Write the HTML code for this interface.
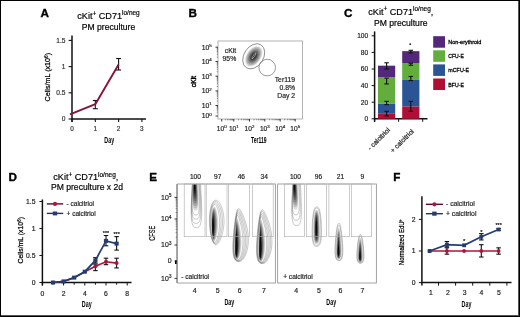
<!DOCTYPE html>
<html><head><meta charset="utf-8"><style>
html,body{margin:0;padding:0;background:#fff;overflow:hidden;}
svg{display:block;will-change:transform;}
text{font-family:"Liberation Sans", sans-serif;}
</style></head><body>
<svg width="520" height="317" viewBox="0 0 520 317" font-family='"Liberation Sans", sans-serif'>
<rect x="0" y="0" width="520" height="317" fill="#fff"/>
<text x="40.5" y="16.7" font-size="11.7" text-anchor="start" font-weight="bold" fill="#000" stroke="#000" stroke-width="0.35">A</text>
<text x="108.5" y="19.2" font-size="9.1" text-anchor="middle" font-weight="normal" fill="#000"  stroke="#000" stroke-width="0.18">cKit<tspan font-size="6.5" dy="-3.4">+</tspan><tspan dy="3.4"> CD71</tspan><tspan font-size="6.5" dy="-3.8">lo/neg</tspan></text>
<text x="108.5" y="29.8" font-size="8.6" text-anchor="middle" font-weight="normal" fill="#000"  stroke="#000" stroke-width="0.18">PM preculture</text>
<line x1="72" y1="35.5" x2="72" y2="122" stroke="#111" stroke-width="1.5" />
<line x1="71.4" y1="119" x2="146" y2="119" stroke="#111" stroke-width="1.5" />
<line x1="68.6" y1="119.0" x2="72" y2="119.0" stroke="#111" stroke-width="1.1" />
<text x="65.4" y="121.4" font-size="6.6" text-anchor="end" font-weight="normal" fill="#333"  stroke="#333" stroke-width="0.18">0</text>
<line x1="68.6" y1="92.8" x2="72" y2="92.8" stroke="#111" stroke-width="1.1" />
<text x="65.4" y="95.2" font-size="6.6" text-anchor="end" font-weight="normal" fill="#333"  stroke="#333" stroke-width="0.18">0.5</text>
<line x1="68.6" y1="66.6" x2="72" y2="66.6" stroke="#111" stroke-width="1.1" />
<text x="65.4" y="69.0" font-size="6.6" text-anchor="end" font-weight="normal" fill="#333"  stroke="#333" stroke-width="0.18">1</text>
<line x1="68.6" y1="40.400000000000006" x2="72" y2="40.400000000000006" stroke="#111" stroke-width="1.1" />
<text x="65.4" y="42.800000000000004" font-size="6.6" text-anchor="end" font-weight="normal" fill="#333"  stroke="#333" stroke-width="0.18">1.5</text>
<line x1="72" y1="119" x2="72" y2="122" stroke="#111" stroke-width="1.1" />
<text x="72" y="130.9" font-size="6.4" text-anchor="middle" font-weight="normal" fill="#333"  stroke="#333" stroke-width="0.18">0</text>
<line x1="95.3" y1="119" x2="95.3" y2="122" stroke="#111" stroke-width="1.1" />
<text x="95.3" y="130.9" font-size="6.4" text-anchor="middle" font-weight="normal" fill="#333"  stroke="#333" stroke-width="0.18">1</text>
<line x1="118.6" y1="119" x2="118.6" y2="122" stroke="#111" stroke-width="1.1" />
<text x="118.6" y="130.9" font-size="6.4" text-anchor="middle" font-weight="normal" fill="#333"  stroke="#333" stroke-width="0.18">2</text>
<line x1="141.9" y1="119" x2="141.9" y2="122" stroke="#111" stroke-width="1.1" />
<text x="141.9" y="130.9" font-size="6.4" text-anchor="middle" font-weight="normal" fill="#333"  stroke="#333" stroke-width="0.18">3</text>
<text x="109.2" y="143.2" font-size="9.2" text-anchor="middle" font-weight="bold" fill="#000" textLength="9.8" lengthAdjust="spacingAndGlyphs">Day</text>
<text transform="translate(50,77.2) rotate(-90)" font-size="7.8" stroke="#000" stroke-width="0.25" text-anchor="middle" textLength="48.5" lengthAdjust="spacingAndGlyphs">Cells/mL (x10<tspan font-size="5" dy="-2.5">6</tspan><tspan dy="2.5">)</tspan></text>
<line x1="95.3" y1="100.5" x2="95.3" y2="108.7" stroke="#111" stroke-width="1.1" />
<line x1="92.8" y1="100.5" x2="97.8" y2="100.5" stroke="#111" stroke-width="1.1" />
<line x1="92.8" y1="108.7" x2="97.8" y2="108.7" stroke="#111" stroke-width="1.1" />
<line x1="118.6" y1="58.5" x2="118.6" y2="70" stroke="#111" stroke-width="1.1" />
<line x1="116.1" y1="58.5" x2="121.1" y2="58.5" stroke="#111" stroke-width="1.1" />
<line x1="116.1" y1="70" x2="121.1" y2="70" stroke="#111" stroke-width="1.1" />
<polyline points="70,114.3 95.3,104.2 118.6,64.6" fill="none" stroke="#85143a" stroke-width="1.9" stroke-linejoin="round"/>
<text x="188.4" y="16.8" font-size="11.7" text-anchor="start" font-weight="bold" fill="#000" stroke="#000" stroke-width="0.35">B</text>
<rect x="218" y="41" width="84.5" height="78" fill="none" stroke="#aaa" stroke-width="0.9"/>
<line x1="215.5" y1="47.2" x2="218" y2="47.2" stroke="#222" stroke-width="0.9" />
<text x="211.7" y="49.6" font-size="6.8" text-anchor="end" font-weight="normal" fill="#222"  stroke="#222" stroke-width="0.18">10<tspan font-size="4.4" dy="-2.7">5</tspan></text>
<line x1="215.5" y1="61.5" x2="218" y2="61.5" stroke="#222" stroke-width="0.9" />
<text x="211.7" y="63.9" font-size="6.8" text-anchor="end" font-weight="normal" fill="#222"  stroke="#222" stroke-width="0.18">10<tspan font-size="4.4" dy="-2.7">4</tspan></text>
<line x1="215.5" y1="76.2" x2="218" y2="76.2" stroke="#222" stroke-width="0.9" />
<text x="211.7" y="78.60000000000001" font-size="6.8" text-anchor="end" font-weight="normal" fill="#222"  stroke="#222" stroke-width="0.18">10<tspan font-size="4.4" dy="-2.7">3</tspan></text>
<line x1="215.5" y1="90.9" x2="218" y2="90.9" stroke="#222" stroke-width="0.9" />
<text x="211.7" y="93.30000000000001" font-size="6.8" text-anchor="end" font-weight="normal" fill="#222"  stroke="#222" stroke-width="0.18">10<tspan font-size="4.4" dy="-2.7">2</tspan></text>
<line x1="215.5" y1="105.5" x2="218" y2="105.5" stroke="#222" stroke-width="0.9" />
<text x="211.7" y="107.9" font-size="6.8" text-anchor="end" font-weight="normal" fill="#222"  stroke="#222" stroke-width="0.18">10<tspan font-size="4.4" dy="-2.7">1</tspan></text>
<line x1="215.5" y1="116.0" x2="218" y2="116.0" stroke="#222" stroke-width="0.9" />
<text x="211.7" y="118.4" font-size="6.8" text-anchor="end" font-weight="normal" fill="#222"  stroke="#222" stroke-width="0.18">10<tspan font-size="4.4" dy="-2.7">0</tspan></text>
<line x1="216.8" y1="112.8391850455282" x2="218" y2="112.8391850455282" stroke="#444" stroke-width="0.6" />
<line x1="216.8" y1="110.99022682544354" x2="218" y2="110.99022682544354" stroke="#444" stroke-width="0.6" />
<line x1="216.8" y1="109.6783700910564" x2="218" y2="109.6783700910564" stroke="#444" stroke-width="0.6" />
<line x1="216.8" y1="108.6608149544718" x2="218" y2="108.6608149544718" stroke="#444" stroke-width="0.6" />
<line x1="216.8" y1="107.82941187097174" x2="218" y2="107.82941187097174" stroke="#444" stroke-width="0.6" />
<line x1="216.8" y1="107.1264705798503" x2="218" y2="107.1264705798503" stroke="#444" stroke-width="0.6" />
<line x1="216.8" y1="106.51755513658459" x2="218" y2="106.51755513658459" stroke="#444" stroke-width="0.6" />
<line x1="216.8" y1="105.98045365088709" x2="218" y2="105.98045365088709" stroke="#444" stroke-width="0.6" />
<line x1="216.8" y1="101.10496206330588" x2="218" y2="101.10496206330588" stroke="#444" stroke-width="0.6" />
<line x1="216.8" y1="98.53402968109293" x2="218" y2="98.53402968109293" stroke="#444" stroke-width="0.6" />
<line x1="216.8" y1="96.70992412661175" x2="218" y2="96.70992412661175" stroke="#444" stroke-width="0.6" />
<line x1="216.8" y1="95.29503793669413" x2="218" y2="95.29503793669413" stroke="#444" stroke-width="0.6" />
<line x1="216.8" y1="94.13899174439881" x2="218" y2="94.13899174439881" stroke="#444" stroke-width="0.6" />
<line x1="216.8" y1="93.16156861579185" x2="218" y2="93.16156861579185" stroke="#444" stroke-width="0.6" />
<line x1="216.8" y1="92.31488618991763" x2="218" y2="92.31488618991763" stroke="#444" stroke-width="0.6" />
<line x1="216.8" y1="91.56805936218586" x2="218" y2="91.56805936218586" stroke="#444" stroke-width="0.6" />
<line x1="216.8" y1="86.47485906373949" x2="218" y2="86.47485906373949" stroke="#444" stroke-width="0.6" />
<line x1="216.8" y1="83.88631755562096" x2="218" y2="83.88631755562096" stroke="#444" stroke-width="0.6" />
<line x1="216.8" y1="82.04971812747895" x2="218" y2="82.04971812747895" stroke="#444" stroke-width="0.6" />
<line x1="216.8" y1="80.62514093626052" x2="218" y2="80.62514093626052" stroke="#444" stroke-width="0.6" />
<line x1="216.8" y1="79.46117661936044" x2="218" y2="79.46117661936044" stroke="#444" stroke-width="0.6" />
<line x1="216.8" y1="78.47705881179043" x2="218" y2="78.47705881179043" stroke="#444" stroke-width="0.6" />
<line x1="216.8" y1="77.62457719121844" x2="218" y2="77.62457719121844" stroke="#444" stroke-width="0.6" />
<line x1="216.8" y1="76.87263511124192" x2="218" y2="76.87263511124192" stroke="#444" stroke-width="0.6" />
<line x1="216.8" y1="71.77485906373948" x2="218" y2="71.77485906373948" stroke="#444" stroke-width="0.6" />
<line x1="216.8" y1="69.18631755562096" x2="218" y2="69.18631755562096" stroke="#444" stroke-width="0.6" />
<line x1="216.8" y1="67.34971812747895" x2="218" y2="67.34971812747895" stroke="#444" stroke-width="0.6" />
<line x1="216.8" y1="65.92514093626052" x2="218" y2="65.92514093626052" stroke="#444" stroke-width="0.6" />
<line x1="216.8" y1="64.76117661936044" x2="218" y2="64.76117661936044" stroke="#444" stroke-width="0.6" />
<line x1="216.8" y1="63.777058811790425" x2="218" y2="63.777058811790425" stroke="#444" stroke-width="0.6" />
<line x1="216.8" y1="62.92457719121843" x2="218" y2="62.92457719121843" stroke="#444" stroke-width="0.6" />
<line x1="216.8" y1="62.172635111241924" x2="218" y2="62.172635111241924" stroke="#444" stroke-width="0.6" />
<line x1="216.8" y1="57.19527106200507" x2="218" y2="57.19527106200507" stroke="#444" stroke-width="0.6" />
<line x1="216.8" y1="54.67716605750883" x2="218" y2="54.67716605750883" stroke="#444" stroke-width="0.6" />
<line x1="216.8" y1="52.89054212401014" x2="218" y2="52.89054212401014" stroke="#444" stroke-width="0.6" />
<line x1="216.8" y1="51.50472893799493" x2="218" y2="51.50472893799493" stroke="#444" stroke-width="0.6" />
<line x1="216.8" y1="50.3724371195139" x2="218" y2="50.3724371195139" stroke="#444" stroke-width="0.6" />
<line x1="216.8" y1="49.415098027796134" x2="218" y2="49.415098027796134" stroke="#444" stroke-width="0.6" />
<line x1="216.8" y1="48.58581318601521" x2="218" y2="48.58581318601521" stroke="#444" stroke-width="0.6" />
<line x1="216.8" y1="47.854332115017655" x2="218" y2="47.854332115017655" stroke="#444" stroke-width="0.6" />
<line x1="221.7" y1="119" x2="221.7" y2="121.5" stroke="#222" stroke-width="0.9" />
<text x="221.7" y="131.1" font-size="6.6" text-anchor="middle" font-weight="normal" fill="#222"  stroke="#222" stroke-width="0.18">10<tspan font-size="4.4" dy="-2.7">0</tspan></text>
<line x1="233.8" y1="119" x2="233.8" y2="121.5" stroke="#222" stroke-width="0.9" />
<text x="233.8" y="131.1" font-size="6.6" text-anchor="middle" font-weight="normal" fill="#222"  stroke="#222" stroke-width="0.18">10<tspan font-size="4.4" dy="-2.7">1</tspan></text>
<line x1="249.5" y1="119" x2="249.5" y2="121.5" stroke="#222" stroke-width="0.9" />
<text x="249.5" y="131.1" font-size="6.6" text-anchor="middle" font-weight="normal" fill="#222"  stroke="#222" stroke-width="0.18">10<tspan font-size="4.4" dy="-2.7">2</tspan></text>
<line x1="264.8" y1="119" x2="264.8" y2="121.5" stroke="#222" stroke-width="0.9" />
<text x="264.8" y="131.1" font-size="6.6" text-anchor="middle" font-weight="normal" fill="#222"  stroke="#222" stroke-width="0.18">10<tspan font-size="4.4" dy="-2.7">3</tspan></text>
<line x1="280.2" y1="119" x2="280.2" y2="121.5" stroke="#222" stroke-width="0.9" />
<text x="280.2" y="131.1" font-size="6.6" text-anchor="middle" font-weight="normal" fill="#222"  stroke="#222" stroke-width="0.18">10<tspan font-size="4.4" dy="-2.7">4</tspan></text>
<line x1="295.2" y1="119" x2="295.2" y2="121.5" stroke="#222" stroke-width="0.9" />
<text x="295.2" y="131.1" font-size="6.6" text-anchor="middle" font-weight="normal" fill="#222"  stroke="#222" stroke-width="0.18">10<tspan font-size="4.4" dy="-2.7">5</tspan></text>
<line x1="225.34246294753416" y1="119" x2="225.34246294753416" y2="120.3" stroke="#444" stroke-width="0.6" />
<line x1="227.47316718210791" y1="119" x2="227.47316718210791" y2="120.3" stroke="#444" stroke-width="0.6" />
<line x1="228.98492589506836" y1="119" x2="228.98492589506836" y2="120.3" stroke="#444" stroke-width="0.6" />
<line x1="230.15753705246584" y1="119" x2="230.15753705246584" y2="120.3" stroke="#444" stroke-width="0.6" />
<line x1="231.11563012964208" y1="119" x2="231.11563012964208" y2="120.3" stroke="#444" stroke-width="0.6" />
<line x1="231.9256862841725" y1="119" x2="231.9256862841725" y2="120.3" stroke="#444" stroke-width="0.6" />
<line x1="232.62738884260253" y1="119" x2="232.62738884260253" y2="120.3" stroke="#444" stroke-width="0.6" />
<line x1="233.24633436421584" y1="119" x2="233.24633436421584" y2="120.3" stroke="#444" stroke-width="0.6" />
<line x1="238.52617093192453" y1="119" x2="238.52617093192453" y2="120.3" stroke="#444" stroke-width="0.6" />
<line x1="241.29080369909872" y1="119" x2="241.29080369909872" y2="120.3" stroke="#444" stroke-width="0.6" />
<line x1="243.252341863849" y1="119" x2="243.252341863849" y2="120.3" stroke="#444" stroke-width="0.6" />
<line x1="244.7738290680755" y1="119" x2="244.7738290680755" y2="120.3" stroke="#444" stroke-width="0.6" />
<line x1="246.0169746310232" y1="119" x2="246.0169746310232" y2="120.3" stroke="#444" stroke-width="0.6" />
<line x1="247.06803922822382" y1="119" x2="247.06803922822382" y2="120.3" stroke="#444" stroke-width="0.6" />
<line x1="247.97851279577353" y1="119" x2="247.97851279577353" y2="120.3" stroke="#444" stroke-width="0.6" />
<line x1="248.7816073981974" y1="119" x2="248.7816073981974" y2="120.3" stroke="#444" stroke-width="0.6" />
<line x1="254.1057589336589" y1="119" x2="254.1057589336589" y2="120.3" stroke="#444" stroke-width="0.6" />
<line x1="256.79995519721086" y1="119" x2="256.79995519721086" y2="120.3" stroke="#444" stroke-width="0.6" />
<line x1="258.7115178673178" y1="119" x2="258.7115178673178" y2="120.3" stroke="#444" stroke-width="0.6" />
<line x1="260.1942410663411" y1="119" x2="260.1942410663411" y2="120.3" stroke="#444" stroke-width="0.6" />
<line x1="261.40571413086974" y1="119" x2="261.40571413086974" y2="120.3" stroke="#444" stroke-width="0.6" />
<line x1="262.43000001221816" y1="119" x2="262.43000001221816" y2="120.3" stroke="#444" stroke-width="0.6" />
<line x1="263.31727680097674" y1="119" x2="263.31727680097674" y2="120.3" stroke="#444" stroke-width="0.6" />
<line x1="264.09991039442167" y1="119" x2="264.09991039442167" y2="120.3" stroke="#444" stroke-width="0.6" />
<line x1="269.43586193322534" y1="119" x2="269.43586193322534" y2="120.3" stroke="#444" stroke-width="0.6" />
<line x1="272.1476673226828" y1="119" x2="272.1476673226828" y2="120.3" stroke="#444" stroke-width="0.6" />
<line x1="274.0717238664506" y1="119" x2="274.0717238664506" y2="120.3" stroke="#444" stroke-width="0.6" />
<line x1="275.56413806677466" y1="119" x2="275.56413806677466" y2="120.3" stroke="#444" stroke-width="0.6" />
<line x1="276.7835292559081" y1="119" x2="276.7835292559081" y2="120.3" stroke="#444" stroke-width="0.6" />
<line x1="277.8145098162195" y1="119" x2="277.8145098162195" y2="120.3" stroke="#444" stroke-width="0.6" />
<line x1="278.70758579967594" y1="119" x2="278.70758579967594" y2="120.3" stroke="#444" stroke-width="0.6" />
<line x1="279.4953346453656" y1="119" x2="279.4953346453656" y2="120.3" stroke="#444" stroke-width="0.6" />
<line x1="284.7154499349597" y1="119" x2="284.7154499349597" y2="120.3" stroke="#444" stroke-width="0.6" />
<line x1="287.3568188207949" y1="119" x2="287.3568188207949" y2="120.3" stroke="#444" stroke-width="0.6" />
<line x1="289.2308998699194" y1="119" x2="289.2308998699194" y2="120.3" stroke="#444" stroke-width="0.6" />
<line x1="290.6845500650403" y1="119" x2="290.6845500650403" y2="120.3" stroke="#444" stroke-width="0.6" />
<line x1="291.87226875575465" y1="119" x2="291.87226875575465" y2="120.3" stroke="#444" stroke-width="0.6" />
<line x1="292.87647060021385" y1="119" x2="292.87647060021385" y2="120.3" stroke="#444" stroke-width="0.6" />
<line x1="293.7463498048791" y1="119" x2="293.7463498048791" y2="120.3" stroke="#444" stroke-width="0.6" />
<line x1="294.51363764158987" y1="119" x2="294.51363764158987" y2="120.3" stroke="#444" stroke-width="0.6" />
<text transform="translate(196,81.5) rotate(-90)" font-size="7.2" text-anchor="middle" textLength="11.3" lengthAdjust="spacingAndGlyphs" fill="#000" stroke="#000" stroke-width="0.4">cKit</text>
<text x="258.8" y="143.3" font-size="8.6" text-anchor="middle" font-weight="bold" fill="#000" textLength="15.5" lengthAdjust="spacingAndGlyphs">Ter119</text>
<defs><radialGradient id="gB" cx="0.5" cy="0.5" r="0.5"><stop offset="0" stop-color="#2a2a2a"/><stop offset="0.3" stop-color="#444"/><stop offset="0.55" stop-color="#888"/><stop offset="0.8" stop-color="#c8c8c8"/><stop offset="1" stop-color="#fff" stop-opacity="0"/></radialGradient></defs>
<g transform="translate(253.7,56.3) rotate(-57)">
<ellipse cx="0" cy="0" rx="12.5" ry="8" fill="url(#gB)"/>
<ellipse cx="0.5" cy="0" rx="3.5" ry="0.7" fill="none" stroke="#bbb" stroke-width="0.6"/>
<ellipse cx="0" cy="0" rx="13.6" ry="9.7" fill="none" stroke="#777" stroke-width="0.75"/>
</g>
<ellipse cx="267.2" cy="67.6" rx="8.3" ry="8.3" fill="none" stroke="#777" stroke-width="0.75"/>
<text x="236.2" y="53.3" font-size="6.8" text-anchor="end" font-weight="normal" fill="#222"  stroke="#222" stroke-width="0.18">cKit</text>
<text x="236.2" y="61" font-size="6.8" text-anchor="end" font-weight="normal" fill="#222"  stroke="#222" stroke-width="0.18">95%</text>
<text x="295" y="82" font-size="6.8" text-anchor="end" font-weight="normal" fill="#222"  stroke="#222" stroke-width="0.18">Ter119</text>
<text x="295" y="89.5" font-size="6.8" text-anchor="end" font-weight="normal" fill="#222"  stroke="#222" stroke-width="0.18">0.8%</text>
<text x="295" y="98.0" font-size="6.8" text-anchor="end" font-weight="normal" fill="#222"  stroke="#222" stroke-width="0.18">Day 2</text>
<text x="344.1" y="16.8" font-size="11.7" text-anchor="start" font-weight="bold" fill="#000" stroke="#000" stroke-width="0.35">C</text>
<text x="400.8" y="14.5" font-size="9.1" text-anchor="middle" font-weight="normal" fill="#000"  stroke="#000" stroke-width="0.18">cKit<tspan font-size="6.5" dy="-3.4">+</tspan><tspan dy="3.4"> CD71</tspan><tspan font-size="6.5" dy="-3.8">lo/neg</tspan><tspan dy="3.8">,</tspan></text>
<text x="400.8" y="25.8" font-size="8.6" text-anchor="middle" font-weight="normal" fill="#000"  stroke="#000" stroke-width="0.18">PM preculture</text>
<line x1="374.6" y1="31.4" x2="374.6" y2="121.8" stroke="#111" stroke-width="1.5" />
<line x1="374.0" y1="118.8" x2="427.5" y2="118.8" stroke="#111" stroke-width="1.5" />
<line x1="371.6" y1="118.8" x2="374.6" y2="118.8" stroke="#111" stroke-width="1" />
<text x="368.2" y="121.2" font-size="6.6" text-anchor="end" font-weight="normal" fill="#222"  stroke="#222" stroke-width="0.18">0</text>
<line x1="371.6" y1="102.2" x2="374.6" y2="102.2" stroke="#111" stroke-width="1" />
<text x="368.2" y="104.60000000000001" font-size="6.6" text-anchor="end" font-weight="normal" fill="#222"  stroke="#222" stroke-width="0.18">20</text>
<line x1="371.6" y1="85.6" x2="374.6" y2="85.6" stroke="#111" stroke-width="1" />
<text x="368.2" y="88.0" font-size="6.6" text-anchor="end" font-weight="normal" fill="#222"  stroke="#222" stroke-width="0.18">40</text>
<line x1="371.6" y1="69.0" x2="374.6" y2="69.0" stroke="#111" stroke-width="1" />
<text x="368.2" y="71.4" font-size="6.6" text-anchor="end" font-weight="normal" fill="#222"  stroke="#222" stroke-width="0.18">60</text>
<line x1="371.6" y1="52.400000000000006" x2="374.6" y2="52.400000000000006" stroke="#111" stroke-width="1" />
<text x="368.2" y="54.800000000000004" font-size="6.6" text-anchor="end" font-weight="normal" fill="#222"  stroke="#222" stroke-width="0.18">80</text>
<line x1="371.6" y1="35.8" x2="374.6" y2="35.8" stroke="#111" stroke-width="1" />
<text x="368.2" y="38.199999999999996" font-size="6.6" text-anchor="end" font-weight="normal" fill="#222"  stroke="#222" stroke-width="0.18">100</text>
<line x1="374.6" y1="118.8" x2="374.6" y2="121.8" stroke="#111" stroke-width="1" />
<line x1="398.6" y1="118.8" x2="398.6" y2="121.8" stroke="#111" stroke-width="1" />
<line x1="422.7" y1="118.8" x2="422.7" y2="121.8" stroke="#111" stroke-width="1" />
<rect x="378" y="113.82" width="17.2" height="4.98" fill="#b10e36"/>
<rect x="378" y="103.86" width="17.2" height="9.96" fill="#2b5495"/>
<rect x="378" y="77.30" width="17.2" height="26.56" fill="#62ad3c"/>
<rect x="378" y="65.68" width="17.2" height="11.62" fill="#53277a"/>
<rect x="402.2" y="106.35" width="17.2" height="12.45" fill="#b10e36"/>
<rect x="402.2" y="79.96" width="17.2" height="26.39" fill="#2b5495"/>
<rect x="402.2" y="63.19" width="17.2" height="16.77" fill="#62ad3c"/>
<rect x="402.2" y="51.16" width="17.2" height="12.04" fill="#53277a"/>
<line x1="386.6" y1="111.33" x2="386.6" y2="115.895" stroke="#111" stroke-width="1.1" />
<line x1="384.35" y1="111.33" x2="388.85" y2="111.33" stroke="#111" stroke-width="1.1" />
<line x1="384.35" y1="115.895" x2="388.85" y2="115.895" stroke="#111" stroke-width="1.1" />
<line x1="386.6" y1="101.37" x2="386.6" y2="104.69" stroke="#111" stroke-width="1.1" />
<line x1="384.35" y1="101.37" x2="388.85" y2="101.37" stroke="#111" stroke-width="1.1" />
<line x1="384.35" y1="104.69" x2="388.85" y2="104.69" stroke="#111" stroke-width="1.1" />
<line x1="386.6" y1="78.13" x2="386.6" y2="83.94" stroke="#111" stroke-width="1.1" />
<line x1="384.35" y1="78.13" x2="388.85" y2="78.13" stroke="#111" stroke-width="1.1" />
<line x1="384.35" y1="83.94" x2="388.85" y2="83.94" stroke="#111" stroke-width="1.1" />
<line x1="386.6" y1="62.775" x2="386.6" y2="69.0" stroke="#111" stroke-width="1.1" />
<line x1="384.35" y1="62.775" x2="388.85" y2="62.775" stroke="#111" stroke-width="1.1" />
<line x1="384.35" y1="69.0" x2="388.85" y2="69.0" stroke="#111" stroke-width="1.1" />
<line x1="410.8" y1="101.37" x2="410.8" y2="111.33" stroke="#111" stroke-width="1.1" />
<line x1="408.55" y1="101.37" x2="413.05" y2="101.37" stroke="#111" stroke-width="1.1" />
<line x1="408.55" y1="111.33" x2="413.05" y2="111.33" stroke="#111" stroke-width="1.1" />
<line x1="410.8" y1="76.47" x2="410.8" y2="80.62" stroke="#111" stroke-width="1.1" />
<line x1="408.55" y1="76.47" x2="413.05" y2="76.47" stroke="#111" stroke-width="1.1" />
<line x1="408.55" y1="80.62" x2="413.05" y2="80.62" stroke="#111" stroke-width="1.1" />
<line x1="410.8" y1="63.19" x2="410.8" y2="65.265" stroke="#111" stroke-width="1.1" />
<line x1="408.55" y1="63.19" x2="413.05" y2="63.19" stroke="#111" stroke-width="1.1" />
<line x1="408.55" y1="65.265" x2="413.05" y2="65.265" stroke="#111" stroke-width="1.1" />
<line x1="410.8" y1="50.325" x2="410.8" y2="52.815" stroke="#111" stroke-width="1.1" />
<line x1="408.55" y1="50.325" x2="413.05" y2="50.325" stroke="#111" stroke-width="1.1" />
<line x1="408.55" y1="52.815" x2="413.05" y2="52.815" stroke="#111" stroke-width="1.1" />
<circle cx="410.2" cy="44.1" r="0.9" fill="#111"/>
<rect x="433.2" y="36.20" width="11.8" height="11.5" fill="#53277a"/>
<text x="448.3" y="44.2" font-size="6.1" text-anchor="start" font-weight="normal" fill="#000" textLength="33" lengthAdjust="spacingAndGlyphs" stroke="#000" stroke-width="0.3">Non-erythroid</text>
<rect x="433.2" y="50.30" width="11.8" height="11.5" fill="#62ad3c"/>
<text x="448.3" y="58.300000000000004" font-size="6.1" text-anchor="start" font-weight="normal" fill="#000" textLength="15.5" lengthAdjust="spacingAndGlyphs" stroke="#000" stroke-width="0.3">CFU-E</text>
<rect x="433.2" y="64.40" width="11.8" height="11.5" fill="#2b5495"/>
<text x="448.3" y="72.4" font-size="6.1" text-anchor="start" font-weight="normal" fill="#000" textLength="20.8" lengthAdjust="spacingAndGlyphs" stroke="#000" stroke-width="0.3">mCFU-E</text>
<rect x="433.2" y="78.50" width="11.8" height="11.5" fill="#b10e36"/>
<text x="448.3" y="86.5" font-size="6.1" text-anchor="start" font-weight="normal" fill="#000" textLength="15.6" lengthAdjust="spacingAndGlyphs" stroke="#000" stroke-width="0.3">BFU-E</text>
<text transform="translate(390.6,130.4) rotate(-45)" font-size="6.8" text-anchor="end" fill="#222" stroke="#222" stroke-width="0.2">- calcitriol</text>
<text transform="translate(414.4,131.8) rotate(-45)" font-size="6.8" text-anchor="end" fill="#222" stroke="#222" stroke-width="0.2">+ calcitriol</text>
<text x="8.5" y="180.6" font-size="11.7" text-anchor="start" font-weight="bold" fill="#000" stroke="#000" stroke-width="0.35">D</text>
<text x="85.8" y="180.4" font-size="9.1" text-anchor="middle" font-weight="normal" fill="#000"  stroke="#000" stroke-width="0.18">cKit<tspan font-size="6.5" dy="-3.4">+</tspan><tspan dy="3.4"> CD71</tspan><tspan font-size="6.5" dy="-3.8">lo/neg</tspan><tspan dy="3.8">,</tspan></text>
<text x="87" y="190" font-size="8.6" text-anchor="middle" font-weight="normal" fill="#000"  stroke="#000" stroke-width="0.18">PM preculture x 2d</text>
<line x1="42.4" y1="199.5" x2="42.4" y2="285.5" stroke="#111" stroke-width="1.5" />
<line x1="41.8" y1="282.5" x2="131.5" y2="282.5" stroke="#111" stroke-width="1.5" />
<line x1="39.4" y1="282.5" x2="42.4" y2="282.5" stroke="#111" stroke-width="1" />
<text x="35.5" y="284.9" font-size="6.8" text-anchor="end" font-weight="normal" fill="#222"  stroke="#222" stroke-width="0.18">0</text>
<line x1="39.4" y1="255.5" x2="42.4" y2="255.5" stroke="#111" stroke-width="1" />
<text x="35.5" y="257.9" font-size="6.8" text-anchor="end" font-weight="normal" fill="#222"  stroke="#222" stroke-width="0.18">0.5</text>
<line x1="39.4" y1="228.5" x2="42.4" y2="228.5" stroke="#111" stroke-width="1" />
<text x="35.5" y="230.9" font-size="6.8" text-anchor="end" font-weight="normal" fill="#222"  stroke="#222" stroke-width="0.18">1</text>
<line x1="39.4" y1="201.5" x2="42.4" y2="201.5" stroke="#111" stroke-width="1" />
<text x="35.5" y="203.9" font-size="6.8" text-anchor="end" font-weight="normal" fill="#222"  stroke="#222" stroke-width="0.18">1.5</text>
<line x1="42.4" y1="282.5" x2="42.4" y2="285.5" stroke="#111" stroke-width="1" />
<text x="42.4" y="295.5" font-size="6.8" text-anchor="middle" font-weight="normal" fill="#222"  stroke="#222" stroke-width="0.18">0</text>
<line x1="53.0" y1="282.5" x2="53.0" y2="284.7" stroke="#111" stroke-width="1" />
<line x1="63.599999999999994" y1="282.5" x2="63.599999999999994" y2="285.5" stroke="#111" stroke-width="1" />
<text x="63.599999999999994" y="295.5" font-size="6.8" text-anchor="middle" font-weight="normal" fill="#222"  stroke="#222" stroke-width="0.18">2</text>
<line x1="74.19999999999999" y1="282.5" x2="74.19999999999999" y2="284.7" stroke="#111" stroke-width="1" />
<line x1="84.8" y1="282.5" x2="84.8" y2="285.5" stroke="#111" stroke-width="1" />
<text x="84.8" y="295.5" font-size="6.8" text-anchor="middle" font-weight="normal" fill="#222"  stroke="#222" stroke-width="0.18">4</text>
<line x1="95.4" y1="282.5" x2="95.4" y2="284.7" stroke="#111" stroke-width="1" />
<line x1="106.0" y1="282.5" x2="106.0" y2="285.5" stroke="#111" stroke-width="1" />
<text x="106.0" y="295.5" font-size="6.8" text-anchor="middle" font-weight="normal" fill="#222"  stroke="#222" stroke-width="0.18">6</text>
<line x1="116.6" y1="282.5" x2="116.6" y2="284.7" stroke="#111" stroke-width="1" />
<line x1="127.19999999999999" y1="282.5" x2="127.19999999999999" y2="285.5" stroke="#111" stroke-width="1" />
<text x="127.19999999999999" y="295.5" font-size="6.8" text-anchor="middle" font-weight="normal" fill="#222"  stroke="#222" stroke-width="0.18">8</text>
<text x="86.7" y="306.9" font-size="9.2" text-anchor="middle" font-weight="bold" fill="#000" textLength="9.8" lengthAdjust="spacingAndGlyphs">Day</text>
<text transform="translate(23.2,240.3) rotate(-90)" font-size="7.8" stroke="#000" stroke-width="0.25" text-anchor="middle" textLength="46.5" lengthAdjust="spacingAndGlyphs">Cells/mL (x10<tspan font-size="5" dy="-2.5">6</tspan><tspan dy="2.5">)</tspan></text>
<line x1="106.0" y1="235.52" x2="106.0" y2="245.78" stroke="#111" stroke-width="1.1" />
<line x1="103.75" y1="235.52" x2="108.25" y2="235.52" stroke="#111" stroke-width="1.1" />
<line x1="103.75" y1="245.78" x2="108.25" y2="245.78" stroke="#111" stroke-width="1.1" />
<line x1="116.6" y1="236.6" x2="116.6" y2="250.1" stroke="#111" stroke-width="1.1" />
<line x1="114.35" y1="236.6" x2="118.85" y2="236.6" stroke="#111" stroke-width="1.1" />
<line x1="114.35" y1="250.1" x2="118.85" y2="250.1" stroke="#111" stroke-width="1.1" />
<line x1="95.4" y1="257.66" x2="95.4" y2="263.06" stroke="#111" stroke-width="1.1" />
<line x1="93.15" y1="257.66" x2="97.65" y2="257.66" stroke="#111" stroke-width="1.1" />
<line x1="93.15" y1="263.06" x2="97.65" y2="263.06" stroke="#111" stroke-width="1.1" />
<line x1="106.0" y1="258.2" x2="106.0" y2="264.68" stroke="#111" stroke-width="1.1" />
<line x1="103.75" y1="258.2" x2="108.25" y2="258.2" stroke="#111" stroke-width="1.1" />
<line x1="103.75" y1="264.68" x2="108.25" y2="264.68" stroke="#111" stroke-width="1.1" />
<line x1="116.6" y1="258.2" x2="116.6" y2="267.92" stroke="#111" stroke-width="1.1" />
<line x1="114.35" y1="258.2" x2="118.85" y2="258.2" stroke="#111" stroke-width="1.1" />
<line x1="114.35" y1="267.92" x2="118.85" y2="267.92" stroke="#111" stroke-width="1.1" />
<line x1="95.4" y1="264.14" x2="95.4" y2="270.62" stroke="#111" stroke-width="1.1" />
<line x1="93.15" y1="264.14" x2="97.65" y2="264.14" stroke="#111" stroke-width="1.1" />
<line x1="93.15" y1="270.62" x2="97.65" y2="270.62" stroke="#111" stroke-width="1.1" />
<polyline points="53.0,282.5 63.6,281.4 74.2,277.6 84.8,271.7 95.4,266.3 106.0,261.7 116.6,263.1" fill="none" stroke="#b0143a" stroke-width="1.6"/>
<polyline points="53.0,282.5 63.6,281.4 74.2,277.6 84.8,271.7 95.4,260.4 106.0,240.9 116.6,243.6" fill="none" stroke="#243d70" stroke-width="1.7"/>
<circle cx="95.4" cy="266.3" r="2" fill="#b0143a"/>
<circle cx="106.0" cy="261.7" r="2" fill="#b0143a"/>
<circle cx="116.6" cy="263.1" r="2" fill="#b0143a"/>
<rect x="50.9" y="280.5" width="4.2" height="4" fill="#243d70"/>
<rect x="61.5" y="279.4" width="4.2" height="4" fill="#243d70"/>
<rect x="72.1" y="275.6" width="4.2" height="4" fill="#243d70"/>
<rect x="82.7" y="269.7" width="4.2" height="4" fill="#243d70"/>
<rect x="93.3" y="258.4" width="4.2" height="4" fill="#243d70"/>
<rect x="103.9" y="238.9" width="4.2" height="4" fill="#243d70"/>
<rect x="114.5" y="241.6" width="4.2" height="4" fill="#243d70"/>
<text x="106.0" y="234.6" font-size="5.5" text-anchor="middle" font-weight="normal" fill="#111"  stroke="#111" stroke-width="0.18">***</text>
<text x="116.6" y="236.4" font-size="5.5" text-anchor="middle" font-weight="normal" fill="#111"  stroke="#111" stroke-width="0.18">***</text>
<line x1="46.8" y1="203.9" x2="63.2" y2="203.9" stroke="#5e0c22" stroke-width="1.4" />
<circle cx="55" cy="203.9" r="2.1" fill="#b0143a"/>
<text x="66.6" y="205.9" font-size="6.5" text-anchor="start" font-weight="normal" fill="#222"  stroke="#222" stroke-width="0.18">- calcitriol</text>
<line x1="46.8" y1="213.4" x2="63.2" y2="213.4" stroke="#1f3560" stroke-width="1.4" />
<rect x="52.8" y="211.5" width="4.4" height="3.9" fill="#243d70"/>
<text x="66.6" y="215.7" font-size="6.5" text-anchor="start" font-weight="normal" fill="#222"  stroke="#222" stroke-width="0.18">+ calcitriol</text>
<text x="149.2" y="180.8" font-size="11.7" text-anchor="start" font-weight="bold" fill="#000" stroke="#000" stroke-width="0.35">E</text>
<defs><clipPath id="cL"><rect x="177.5" y="184" width="97.9" height="99"/></clipPath><clipPath id="cR"><rect x="277.6" y="184" width="98.8" height="99"/></clipPath></defs>
<g clip-path="url(#cL)">
<path d="M196.40,150.00 L197.09,150.21 L197.47,150.85 L197.80,151.90 L198.10,153.35 L198.38,155.19 L198.66,157.40 L198.94,159.95 L199.21,162.82 L199.47,165.97 L199.72,169.38 L199.96,172.99 L200.20,176.78 L200.42,180.69 L200.63,184.70 L200.84,188.75 L201.05,192.80 L201.25,196.81 L201.42,200.72 L201.56,204.51 L201.65,208.12 L201.67,211.53 L201.62,214.68 L201.49,217.55 L201.26,220.10 L200.92,222.31 L200.47,224.15 L199.89,225.60 L199.16,226.65 L198.21,227.29 L196.40,227.50 L196.40,227.50 L194.59,227.29 L193.64,226.65 L192.91,225.60 L192.33,224.15 L191.88,222.31 L191.54,220.10 L191.31,217.55 L191.18,214.68 L191.13,211.53 L191.15,208.12 L191.24,204.51 L191.38,200.72 L191.55,196.81 L191.75,192.80 L191.96,188.75 L192.17,184.70 L192.38,180.69 L192.60,176.78 L192.84,172.99 L193.08,169.38 L193.33,165.97 L193.59,162.82 L193.86,159.95 L194.14,157.40 L194.42,155.19 L194.70,153.35 L195.00,151.90 L195.33,150.85 L195.71,150.21 L196.40,150.00Z" fill="none" stroke="#555" stroke-width="0.42" stroke-opacity="0.75"/>
<path d="M196.18,153.23 L196.80,153.42 L197.14,154.00 L197.43,154.95 L197.70,156.26 L197.96,157.93 L198.21,159.93 L198.45,162.24 L198.69,164.83 L198.92,167.69 L199.15,170.76 L199.37,174.04 L199.58,177.46 L199.78,181.01 L199.97,184.63 L200.15,188.30 L200.34,191.96 L200.52,195.59 L200.67,199.14 L200.80,202.56 L200.88,205.83 L200.90,208.91 L200.85,211.76 L200.73,214.36 L200.53,216.67 L200.22,218.67 L199.82,220.33 L199.31,221.65 L198.65,222.60 L197.80,223.17 L196.18,223.37 L196.18,223.37 L194.56,223.17 L193.71,222.60 L193.05,221.65 L192.54,220.33 L192.13,218.67 L191.83,216.67 L191.63,214.36 L191.50,211.76 L191.46,208.91 L191.48,205.83 L191.56,202.56 L191.68,199.14 L191.84,195.59 L192.02,191.96 L192.20,188.30 L192.39,184.63 L192.58,181.01 L192.78,177.46 L192.99,174.04 L193.21,170.76 L193.43,167.69 L193.67,164.83 L193.91,162.24 L194.15,159.93 L194.40,157.93 L194.66,156.26 L194.93,154.95 L195.22,154.00 L195.56,153.42 L196.18,153.23Z" fill="none" stroke="#555" stroke-width="0.42" stroke-opacity="0.75"/>
<path d="M195.96,156.50 L196.51,156.67 L196.81,157.18 L197.06,158.03 L197.30,159.21 L197.53,160.70 L197.75,162.49 L197.96,164.55 L198.18,166.87 L198.38,169.42 L198.58,172.17 L198.77,175.09 L198.96,178.16 L199.13,181.33 L199.30,184.57 L199.47,187.84 L199.63,191.12 L199.79,194.36 L199.93,197.53 L200.04,200.59 L200.11,203.51 L200.12,206.26 L200.09,208.81 L199.98,211.13 L199.79,213.20 L199.53,214.99 L199.17,216.47 L198.72,217.65 L198.14,218.50 L197.39,219.01 L195.96,219.18 L195.96,219.18 L194.53,219.01 L193.78,218.50 L193.20,217.65 L192.74,216.47 L192.39,214.99 L192.12,213.20 L191.94,211.13 L191.83,208.81 L191.79,206.26 L191.81,203.51 L191.88,200.59 L191.99,197.53 L192.13,194.36 L192.29,191.12 L192.45,187.84 L192.62,184.57 L192.79,181.33 L192.96,178.16 L193.14,175.09 L193.34,172.17 L193.54,169.42 L193.74,166.87 L193.95,164.55 L194.17,162.49 L194.39,160.70 L194.62,159.21 L194.85,158.03 L195.11,157.18 L195.41,156.67 L195.96,156.50Z" fill="none" stroke="#555" stroke-width="0.42" stroke-opacity="0.75"/>
<path d="M195.74,159.81 L196.21,159.96 L196.47,160.41 L196.70,161.16 L196.90,162.20 L197.10,163.51 L197.29,165.08 L197.48,166.89 L197.66,168.93 L197.84,171.18 L198.01,173.60 L198.18,176.17 L198.34,178.86 L198.49,181.65 L198.64,184.50 L198.78,187.38 L198.92,190.26 L199.06,193.11 L199.18,195.90 L199.27,198.59 L199.33,201.16 L199.35,203.58 L199.32,205.83 L199.22,207.87 L199.06,209.68 L198.83,211.25 L198.53,212.56 L198.13,213.60 L197.63,214.34 L196.98,214.80 L195.74,214.95 L195.74,214.95 L194.50,214.80 L193.84,214.34 L193.35,213.60 L192.95,212.56 L192.64,211.25 L192.41,209.68 L192.25,207.87 L192.16,205.83 L192.13,203.58 L192.14,201.16 L192.20,198.59 L192.30,195.90 L192.42,193.11 L192.55,190.26 L192.70,187.38 L192.84,184.50 L192.99,181.65 L193.14,178.86 L193.30,176.17 L193.46,173.60 L193.64,171.18 L193.82,168.93 L194.00,166.89 L194.19,165.08 L194.38,163.51 L194.57,162.20 L194.78,161.16 L195.00,160.41 L195.26,159.96 L195.74,159.81Z" fill="none" stroke="#555" stroke-width="0.42" stroke-opacity="0.75"/>
<path d="M195.52,163.18 L195.92,163.31 L196.14,163.69 L196.33,164.34 L196.50,165.23 L196.67,166.36 L196.83,167.71 L196.99,169.27 L197.15,171.03 L197.30,172.96 L197.44,175.04 L197.58,177.26 L197.72,179.58 L197.85,181.97 L197.97,184.43 L198.09,186.91 L198.21,189.39 L198.33,191.84 L198.43,194.24 L198.51,196.56 L198.56,198.78 L198.58,200.86 L198.55,202.79 L198.47,204.55 L198.33,206.11 L198.14,207.46 L197.88,208.59 L197.54,209.48 L197.12,210.12 L196.57,210.51 L195.52,210.64 L195.52,210.64 L194.47,210.51 L193.91,210.12 L193.49,209.48 L193.16,208.59 L192.90,207.46 L192.70,206.11 L192.57,204.55 L192.49,202.79 L192.46,200.86 L192.47,198.78 L192.53,196.56 L192.61,194.24 L192.71,191.84 L192.82,189.39 L192.94,186.91 L193.06,184.43 L193.19,181.97 L193.32,179.58 L193.45,177.26 L193.59,175.04 L193.74,172.96 L193.89,171.03 L194.05,169.27 L194.21,167.71 L194.37,166.36 L194.53,165.23 L194.71,164.34 L194.89,163.69 L195.12,163.31 L195.52,163.18Z" fill="#000" fill-opacity="0.134" stroke="#222" stroke-width="0.3" stroke-opacity="0.0"/>
<path d="M195.40,165.04 L195.76,165.16 L195.96,165.52 L196.13,166.10 L196.28,166.91 L196.43,167.94 L196.58,169.17 L196.72,170.59 L196.86,172.19 L197.00,173.95 L197.13,175.85 L197.26,177.86 L197.38,179.97 L197.50,182.16 L197.61,184.39 L197.72,186.65 L197.83,188.91 L197.93,191.14 L198.02,193.32 L198.09,195.44 L198.14,197.45 L198.15,199.35 L198.13,201.10 L198.06,202.70 L197.93,204.13 L197.76,205.36 L197.52,206.39 L197.22,207.20 L196.84,207.78 L196.34,208.13 L195.40,208.25 L195.40,208.25 L194.45,208.13 L193.95,207.78 L193.57,207.20 L193.27,206.39 L193.04,205.36 L192.86,204.13 L192.74,202.70 L192.67,201.10 L192.64,199.35 L192.66,197.45 L192.70,195.44 L192.77,193.32 L192.86,191.14 L192.97,188.91 L193.08,186.65 L193.19,184.39 L193.30,182.16 L193.41,179.97 L193.54,177.86 L193.66,175.85 L193.79,173.95 L193.93,172.19 L194.07,170.59 L194.21,169.17 L194.36,167.94 L194.51,166.91 L194.67,166.10 L194.84,165.52 L195.04,165.16 L195.40,165.04Z" fill="#000" fill-opacity="0.134" stroke="#222" stroke-width="0.3" stroke-opacity="0.0"/>
<path d="M195.28,166.93 L195.60,167.04 L195.78,167.36 L195.93,167.88 L196.07,168.61 L196.20,169.54 L196.33,170.65 L196.46,171.93 L196.58,173.37 L196.70,174.95 L196.82,176.66 L196.93,178.47 L197.04,180.37 L197.14,182.34 L197.24,184.35 L197.34,186.38 L197.44,188.42 L197.53,190.43 L197.61,192.40 L197.68,194.30 L197.72,196.11 L197.73,197.82 L197.71,199.40 L197.64,200.84 L197.53,202.12 L197.38,203.23 L197.17,204.16 L196.90,204.89 L196.56,205.41 L196.12,205.73 L195.28,205.84 L195.28,205.84 L194.43,205.73 L193.99,205.41 L193.65,204.89 L193.38,204.16 L193.17,203.23 L193.02,202.12 L192.91,200.84 L192.85,199.40 L192.82,197.82 L192.84,196.11 L192.88,194.30 L192.94,192.40 L193.02,190.43 L193.11,188.42 L193.21,186.38 L193.31,184.35 L193.41,182.34 L193.51,180.37 L193.62,178.47 L193.73,176.66 L193.85,174.95 L193.97,173.37 L194.10,171.93 L194.22,170.65 L194.35,169.54 L194.49,168.61 L194.63,167.88 L194.78,167.36 L194.95,167.04 L195.28,166.93Z" fill="#000" fill-opacity="0.147" stroke="#222" stroke-width="0.3" stroke-opacity="0.0"/>
<path d="M195.16,168.84 L195.44,168.94 L195.59,169.22 L195.73,169.69 L195.85,170.34 L195.96,171.16 L196.08,172.14 L196.19,173.28 L196.30,174.56 L196.41,175.96 L196.51,177.48 L196.61,179.09 L196.70,180.78 L196.79,182.53 L196.88,184.31 L196.97,186.12 L197.05,187.92 L197.13,189.71 L197.20,191.46 L197.26,193.14 L197.29,194.75 L197.30,196.27 L197.28,197.68 L197.23,198.95 L197.13,200.09 L197.00,201.08 L196.81,201.90 L196.58,202.55 L196.28,203.01 L195.89,203.30 L195.16,203.39 L195.16,203.39 L194.42,203.30 L194.03,203.01 L193.73,202.55 L193.50,201.90 L193.31,201.08 L193.18,200.09 L193.08,198.95 L193.03,197.68 L193.01,196.27 L193.02,194.75 L193.05,193.14 L193.11,191.46 L193.18,189.71 L193.26,187.92 L193.35,186.12 L193.43,184.31 L193.52,182.53 L193.61,180.78 L193.70,179.09 L193.80,177.48 L193.91,175.96 L194.01,174.56 L194.12,173.28 L194.23,172.14 L194.35,171.16 L194.46,170.34 L194.59,169.69 L194.72,169.22 L194.87,168.94 L195.16,168.84Z" fill="#000" fill-opacity="0.167" stroke="#222" stroke-width="0.3" stroke-opacity="0.0"/>
<path d="M195.03,170.78 L195.28,170.87 L195.41,171.11 L195.52,171.52 L195.63,172.09 L195.73,172.80 L195.83,173.66 L195.92,174.65 L196.02,175.77 L196.11,176.99 L196.20,178.31 L196.28,179.72 L196.36,181.19 L196.44,182.71 L196.52,184.27 L196.59,185.85 L196.66,187.42 L196.73,188.98 L196.79,190.50 L196.84,191.97 L196.87,193.38 L196.88,194.70 L196.86,195.93 L196.82,197.04 L196.73,198.03 L196.62,198.89 L196.46,199.61 L196.26,200.17 L196.00,200.58 L195.67,200.83 L195.03,200.91 L195.03,200.91 L194.40,200.83 L194.07,200.58 L193.81,200.17 L193.61,199.61 L193.45,198.89 L193.34,198.03 L193.25,197.04 L193.21,195.93 L193.19,194.70 L193.20,193.38 L193.23,191.97 L193.28,190.50 L193.34,188.98 L193.41,187.42 L193.48,185.85 L193.55,184.27 L193.63,182.71 L193.71,181.19 L193.79,179.72 L193.87,178.31 L193.96,176.99 L194.05,175.77 L194.15,174.65 L194.24,173.66 L194.34,172.80 L194.44,172.09 L194.55,171.52 L194.66,171.11 L194.79,170.87 L195.03,170.78Z" fill="#000" fill-opacity="0.195" stroke="#222" stroke-width="0.3" stroke-opacity="0.0"/>
<path d="M194.91,172.75 L195.12,172.82 L195.23,173.03 L195.32,173.38 L195.41,173.86 L195.49,174.47 L195.58,175.20 L195.66,176.05 L195.73,176.99 L195.81,178.04 L195.89,179.16 L195.96,180.36 L196.02,181.61 L196.09,182.91 L196.15,184.23 L196.21,185.57 L196.27,186.91 L196.33,188.24 L196.38,189.53 L196.42,190.78 L196.45,191.98 L196.46,193.10 L196.44,194.15 L196.40,195.10 L196.33,195.94 L196.24,196.67 L196.10,197.28 L195.94,197.76 L195.72,198.11 L195.44,198.32 L194.91,198.39 L194.91,198.39 L194.38,198.32 L194.11,198.11 L193.89,197.76 L193.72,197.28 L193.59,196.67 L193.49,195.94 L193.43,195.10 L193.39,194.15 L193.37,193.10 L193.38,191.98 L193.40,190.78 L193.45,189.53 L193.50,188.24 L193.55,186.91 L193.62,185.57 L193.68,184.23 L193.74,182.91 L193.80,181.61 L193.87,180.36 L193.94,179.16 L194.02,178.04 L194.09,176.99 L194.17,176.05 L194.25,175.20 L194.33,174.47 L194.42,173.86 L194.50,173.38 L194.60,173.03 L194.71,172.82 L194.91,172.75Z" fill="#000" fill-opacity="0.238" stroke="#222" stroke-width="0.3" stroke-opacity="0.0"/>
<path d="M194.79,174.76 L194.96,174.82 L195.05,174.99 L195.12,175.28 L195.19,175.67 L195.26,176.18 L195.33,176.78 L195.39,177.47 L195.45,178.25 L195.51,179.10 L195.57,180.03 L195.63,181.01 L195.69,182.04 L195.74,183.10 L195.79,184.19 L195.84,185.29 L195.89,186.39 L195.93,187.48 L195.97,188.54 L196.01,189.57 L196.03,190.55 L196.03,191.48 L196.02,192.33 L195.99,193.11 L195.93,193.81 L195.86,194.41 L195.75,194.91 L195.61,195.30 L195.44,195.59 L195.22,195.76 L194.79,195.82 L194.79,195.82 L194.37,195.76 L194.14,195.59 L193.97,195.30 L193.84,194.91 L193.73,194.41 L193.65,193.81 L193.60,193.11 L193.57,192.33 L193.55,191.48 L193.56,190.55 L193.58,189.57 L193.61,188.54 L193.65,187.48 L193.70,186.39 L193.75,185.29 L193.80,184.19 L193.85,183.10 L193.90,182.04 L193.96,181.01 L194.01,180.03 L194.07,179.10 L194.13,178.25 L194.20,177.47 L194.26,176.78 L194.33,176.18 L194.39,175.67 L194.46,175.28 L194.54,174.99 L194.63,174.82 L194.79,174.76Z" fill="#000" fill-opacity="0.307" stroke="#222" stroke-width="0.3" stroke-opacity="0.0"/>
<path d="M194.67,176.83 L194.80,176.87 L194.86,177.00 L194.92,177.23 L194.97,177.53 L195.03,177.92 L195.07,178.39 L195.12,178.93 L195.17,179.53 L195.22,180.20 L195.26,180.91 L195.31,181.68 L195.35,182.48 L195.39,183.30 L195.42,184.15 L195.46,185.00 L195.50,185.86 L195.53,186.70 L195.56,187.53 L195.59,188.33 L195.60,189.09 L195.61,189.81 L195.60,190.47 L195.58,191.08 L195.53,191.62 L195.47,192.08 L195.40,192.47 L195.29,192.78 L195.16,193.00 L194.99,193.13 L194.67,193.18 L194.67,193.18 L194.35,193.13 L194.18,193.00 L194.05,192.78 L193.95,192.47 L193.87,192.08 L193.81,191.62 L193.77,191.08 L193.75,190.47 L193.74,189.81 L193.74,189.09 L193.76,188.33 L193.78,187.53 L193.81,186.70 L193.85,185.86 L193.88,185.00 L193.92,184.15 L193.96,183.30 L194.00,182.48 L194.04,181.68 L194.08,180.91 L194.13,180.20 L194.17,179.53 L194.22,178.93 L194.27,178.39 L194.32,177.92 L194.37,177.53 L194.42,177.23 L194.48,177.00 L194.55,176.87 L194.67,176.83Z" fill="#000" fill-opacity="0.436" stroke="#222" stroke-width="0.3" stroke-opacity="0.0"/>
<path d="M194.55,178.96 L194.65,178.99 L194.71,179.08 L194.75,179.24 L194.79,179.45 L194.84,179.73 L194.88,180.05 L194.91,180.43 L194.95,180.86 L194.99,181.33 L195.03,181.83 L195.06,182.37 L195.09,182.93 L195.13,183.51 L195.16,184.10 L195.19,184.70 L195.22,185.31 L195.24,185.90 L195.27,186.48 L195.29,187.04 L195.30,187.58 L195.31,188.08 L195.30,188.55 L195.28,188.98 L195.25,189.36 L195.20,189.68 L195.13,189.96 L195.05,190.17 L194.95,190.33 L194.81,190.42 L194.55,190.45 L194.55,190.45 L194.29,190.42 L194.16,190.33 L194.05,190.17 L193.97,189.96 L193.91,189.68 L193.86,189.36 L193.83,188.98 L193.81,188.55 L193.80,188.08 L193.80,187.58 L193.81,187.04 L193.83,186.48 L193.86,185.90 L193.89,185.31 L193.92,184.70 L193.95,184.10 L193.98,183.51 L194.01,182.93 L194.04,182.37 L194.08,181.83 L194.11,181.33 L194.15,180.86 L194.19,180.43 L194.23,180.05 L194.27,179.73 L194.31,179.45 L194.35,179.24 L194.40,179.08 L194.45,178.99 L194.55,178.96Z" fill="#000" fill-opacity="0.765" stroke="#222" stroke-width="0.3" stroke-opacity="0.0"/>
<path d="M215.80,200.20 L216.55,200.32 L217.32,200.69 L218.10,201.29 L218.88,202.13 L219.65,203.19 L220.39,204.46 L221.10,205.93 L221.77,207.58 L222.37,209.39 L222.89,211.35 L223.33,213.43 L223.67,215.61 L223.90,217.86 L224.01,220.17 L224.01,222.50 L223.88,224.83 L223.64,227.14 L223.30,229.39 L222.86,231.57 L222.34,233.65 L221.76,235.61 L221.13,237.42 L220.47,239.07 L219.79,240.54 L219.09,241.81 L218.40,242.87 L217.72,243.71 L217.06,244.31 L216.42,244.68 L215.80,244.80 L215.80,244.80 L215.20,244.68 L214.60,244.31 L214.02,243.71 L213.44,242.87 L212.89,241.81 L212.35,240.54 L211.85,239.07 L211.38,237.42 L210.94,235.61 L210.55,233.65 L210.21,231.57 L209.92,229.39 L209.69,227.14 L209.52,224.83 L209.42,222.50 L209.39,220.17 L209.43,217.86 L209.55,215.61 L209.74,213.43 L210.00,211.35 L210.34,209.39 L210.74,207.58 L211.22,205.93 L211.75,204.46 L212.34,203.19 L212.97,202.13 L213.64,201.29 L214.34,200.69 L215.07,200.32 L215.80,200.20Z" fill="none" stroke="#555" stroke-width="0.42" stroke-opacity="0.75"/>
<path d="M215.41,201.49 L216.06,201.61 L216.73,201.96 L217.41,202.54 L218.09,203.33 L218.76,204.35 L219.41,205.56 L220.02,206.96 L220.60,208.54 L221.12,210.27 L221.58,212.14 L221.96,214.13 L222.26,216.21 L222.46,218.36 L222.56,220.57 L222.55,222.79 L222.44,225.02 L222.23,227.22 L221.93,229.37 L221.55,231.45 L221.10,233.44 L220.60,235.31 L220.05,237.04 L219.47,238.62 L218.88,240.02 L218.28,241.24 L217.68,242.25 L217.08,243.05 L216.51,243.62 L215.95,243.97 L215.41,244.09 L215.41,244.09 L214.89,243.97 L214.37,243.62 L213.86,243.05 L213.36,242.25 L212.88,241.24 L212.41,240.02 L211.97,238.62 L211.56,237.04 L211.19,235.31 L210.85,233.44 L210.55,231.45 L210.30,229.37 L210.10,227.22 L209.95,225.02 L209.86,222.79 L209.83,220.57 L209.87,218.36 L209.97,216.21 L210.14,214.13 L210.36,212.14 L210.66,210.27 L211.01,208.54 L211.42,206.96 L211.88,205.56 L212.40,204.35 L212.95,203.33 L213.53,202.54 L214.14,201.96 L214.77,201.61 L215.41,201.49Z" fill="none" stroke="#555" stroke-width="0.42" stroke-opacity="0.75"/>
<path d="M215.02,202.92 L215.57,203.03 L216.14,203.37 L216.72,203.91 L217.30,204.67 L217.87,205.63 L218.42,206.78 L218.94,208.11 L219.43,209.60 L219.88,211.25 L220.27,213.02 L220.59,214.90 L220.84,216.88 L221.01,218.92 L221.10,221.00 L221.09,223.11 L221.00,225.23 L220.82,227.31 L220.57,229.35 L220.24,231.33 L219.86,233.21 L219.43,234.98 L218.96,236.63 L218.47,238.12 L217.97,239.45 L217.46,240.60 L216.95,241.56 L216.44,242.32 L215.95,242.86 L215.48,243.19 L215.02,243.31 L215.02,243.31 L214.58,243.19 L214.13,242.86 L213.70,242.32 L213.28,241.56 L212.86,240.60 L212.47,239.45 L212.10,238.12 L211.75,236.63 L211.43,234.98 L211.14,233.21 L210.88,231.33 L210.67,229.35 L210.50,227.31 L210.38,225.23 L210.30,223.11 L210.28,221.00 L210.31,218.92 L210.39,216.88 L210.53,214.90 L210.73,213.02 L210.98,211.25 L211.28,209.60 L211.63,208.11 L212.02,206.78 L212.46,205.63 L212.93,204.67 L213.42,203.91 L213.94,203.37 L214.48,203.03 L215.02,202.92Z" fill="none" stroke="#555" stroke-width="0.42" stroke-opacity="0.75"/>
<path d="M214.63,204.53 L215.09,204.64 L215.56,204.95 L216.03,205.46 L216.51,206.17 L216.98,207.07 L217.43,208.15 L217.86,209.40 L218.27,210.80 L218.64,212.34 L218.96,214.01 L219.22,215.77 L219.43,217.62 L219.57,219.54 L219.64,221.50 L219.64,223.48 L219.56,225.46 L219.41,227.42 L219.20,229.33 L218.94,231.18 L218.62,232.95 L218.27,234.61 L217.88,236.15 L217.48,237.56 L217.06,238.80 L216.64,239.88 L216.22,240.78 L215.80,241.49 L215.40,242.01 L215.01,242.32 L214.63,242.42 L214.63,242.42 L214.26,242.32 L213.90,242.01 L213.54,241.49 L213.19,240.78 L212.85,239.88 L212.53,238.80 L212.22,237.56 L211.93,236.15 L211.67,234.61 L211.43,232.95 L211.22,231.18 L211.04,229.33 L210.90,227.42 L210.80,225.46 L210.74,223.48 L210.72,221.50 L210.75,219.54 L210.82,217.62 L210.93,215.77 L211.09,214.01 L211.30,212.34 L211.55,210.80 L211.83,209.40 L212.16,208.15 L212.52,207.07 L212.90,206.17 L213.31,205.46 L213.74,204.95 L214.18,204.64 L214.63,204.53Z" fill="none" stroke="#555" stroke-width="0.42" stroke-opacity="0.75"/>
<path d="M214.24,206.40 L214.60,206.49 L214.97,206.78 L215.34,207.25 L215.72,207.91 L216.09,208.74 L216.44,209.74 L216.79,210.89 L217.10,212.19 L217.39,213.61 L217.64,215.15 L217.86,216.78 L218.02,218.49 L218.13,220.26 L218.18,222.07 L218.18,223.90 L218.12,225.73 L218.00,227.54 L217.84,229.31 L217.63,231.02 L217.38,232.65 L217.10,234.19 L216.80,235.61 L216.48,236.91 L216.15,238.06 L215.82,239.06 L215.49,239.89 L215.16,240.54 L214.84,241.02 L214.54,241.31 L214.24,241.40 L214.24,241.40 L213.95,241.31 L213.67,241.02 L213.38,240.54 L213.11,239.89 L212.84,239.06 L212.59,238.06 L212.34,236.91 L212.12,235.61 L211.91,234.19 L211.72,232.65 L211.56,231.02 L211.42,229.31 L211.31,227.54 L211.23,225.73 L211.18,223.90 L211.16,222.07 L211.18,220.26 L211.24,218.49 L211.33,216.78 L211.46,215.15 L211.62,213.61 L211.81,212.19 L212.04,210.89 L212.30,209.74 L212.58,208.74 L212.88,207.91 L213.20,207.25 L213.54,206.78 L213.89,206.49 L214.24,206.40Z" fill="#000" fill-opacity="0.106" stroke="#222" stroke-width="0.3" stroke-opacity="0.0"/>
<path d="M214.08,207.26 L214.40,207.36 L214.73,207.63 L215.06,208.09 L215.39,208.72 L215.72,209.52 L216.04,210.48 L216.34,211.59 L216.62,212.83 L216.88,214.20 L217.10,215.68 L217.29,217.25 L217.43,218.89 L217.53,220.60 L217.58,222.34 L217.58,224.09 L217.52,225.85 L217.42,227.59 L217.27,229.30 L217.09,230.94 L216.87,232.51 L216.62,233.99 L216.35,235.36 L216.07,236.60 L215.78,237.71 L215.48,238.67 L215.19,239.47 L214.90,240.10 L214.62,240.56 L214.34,240.83 L214.08,240.92 L214.08,240.92 L213.82,240.83 L213.57,240.56 L213.32,240.10 L213.07,239.47 L212.84,238.67 L212.61,237.71 L212.40,236.60 L212.19,235.36 L212.01,233.99 L211.84,232.51 L211.70,230.94 L211.57,229.30 L211.48,227.59 L211.40,225.85 L211.36,224.09 L211.35,222.34 L211.36,220.60 L211.41,218.89 L211.49,217.25 L211.61,215.68 L211.75,214.20 L211.92,212.83 L212.12,211.59 L212.35,210.48 L212.60,209.52 L212.87,208.72 L213.16,208.09 L213.46,207.63 L213.77,207.36 L214.08,207.26Z" fill="#000" fill-opacity="0.118" stroke="#222" stroke-width="0.3" stroke-opacity="0.0"/>
<path d="M213.92,208.21 L214.20,208.30 L214.48,208.56 L214.77,209.00 L215.06,209.60 L215.35,210.37 L215.63,211.28 L215.89,212.34 L216.14,213.54 L216.36,214.85 L216.56,216.26 L216.72,217.76 L216.85,219.33 L216.94,220.96 L216.98,222.62 L216.97,224.31 L216.93,225.99 L216.84,227.65 L216.71,229.28 L216.55,230.86 L216.35,232.36 L216.14,233.77 L215.90,235.08 L215.66,236.27 L215.40,237.33 L215.14,238.25 L214.89,239.01 L214.63,239.62 L214.39,240.05 L214.15,240.32 L213.92,240.41 L213.92,240.41 L213.69,240.32 L213.47,240.05 L213.25,239.62 L213.04,239.01 L212.83,238.25 L212.63,237.33 L212.45,236.27 L212.27,235.08 L212.11,233.77 L211.96,232.36 L211.84,230.86 L211.73,229.28 L211.64,227.65 L211.58,225.99 L211.54,224.31 L211.53,222.62 L211.55,220.96 L211.59,219.33 L211.66,217.76 L211.76,216.26 L211.88,214.85 L212.03,213.54 L212.21,212.34 L212.41,211.28 L212.63,210.37 L212.86,209.60 L213.11,209.00 L213.38,208.56 L213.64,208.30 L213.92,208.21Z" fill="#000" fill-opacity="0.134" stroke="#222" stroke-width="0.3" stroke-opacity="0.0"/>
<path d="M213.76,209.25 L213.99,209.34 L214.24,209.59 L214.49,210.00 L214.74,210.57 L214.98,211.30 L215.22,212.17 L215.45,213.18 L215.66,214.31 L215.85,215.55 L216.02,216.90 L216.16,218.32 L216.27,219.82 L216.34,221.36 L216.37,222.94 L216.37,224.54 L216.33,226.14 L216.26,227.72 L216.15,229.27 L216.01,230.76 L215.84,232.19 L215.66,233.53 L215.46,234.77 L215.24,235.91 L215.03,236.91 L214.81,237.79 L214.59,238.51 L214.37,239.09 L214.16,239.50 L213.95,239.75 L213.76,239.83 L213.76,239.83 L213.56,239.75 L213.37,239.50 L213.19,239.09 L213.00,238.51 L212.83,237.79 L212.66,236.91 L212.50,235.91 L212.35,234.77 L212.21,233.53 L212.08,232.19 L211.97,230.76 L211.88,229.27 L211.81,227.72 L211.76,226.14 L211.72,224.54 L211.71,222.94 L211.73,221.36 L211.76,219.82 L211.82,218.32 L211.91,216.90 L212.02,215.55 L212.14,214.31 L212.29,213.18 L212.46,212.17 L212.65,211.30 L212.85,210.57 L213.07,210.00 L213.29,209.59 L213.52,209.34 L213.76,209.25Z" fill="#000" fill-opacity="0.154" stroke="#222" stroke-width="0.3" stroke-opacity="0.0"/>
<path d="M213.59,210.42 L213.79,210.50 L214.00,210.73 L214.20,211.12 L214.41,211.66 L214.61,212.35 L214.81,213.17 L215.00,214.11 L215.18,215.18 L215.34,216.35 L215.47,217.61 L215.59,218.95 L215.68,220.36 L215.74,221.82 L215.77,223.30 L215.77,224.81 L215.74,226.31 L215.67,227.80 L215.58,229.25 L215.47,230.66 L215.33,232.00 L215.17,233.26 L215.01,234.43 L214.83,235.50 L214.65,236.45 L214.47,237.27 L214.29,237.95 L214.10,238.49 L213.93,238.88 L213.76,239.11 L213.59,239.19 L213.59,239.19 L213.44,239.11 L213.28,238.88 L213.12,238.49 L212.97,237.95 L212.82,237.27 L212.68,236.45 L212.55,235.50 L212.42,234.43 L212.31,233.26 L212.20,232.00 L212.11,230.66 L212.04,229.25 L211.98,227.80 L211.93,226.31 L211.91,224.81 L211.90,223.30 L211.91,221.82 L211.94,220.36 L211.99,218.95 L212.06,217.61 L212.15,216.35 L212.26,215.18 L212.38,214.11 L212.52,213.17 L212.68,212.35 L212.84,211.66 L213.02,211.12 L213.21,210.73 L213.40,210.50 L213.59,210.42Z" fill="#000" fill-opacity="0.183" stroke="#222" stroke-width="0.3" stroke-opacity="0.0"/>
<path d="M213.43,211.76 L213.59,211.83 L213.75,212.05 L213.92,212.41 L214.08,212.91 L214.25,213.55 L214.40,214.31 L214.55,215.19 L214.69,216.18 L214.82,217.26 L214.93,218.43 L215.02,219.68 L215.10,220.98 L215.15,222.33 L215.17,223.71 L215.17,225.11 L215.14,226.50 L215.09,227.88 L215.02,229.23 L214.92,230.54 L214.82,231.78 L214.69,232.96 L214.56,234.04 L214.42,235.03 L214.28,235.91 L214.13,236.67 L213.98,237.30 L213.84,237.81 L213.70,238.17 L213.56,238.39 L213.43,238.46 L213.43,238.46 L213.31,238.39 L213.18,238.17 L213.06,237.81 L212.94,237.30 L212.82,236.67 L212.71,235.91 L212.60,235.03 L212.50,234.04 L212.41,232.96 L212.33,231.78 L212.25,230.54 L212.19,229.23 L212.14,227.88 L212.11,226.50 L212.09,225.11 L212.08,223.71 L212.09,222.33 L212.11,220.98 L212.15,219.68 L212.21,218.43 L212.28,217.26 L212.37,216.18 L212.47,215.19 L212.58,214.31 L212.70,213.55 L212.84,212.91 L212.98,212.41 L213.13,212.05 L213.28,211.83 L213.43,211.76Z" fill="#000" fill-opacity="0.224" stroke="#222" stroke-width="0.3" stroke-opacity="0.0"/>
<path d="M213.27,213.35 L213.39,213.42 L213.51,213.62 L213.63,213.94 L213.76,214.40 L213.88,214.97 L214.00,215.66 L214.11,216.46 L214.21,217.36 L214.31,218.35 L214.39,219.41 L214.46,220.54 L214.51,221.72 L214.55,222.95 L214.57,224.20 L214.57,225.47 L214.55,226.73 L214.51,227.99 L214.45,229.21 L214.38,230.40 L214.30,231.53 L214.21,232.59 L214.11,233.58 L214.01,234.47 L213.90,235.27 L213.79,235.96 L213.68,236.54 L213.58,236.99 L213.47,237.32 L213.37,237.52 L213.27,237.59 L213.27,237.59 L213.18,237.52 L213.08,237.32 L212.99,236.99 L212.90,236.54 L212.81,235.96 L212.73,235.27 L212.65,234.47 L212.58,233.58 L212.51,232.59 L212.45,231.53 L212.39,230.40 L212.35,229.21 L212.31,227.99 L212.28,226.73 L212.27,225.47 L212.26,224.20 L212.27,222.95 L212.29,221.72 L212.32,220.54 L212.36,219.41 L212.41,218.35 L212.48,217.36 L212.55,216.46 L212.63,215.66 L212.73,214.97 L212.83,214.40 L212.93,213.94 L213.04,213.62 L213.16,213.42 L213.27,213.35Z" fill="#000" fill-opacity="0.288" stroke="#222" stroke-width="0.3" stroke-opacity="0.0"/>
<path d="M213.11,215.36 L213.21,215.42 L213.31,215.60 L213.41,215.88 L213.51,216.28 L213.62,216.78 L213.71,217.38 L213.81,218.08 L213.89,218.86 L213.97,219.72 L214.04,220.64 L214.10,221.63 L214.14,222.66 L214.17,223.73 L214.19,224.82 L214.19,225.92 L214.17,227.03 L214.14,228.12 L214.09,229.19 L214.04,230.22 L213.97,231.20 L213.89,232.13 L213.81,232.99 L213.72,233.77 L213.63,234.46 L213.54,235.07 L213.45,235.57 L213.36,235.96 L213.28,236.25 L213.19,236.42 L213.11,236.48 L213.11,236.48 L213.03,236.42 L212.95,236.25 L212.88,235.96 L212.80,235.57 L212.73,235.07 L212.66,234.46 L212.59,233.77 L212.53,232.99 L212.47,232.13 L212.42,231.20 L212.38,230.22 L212.34,229.19 L212.31,228.12 L212.29,227.03 L212.27,225.92 L212.27,224.82 L212.28,223.73 L212.29,222.66 L212.32,221.63 L212.35,220.64 L212.39,219.72 L212.45,218.86 L212.51,218.08 L212.58,217.38 L212.66,216.78 L212.74,216.28 L212.83,215.88 L212.92,215.60 L213.02,215.42 L213.11,215.36Z" fill="#000" fill-opacity="0.404" stroke="#222" stroke-width="0.3" stroke-opacity="0.0"/>
<path d="M212.95,218.28 L213.05,218.33 L213.15,218.46 L213.25,218.69 L213.35,219.00 L213.45,219.40 L213.55,219.87 L213.65,220.41 L213.73,221.03 L213.81,221.70 L213.88,222.43 L213.94,223.21 L213.98,224.02 L214.01,224.86 L214.03,225.71 L214.03,226.58 L214.01,227.45 L213.98,228.31 L213.93,229.15 L213.88,229.96 L213.81,230.73 L213.73,231.46 L213.65,232.13 L213.56,232.75 L213.47,233.29 L213.38,233.77 L213.29,234.16 L213.20,234.47 L213.12,234.70 L213.03,234.83 L212.95,234.88 L212.95,234.88 L212.87,234.83 L212.79,234.70 L212.72,234.47 L212.64,234.16 L212.57,233.77 L212.50,233.29 L212.43,232.75 L212.37,232.13 L212.31,231.46 L212.26,230.73 L212.22,229.96 L212.18,229.15 L212.15,228.31 L212.13,227.45 L212.11,226.58 L212.11,225.71 L212.11,224.86 L212.13,224.02 L212.15,223.21 L212.19,222.43 L212.23,221.70 L212.29,221.03 L212.35,220.41 L212.42,219.87 L212.50,219.40 L212.58,219.00 L212.67,218.69 L212.76,218.46 L212.85,218.33 L212.95,218.28Z" fill="#000" fill-opacity="0.679" stroke="#222" stroke-width="0.3" stroke-opacity="0.0"/>
<path d="M238.60,208.60 L239.14,208.75 L239.64,209.18 L240.18,209.90 L240.78,210.89 L241.45,212.15 L242.19,213.66 L242.97,215.41 L243.78,217.37 L244.60,219.52 L245.41,221.85 L246.16,224.32 L246.84,226.91 L247.41,229.59 L247.85,232.33 L248.16,235.10 L248.33,237.87 L248.35,240.61 L248.22,243.29 L247.94,245.88 L247.52,248.35 L246.98,250.68 L246.33,252.83 L245.59,254.79 L244.78,256.54 L243.91,258.05 L242.99,259.31 L242.03,260.30 L241.02,261.02 L239.96,261.45 L238.60,261.60 L238.60,261.60 L237.28,261.45 L236.33,261.02 L235.52,260.30 L234.82,259.31 L234.23,258.05 L233.75,256.54 L233.37,254.79 L233.10,252.83 L232.92,250.68 L232.85,248.35 L232.86,245.88 L232.94,243.29 L233.09,240.61 L233.29,237.87 L233.52,235.10 L233.77,232.33 L234.04,229.59 L234.32,226.91 L234.63,224.32 L234.96,221.85 L235.30,219.52 L235.64,217.37 L235.99,215.41 L236.34,213.66 L236.68,212.15 L237.02,210.89 L237.37,209.90 L237.72,209.18 L238.10,208.75 L238.60,208.60Z" fill="none" stroke="#555" stroke-width="0.42" stroke-opacity="0.75"/>
<path d="M238.31,210.06 L238.80,210.20 L239.24,210.62 L239.72,211.31 L240.26,212.27 L240.85,213.49 L241.51,214.94 L242.20,216.63 L242.92,218.52 L243.66,220.61 L244.37,222.85 L245.04,225.24 L245.65,227.74 L246.15,230.33 L246.55,232.97 L246.82,235.65 L246.97,238.32 L246.99,240.97 L246.88,243.55 L246.63,246.05 L246.25,248.44 L245.77,250.69 L245.19,252.77 L244.53,254.66 L243.81,256.35 L243.04,257.81 L242.22,259.02 L241.36,259.98 L240.47,260.68 L239.52,261.10 L238.31,261.24 L238.31,261.24 L237.14,261.10 L236.29,260.68 L235.57,259.98 L234.95,259.02 L234.42,257.81 L233.99,256.35 L233.66,254.66 L233.42,252.77 L233.26,250.69 L233.19,248.44 L233.20,246.05 L233.28,243.55 L233.41,240.97 L233.59,238.32 L233.80,235.65 L234.02,232.97 L234.25,230.33 L234.51,227.74 L234.78,225.24 L235.08,222.85 L235.38,220.61 L235.68,218.52 L235.99,216.63 L236.30,214.94 L236.61,213.49 L236.91,212.27 L237.22,211.31 L237.53,210.62 L237.87,210.20 L238.31,210.06Z" fill="none" stroke="#555" stroke-width="0.42" stroke-opacity="0.75"/>
<path d="M238.03,211.65 L238.45,211.78 L238.84,212.18 L239.26,212.85 L239.73,213.77 L240.25,214.94 L240.83,216.34 L241.43,217.96 L242.07,219.78 L242.71,221.78 L243.34,223.94 L243.93,226.24 L244.45,228.64 L244.90,231.13 L245.24,233.67 L245.48,236.24 L245.61,238.81 L245.63,241.36 L245.53,243.84 L245.31,246.25 L244.99,248.54 L244.56,250.70 L244.06,252.70 L243.48,254.52 L242.85,256.14 L242.17,257.54 L241.45,258.71 L240.70,259.63 L239.92,260.30 L239.09,260.70 L238.03,260.84 L238.03,260.84 L237.00,260.70 L236.26,260.30 L235.62,259.63 L235.08,258.71 L234.62,257.54 L234.24,256.14 L233.95,254.52 L233.74,252.70 L233.60,250.70 L233.54,248.54 L233.55,246.25 L233.62,243.84 L233.73,241.36 L233.89,238.81 L234.07,236.24 L234.26,233.67 L234.47,231.13 L234.69,228.64 L234.93,226.24 L235.19,223.94 L235.45,221.78 L235.72,219.78 L235.99,217.96 L236.26,216.34 L236.53,214.94 L236.80,213.77 L237.06,212.85 L237.34,212.18 L237.64,211.78 L238.03,211.65Z" fill="none" stroke="#555" stroke-width="0.42" stroke-opacity="0.75"/>
<path d="M237.74,213.40 L238.10,213.53 L238.44,213.91 L238.80,214.55 L239.21,215.43 L239.65,216.55 L240.14,217.89 L240.67,219.44 L241.21,221.18 L241.76,223.09 L242.30,225.15 L242.81,227.34 L243.26,229.64 L243.64,232.01 L243.94,234.44 L244.14,236.90 L244.26,239.36 L244.27,241.79 L244.19,244.16 L244.00,246.46 L243.72,248.65 L243.35,250.71 L242.92,252.62 L242.42,254.36 L241.88,255.91 L241.30,257.25 L240.68,258.37 L240.04,259.25 L239.37,259.89 L238.65,260.27 L237.74,260.40 L237.74,260.40 L236.86,260.27 L236.22,259.89 L235.68,259.25 L235.21,258.37 L234.81,257.25 L234.49,255.91 L234.24,254.36 L234.06,252.62 L233.94,250.71 L233.89,248.65 L233.89,246.46 L233.95,244.16 L234.05,241.79 L234.19,239.36 L234.34,236.90 L234.51,234.44 L234.68,232.01 L234.88,229.64 L235.08,227.34 L235.30,225.15 L235.53,223.09 L235.76,221.18 L235.99,219.44 L236.23,217.89 L236.46,216.55 L236.69,215.43 L236.91,214.55 L237.15,213.91 L237.40,213.53 L237.74,213.40Z" fill="none" stroke="#555" stroke-width="0.42" stroke-opacity="0.75"/>
<path d="M237.46,215.37 L237.76,215.49 L238.04,215.86 L238.34,216.46 L238.68,217.29 L239.05,218.35 L239.46,219.62 L239.90,221.09 L240.36,222.74 L240.82,224.55 L241.27,226.50 L241.69,228.58 L242.07,230.76 L242.39,233.01 L242.64,235.31 L242.81,237.64 L242.90,239.97 L242.92,242.27 L242.84,244.52 L242.69,246.70 L242.45,248.77 L242.15,250.73 L241.78,252.54 L241.37,254.19 L240.92,255.65 L240.43,256.92 L239.91,257.98 L239.37,258.82 L238.81,259.42 L238.22,259.79 L237.46,259.91 L237.46,259.91 L236.72,259.79 L236.18,259.42 L235.73,258.82 L235.34,257.98 L235.01,256.92 L234.74,255.65 L234.53,254.19 L234.37,252.54 L234.28,250.73 L234.23,248.77 L234.24,246.70 L234.29,244.52 L234.37,242.27 L234.48,239.97 L234.61,237.64 L234.75,235.31 L234.90,233.01 L235.06,230.76 L235.24,228.58 L235.42,226.50 L235.61,224.55 L235.80,222.74 L236.00,221.09 L236.19,219.62 L236.38,218.35 L236.57,217.29 L236.76,216.46 L236.96,215.86 L237.17,215.49 L237.46,215.37Z" fill="none" stroke="#555" stroke-width="0.42" stroke-opacity="0.75"/>
<path d="M237.17,217.63 L237.41,217.75 L237.64,218.09 L237.88,218.65 L238.15,219.44 L238.45,220.43 L238.78,221.61 L239.14,222.99 L239.50,224.53 L239.87,226.23 L240.23,228.06 L240.57,230.00 L240.88,232.04 L241.13,234.15 L241.33,236.31 L241.47,238.49 L241.55,240.67 L241.56,242.82 L241.50,244.93 L241.37,246.97 L241.18,248.91 L240.94,250.75 L240.65,252.44 L240.32,253.99 L239.95,255.36 L239.56,256.55 L239.14,257.54 L238.71,258.32 L238.26,258.89 L237.78,259.23 L237.17,259.34 L237.17,259.34 L236.58,259.23 L236.15,258.89 L235.78,258.32 L235.47,257.54 L235.20,256.55 L234.99,255.36 L234.82,253.99 L234.69,252.44 L234.62,250.75 L234.58,248.91 L234.59,246.97 L234.62,244.93 L234.69,242.82 L234.78,240.67 L234.89,238.49 L235.00,236.31 L235.12,234.15 L235.25,232.04 L235.39,230.00 L235.53,228.06 L235.68,226.23 L235.84,224.53 L236.00,222.99 L236.15,221.61 L236.31,220.43 L236.46,219.44 L236.61,218.65 L236.77,218.09 L236.94,217.75 L237.17,217.63Z" fill="#000" fill-opacity="0.096" stroke="#222" stroke-width="0.3" stroke-opacity="0.0"/>
<path d="M237.06,218.63 L237.28,218.74 L237.48,219.07 L237.70,219.62 L237.95,220.38 L238.22,221.34 L238.52,222.49 L238.83,223.83 L239.16,225.32 L239.50,226.97 L239.83,228.75 L240.13,230.63 L240.41,232.61 L240.64,234.66 L240.82,236.75 L240.94,238.86 L241.01,240.98 L241.02,243.07 L240.97,245.11 L240.86,247.09 L240.68,248.98 L240.46,250.75 L240.20,252.40 L239.90,253.90 L239.57,255.23 L239.21,256.38 L238.84,257.34 L238.45,258.10 L238.04,258.65 L237.61,258.98 L237.06,259.09 L237.06,259.09 L236.52,258.98 L236.13,258.65 L235.80,258.10 L235.52,257.34 L235.28,256.38 L235.08,255.23 L234.93,253.90 L234.82,252.40 L234.75,250.75 L234.72,248.98 L234.72,247.09 L234.76,245.11 L234.82,243.07 L234.90,240.98 L234.99,238.86 L235.09,236.75 L235.20,234.66 L235.32,232.61 L235.44,230.63 L235.58,228.75 L235.71,226.97 L235.86,225.32 L236.00,223.83 L236.14,222.49 L236.28,221.34 L236.42,220.38 L236.56,219.62 L236.70,219.07 L236.85,218.74 L237.06,218.63Z" fill="#000" fill-opacity="0.106" stroke="#222" stroke-width="0.3" stroke-opacity="0.0"/>
<path d="M236.94,219.71 L237.14,219.81 L237.32,220.13 L237.52,220.66 L237.74,221.40 L237.98,222.33 L238.25,223.44 L238.53,224.73 L238.83,226.18 L239.13,227.77 L239.42,229.49 L239.69,231.31 L239.94,233.22 L240.14,235.20 L240.31,237.22 L240.42,239.26 L240.48,241.31 L240.49,243.33 L240.44,245.31 L240.34,247.22 L240.19,249.04 L239.99,250.76 L239.75,252.35 L239.48,253.80 L239.19,255.09 L238.87,256.20 L238.54,257.13 L238.19,257.87 L237.83,258.40 L237.44,258.72 L236.94,258.82 L236.94,258.82 L236.47,258.72 L236.12,258.40 L235.82,257.87 L235.57,257.13 L235.36,256.20 L235.18,255.09 L235.04,253.80 L234.95,252.35 L234.88,250.76 L234.85,249.04 L234.86,247.22 L234.89,245.31 L234.94,243.33 L235.02,241.31 L235.10,239.26 L235.19,237.22 L235.29,235.20 L235.39,233.22 L235.50,231.31 L235.62,229.49 L235.75,227.77 L235.87,226.18 L236.00,224.73 L236.12,223.44 L236.25,222.33 L236.37,221.40 L236.50,220.66 L236.62,220.13 L236.76,219.81 L236.94,219.71Z" fill="#000" fill-opacity="0.119" stroke="#222" stroke-width="0.3" stroke-opacity="0.0"/>
<path d="M236.83,220.88 L237.01,220.98 L237.16,221.29 L237.34,221.80 L237.53,222.50 L237.75,223.40 L237.98,224.47 L238.23,225.71 L238.49,227.11 L238.75,228.64 L239.01,230.29 L239.25,232.05 L239.47,233.89 L239.65,235.79 L239.79,237.74 L239.89,239.70 L239.94,241.67 L239.95,243.62 L239.91,245.52 L239.82,247.36 L239.69,249.12 L239.51,250.77 L239.30,252.30 L239.07,253.70 L238.81,254.94 L238.53,256.01 L238.24,256.90 L237.93,257.61 L237.61,258.12 L237.27,258.43 L236.83,258.53 L236.83,258.53 L236.41,258.43 L236.11,258.12 L235.85,257.61 L235.62,256.90 L235.43,256.01 L235.28,254.94 L235.16,253.70 L235.07,252.30 L235.02,250.77 L234.99,249.12 L234.99,247.36 L235.02,245.52 L235.07,243.62 L235.13,241.67 L235.21,239.70 L235.29,237.74 L235.37,235.79 L235.46,233.89 L235.56,232.05 L235.67,230.29 L235.78,228.64 L235.89,227.11 L236.00,225.71 L236.11,224.47 L236.22,223.40 L236.33,222.50 L236.44,221.80 L236.55,221.29 L236.67,220.98 L236.83,220.88Z" fill="#000" fill-opacity="0.135" stroke="#222" stroke-width="0.3" stroke-opacity="0.0"/>
<path d="M236.72,222.16 L236.87,222.26 L237.01,222.56 L237.16,223.04 L237.32,223.72 L237.51,224.58 L237.71,225.60 L237.93,226.79 L238.15,228.13 L238.38,229.59 L238.60,231.17 L238.81,232.86 L239.00,234.62 L239.16,236.44 L239.28,238.30 L239.36,240.19 L239.41,242.07 L239.42,243.93 L239.38,245.76 L239.30,247.52 L239.19,249.20 L239.04,250.78 L238.86,252.25 L238.65,253.58 L238.43,254.77 L238.19,255.79 L237.93,256.65 L237.67,257.33 L237.39,257.82 L237.09,258.11 L236.72,258.21 L236.72,258.21 L236.35,258.11 L236.09,257.82 L235.87,257.33 L235.67,256.65 L235.51,255.79 L235.38,254.77 L235.27,253.58 L235.20,252.25 L235.15,250.78 L235.13,249.20 L235.13,247.52 L235.15,245.76 L235.20,243.93 L235.25,242.07 L235.32,240.19 L235.38,238.30 L235.46,236.44 L235.54,234.62 L235.62,232.86 L235.71,231.17 L235.81,229.59 L235.90,228.13 L236.00,226.79 L236.09,225.60 L236.19,224.58 L236.28,223.72 L236.38,223.04 L236.48,222.56 L236.58,222.26 L236.72,222.16Z" fill="#000" fill-opacity="0.156" stroke="#222" stroke-width="0.3" stroke-opacity="0.0"/>
<path d="M236.61,223.60 L236.73,223.69 L236.85,223.97 L236.98,224.44 L237.12,225.08 L237.27,225.89 L237.44,226.87 L237.63,228.00 L237.82,229.27 L238.01,230.66 L238.20,232.16 L238.37,233.76 L238.53,235.43 L238.66,237.16 L238.77,238.93 L238.84,240.72 L238.88,242.51 L238.88,244.29 L238.85,246.02 L238.79,247.69 L238.69,249.29 L238.56,250.79 L238.41,252.18 L238.24,253.45 L238.05,254.58 L237.84,255.56 L237.63,256.37 L237.41,257.01 L237.17,257.48 L236.92,257.76 L236.61,257.85 L236.61,257.85 L236.30,257.76 L236.08,257.48 L235.89,257.01 L235.72,256.37 L235.59,255.56 L235.47,254.58 L235.39,253.45 L235.32,252.18 L235.28,250.79 L235.26,249.29 L235.27,247.69 L235.29,246.02 L235.32,244.29 L235.37,242.51 L235.42,240.72 L235.48,238.93 L235.54,237.16 L235.61,235.43 L235.68,233.76 L235.76,232.16 L235.84,230.66 L235.92,229.27 L236.00,228.00 L236.08,226.87 L236.16,225.89 L236.24,225.08 L236.32,224.44 L236.40,223.97 L236.49,223.69 L236.61,223.60Z" fill="#000" fill-opacity="0.185" stroke="#222" stroke-width="0.3" stroke-opacity="0.0"/>
<path d="M236.49,225.24 L236.60,225.33 L236.69,225.59 L236.79,226.03 L236.91,226.63 L237.04,227.39 L237.18,228.31 L237.32,229.37 L237.48,230.56 L237.63,231.87 L237.79,233.29 L237.93,234.79 L238.06,236.36 L238.17,237.99 L238.25,239.66 L238.31,241.34 L238.34,243.02 L238.35,244.69 L238.32,246.31 L238.27,247.89 L238.19,249.39 L238.09,250.80 L237.96,252.11 L237.82,253.30 L237.67,254.37 L237.50,255.28 L237.33,256.05 L237.14,256.65 L236.95,257.09 L236.75,257.35 L236.49,257.44 L236.49,257.44 L236.24,257.35 L236.06,257.09 L235.91,256.65 L235.78,256.05 L235.66,255.28 L235.57,254.37 L235.50,253.30 L235.45,252.11 L235.42,250.80 L235.40,249.39 L235.40,247.89 L235.42,246.31 L235.45,244.69 L235.49,243.02 L235.53,241.34 L235.58,239.66 L235.63,237.99 L235.68,236.36 L235.74,234.79 L235.80,233.29 L235.87,231.87 L235.93,230.56 L236.00,229.37 L236.06,228.31 L236.13,227.39 L236.19,226.63 L236.26,226.03 L236.33,225.59 L236.40,225.33 L236.49,225.24Z" fill="#000" fill-opacity="0.226" stroke="#222" stroke-width="0.3" stroke-opacity="0.0"/>
<path d="M236.38,227.16 L236.46,227.24 L236.53,227.49 L236.61,227.89 L236.70,228.45 L236.80,229.16 L236.91,230.01 L237.02,230.99 L237.14,232.09 L237.26,233.30 L237.38,234.61 L237.49,236.00 L237.59,237.46 L237.67,238.96 L237.74,240.50 L237.78,242.06 L237.81,243.62 L237.81,245.16 L237.79,246.66 L237.75,248.12 L237.69,249.51 L237.61,250.82 L237.51,252.03 L237.41,253.13 L237.29,254.11 L237.16,254.96 L237.02,255.67 L236.88,256.23 L236.74,256.63 L236.58,256.88 L236.38,256.96 L236.38,256.96 L236.19,256.88 L236.05,256.63 L235.93,256.23 L235.83,255.67 L235.74,254.96 L235.67,254.11 L235.61,253.13 L235.57,252.03 L235.55,250.82 L235.54,249.51 L235.54,248.12 L235.55,246.66 L235.57,245.16 L235.60,243.62 L235.64,242.06 L235.67,240.50 L235.71,238.96 L235.75,237.46 L235.80,236.00 L235.85,234.61 L235.90,233.30 L235.95,232.09 L236.00,230.99 L236.05,230.01 L236.10,229.16 L236.15,228.45 L236.20,227.89 L236.25,227.49 L236.31,227.24 L236.38,227.16Z" fill="#000" fill-opacity="0.293" stroke="#222" stroke-width="0.3" stroke-opacity="0.0"/>
<path d="M236.27,229.54 L236.34,229.61 L236.40,229.83 L236.47,230.20 L236.54,230.70 L236.63,231.34 L236.72,232.10 L236.81,232.98 L236.92,233.98 L237.02,235.07 L237.12,236.25 L237.21,237.50 L237.30,238.81 L237.37,240.16 L237.42,241.55 L237.46,242.95 L237.48,244.35 L237.49,245.74 L237.47,247.10 L237.44,248.41 L237.38,249.66 L237.32,250.84 L237.23,251.93 L237.14,252.92 L237.04,253.80 L236.93,254.57 L236.82,255.21 L236.70,255.71 L236.57,256.07 L236.44,256.29 L236.27,256.37 L236.27,256.37 L236.10,256.29 L235.98,256.07 L235.88,255.71 L235.80,255.21 L235.72,254.57 L235.66,253.80 L235.61,252.92 L235.58,251.93 L235.56,250.84 L235.55,249.66 L235.55,248.41 L235.56,247.10 L235.58,245.74 L235.61,244.35 L235.63,242.95 L235.66,241.55 L235.70,240.16 L235.73,238.81 L235.77,237.50 L235.81,236.25 L235.86,235.07 L235.90,233.98 L235.94,232.98 L235.99,232.10 L236.03,231.34 L236.07,230.70 L236.11,230.20 L236.16,229.83 L236.21,229.61 L236.27,229.54Z" fill="#000" fill-opacity="0.414" stroke="#222" stroke-width="0.3" stroke-opacity="0.0"/>
<path d="M236.16,232.77 L236.22,232.83 L236.29,233.02 L236.35,233.33 L236.43,233.75 L236.51,234.30 L236.60,234.95 L236.70,235.70 L236.80,236.54 L236.91,237.47 L237.01,238.47 L237.10,239.53 L237.19,240.64 L237.26,241.79 L237.31,242.97 L237.35,244.16 L237.37,245.35 L237.37,246.53 L237.36,247.68 L237.32,248.80 L237.27,249.86 L237.20,250.86 L237.12,251.79 L237.03,252.63 L236.93,253.38 L236.82,254.03 L236.70,254.57 L236.58,255.00 L236.46,255.31 L236.33,255.50 L236.16,255.56 L236.16,255.56 L235.99,255.50 L235.87,255.31 L235.77,255.00 L235.68,254.57 L235.61,254.03 L235.55,253.38 L235.50,252.63 L235.47,251.79 L235.45,250.86 L235.44,249.86 L235.44,248.80 L235.45,247.68 L235.47,246.53 L235.49,245.35 L235.52,244.16 L235.55,242.97 L235.59,241.79 L235.62,240.64 L235.66,239.53 L235.70,238.47 L235.74,237.47 L235.79,236.54 L235.83,235.70 L235.87,234.95 L235.92,234.30 L235.96,233.75 L236.00,233.33 L236.05,233.02 L236.09,232.83 L236.16,232.77Z" fill="#000" fill-opacity="0.706" stroke="#222" stroke-width="0.3" stroke-opacity="0.0"/>
<path d="M262.20,209.70 L262.74,209.85 L263.24,210.29 L263.78,211.02 L264.38,212.03 L265.05,213.31 L265.79,214.85 L266.57,216.62 L267.38,218.62 L268.20,220.81 L269.01,223.17 L269.76,225.69 L270.44,228.32 L271.01,231.05 L271.45,233.83 L271.76,236.65 L271.93,239.47 L271.95,242.25 L271.82,244.98 L271.54,247.61 L271.12,250.12 L270.58,252.49 L269.93,254.68 L269.19,256.68 L268.38,258.45 L267.51,259.99 L266.59,261.27 L265.63,262.28 L264.62,263.01 L263.56,263.45 L262.20,263.60 L262.20,263.60 L260.88,263.45 L259.93,263.01 L259.12,262.28 L258.42,261.27 L257.83,259.99 L257.35,258.45 L256.97,256.68 L256.70,254.68 L256.52,252.49 L256.45,250.12 L256.46,247.61 L256.54,244.98 L256.69,242.25 L256.89,239.47 L257.12,236.65 L257.37,233.83 L257.64,231.05 L257.92,228.32 L258.23,225.69 L258.56,223.17 L258.90,220.81 L259.24,218.62 L259.59,216.62 L259.94,214.85 L260.28,213.31 L260.62,212.03 L260.97,211.02 L261.32,210.29 L261.70,209.85 L262.20,209.70Z" fill="none" stroke="#555" stroke-width="0.42" stroke-opacity="0.75"/>
<path d="M261.96,211.19 L262.44,211.33 L262.88,211.76 L263.36,212.46 L263.90,213.44 L264.50,214.67 L265.15,216.16 L265.85,217.87 L266.57,219.80 L267.30,221.92 L268.02,224.20 L268.69,226.63 L269.29,229.17 L269.80,231.80 L270.19,234.49 L270.46,237.21 L270.61,239.93 L270.64,242.62 L270.52,245.25 L270.27,247.80 L269.90,250.22 L269.41,252.51 L268.84,254.63 L268.18,256.55 L267.46,258.27 L266.68,259.75 L265.86,260.99 L265.01,261.96 L264.12,262.67 L263.17,263.09 L261.96,263.24 L261.96,263.24 L260.78,263.09 L259.94,262.67 L259.21,261.96 L258.59,260.99 L258.07,259.75 L257.64,258.27 L257.30,256.55 L257.06,254.63 L256.91,252.51 L256.84,250.22 L256.85,247.80 L256.92,245.25 L257.06,242.62 L257.23,239.93 L257.44,237.21 L257.66,234.49 L257.90,231.80 L258.15,229.17 L258.43,226.63 L258.72,224.20 L259.02,221.92 L259.33,219.80 L259.64,217.87 L259.94,216.16 L260.25,214.67 L260.55,213.44 L260.86,212.46 L261.17,211.76 L261.51,211.33 L261.96,211.19Z" fill="none" stroke="#555" stroke-width="0.42" stroke-opacity="0.75"/>
<path d="M261.72,212.81 L262.14,212.95 L262.52,213.36 L262.95,214.03 L263.42,214.97 L263.94,216.16 L264.51,217.59 L265.12,219.24 L265.76,221.09 L266.40,223.12 L267.03,225.32 L267.61,227.65 L268.14,230.09 L268.59,232.62 L268.93,235.21 L269.17,237.82 L269.30,240.44 L269.32,243.03 L269.22,245.55 L269.00,248.00 L268.67,250.33 L268.25,252.53 L267.74,254.56 L267.17,256.41 L266.53,258.06 L265.85,259.49 L265.14,260.68 L264.39,261.61 L263.61,262.29 L262.77,262.70 L261.72,262.84 L261.72,262.84 L260.69,262.70 L259.95,262.29 L259.31,261.61 L258.77,260.68 L258.31,259.49 L257.93,258.06 L257.64,256.41 L257.42,254.56 L257.29,252.53 L257.23,250.33 L257.24,248.00 L257.30,245.55 L257.42,243.03 L257.58,240.44 L257.76,237.82 L257.95,235.21 L258.16,232.62 L258.38,230.09 L258.62,227.65 L258.88,225.32 L259.14,223.12 L259.41,221.09 L259.68,219.24 L259.95,217.59 L260.22,216.16 L260.49,214.97 L260.75,214.03 L261.03,213.36 L261.32,212.95 L261.72,212.81Z" fill="none" stroke="#555" stroke-width="0.42" stroke-opacity="0.75"/>
<path d="M261.47,214.60 L261.84,214.73 L262.17,215.12 L262.53,215.77 L262.94,216.67 L263.39,217.80 L263.88,219.17 L264.40,220.74 L264.95,222.51 L265.50,224.45 L266.03,226.55 L266.54,228.78 L266.99,231.12 L267.38,233.53 L267.67,236.00 L267.88,238.50 L267.99,241.00 L268.01,243.47 L267.92,245.89 L267.73,248.22 L267.45,250.45 L267.09,252.55 L266.65,254.49 L266.16,256.26 L265.61,257.84 L265.03,259.20 L264.41,260.33 L263.77,261.23 L263.10,261.88 L262.38,262.27 L261.47,262.40 L261.47,262.40 L260.59,262.27 L259.95,261.88 L259.41,261.23 L258.94,260.33 L258.55,259.20 L258.22,257.84 L257.97,256.26 L257.79,254.49 L257.67,252.55 L257.62,250.45 L257.63,248.22 L257.68,245.89 L257.78,243.47 L257.92,241.00 L258.07,238.50 L258.24,236.00 L258.42,233.53 L258.61,231.12 L258.82,228.78 L259.04,226.55 L259.26,224.45 L259.49,222.51 L259.73,220.74 L259.96,219.17 L260.19,217.80 L260.42,216.67 L260.65,215.77 L260.88,215.12 L261.14,214.73 L261.47,214.60Z" fill="none" stroke="#555" stroke-width="0.42" stroke-opacity="0.75"/>
<path d="M261.23,216.61 L261.54,216.74 L261.81,217.11 L262.12,217.72 L262.46,218.57 L262.83,219.65 L263.24,220.94 L263.68,222.43 L264.13,224.11 L264.59,225.95 L265.04,227.94 L265.47,230.05 L265.85,232.26 L266.16,234.55 L266.41,236.89 L266.58,239.26 L266.68,241.63 L266.69,243.97 L266.62,246.26 L266.46,248.47 L266.23,250.58 L265.92,252.57 L265.56,254.41 L265.15,256.09 L264.69,257.58 L264.20,258.87 L263.69,259.95 L263.15,260.80 L262.59,261.41 L261.99,261.78 L261.23,261.91 L261.23,261.91 L260.49,261.78 L259.96,261.41 L259.51,260.80 L259.12,259.95 L258.78,258.87 L258.51,257.58 L258.30,256.09 L258.15,254.41 L258.05,252.57 L258.01,250.58 L258.02,248.47 L258.06,246.26 L258.15,243.97 L258.26,241.63 L258.39,239.26 L258.53,236.89 L258.68,234.55 L258.84,232.26 L259.01,230.05 L259.19,227.94 L259.38,225.95 L259.58,224.11 L259.77,222.43 L259.96,220.94 L260.16,219.65 L260.35,218.57 L260.54,217.72 L260.74,217.11 L260.95,216.74 L261.23,216.61Z" fill="none" stroke="#555" stroke-width="0.42" stroke-opacity="0.75"/>
<path d="M260.99,218.92 L261.23,219.04 L261.46,219.39 L261.70,219.96 L261.97,220.76 L262.27,221.77 L262.60,222.97 L262.96,224.37 L263.32,225.94 L263.69,227.67 L264.05,229.53 L264.39,231.51 L264.70,233.58 L264.95,235.72 L265.15,237.92 L265.29,240.13 L265.37,242.35 L265.38,244.54 L265.32,246.69 L265.19,248.76 L265.00,250.74 L264.76,252.60 L264.47,254.32 L264.14,255.89 L263.77,257.29 L263.38,258.50 L262.96,259.51 L262.53,260.30 L262.08,260.88 L261.60,261.23 L260.99,261.34 L260.99,261.34 L260.40,261.23 L259.97,260.88 L259.60,260.30 L259.29,259.51 L259.02,258.50 L258.81,257.29 L258.64,255.89 L258.51,254.32 L258.44,252.60 L258.40,250.74 L258.41,248.76 L258.44,246.69 L258.51,244.54 L258.60,242.35 L258.71,240.13 L258.82,237.92 L258.94,235.72 L259.07,233.58 L259.21,231.51 L259.35,229.53 L259.50,227.67 L259.66,225.94 L259.82,224.37 L259.97,222.97 L260.13,221.77 L260.28,220.76 L260.43,219.96 L260.59,219.39 L260.76,219.04 L260.99,218.92Z" fill="#000" fill-opacity="0.096" stroke="#222" stroke-width="0.3" stroke-opacity="0.0"/>
<path d="M260.89,219.94 L261.11,220.06 L261.32,220.39 L261.54,220.95 L261.78,221.72 L262.06,222.70 L262.35,223.87 L262.67,225.23 L263.00,226.75 L263.34,228.42 L263.66,230.23 L263.97,232.15 L264.24,234.16 L264.48,236.24 L264.66,238.37 L264.78,240.52 L264.85,242.67 L264.86,244.80 L264.81,246.88 L264.69,248.89 L264.52,250.81 L264.30,252.61 L264.04,254.28 L263.74,255.81 L263.41,257.16 L263.05,258.34 L262.68,259.31 L262.29,260.09 L261.88,260.64 L261.45,260.98 L260.89,261.09 L260.89,261.09 L260.36,260.98 L259.97,260.64 L259.64,260.09 L259.36,259.31 L259.12,258.34 L258.92,257.16 L258.77,255.81 L258.66,254.28 L258.59,252.61 L258.56,250.81 L258.56,248.89 L258.59,246.88 L258.66,244.80 L258.74,242.67 L258.83,240.52 L258.93,238.37 L259.04,236.24 L259.16,234.16 L259.28,232.15 L259.41,230.23 L259.55,228.42 L259.69,226.75 L259.83,225.23 L259.97,223.87 L260.11,222.70 L260.25,221.72 L260.39,220.95 L260.54,220.39 L260.69,220.06 L260.89,219.94Z" fill="#000" fill-opacity="0.106" stroke="#222" stroke-width="0.3" stroke-opacity="0.0"/>
<path d="M260.80,221.04 L261.00,221.15 L261.18,221.48 L261.37,222.02 L261.59,222.76 L261.84,223.71 L262.10,224.84 L262.39,226.15 L262.68,227.62 L262.98,229.24 L263.27,230.99 L263.55,232.84 L263.79,234.79 L264.00,236.80 L264.16,238.85 L264.27,240.93 L264.33,243.01 L264.34,245.07 L264.29,247.08 L264.19,249.02 L264.04,250.88 L263.84,252.62 L263.61,254.24 L263.34,255.71 L263.04,257.02 L262.73,258.16 L262.39,259.10 L262.04,259.85 L261.68,260.39 L261.29,260.71 L260.80,260.82 L260.80,260.82 L260.32,260.71 L259.97,260.39 L259.68,259.85 L259.43,259.10 L259.21,258.16 L259.04,257.02 L258.90,255.71 L258.80,254.24 L258.74,252.62 L258.71,250.88 L258.71,249.02 L258.74,247.08 L258.80,245.07 L258.87,243.01 L258.96,240.93 L259.04,238.85 L259.14,236.80 L259.25,234.79 L259.36,232.84 L259.48,230.99 L259.60,229.24 L259.73,227.62 L259.85,226.15 L259.98,224.84 L260.10,223.71 L260.23,222.76 L260.35,222.02 L260.48,221.48 L260.62,221.15 L260.80,221.04Z" fill="#000" fill-opacity="0.119" stroke="#222" stroke-width="0.3" stroke-opacity="0.0"/>
<path d="M260.70,222.24 L260.88,222.34 L261.04,222.66 L261.21,223.17 L261.40,223.89 L261.62,224.80 L261.85,225.89 L262.10,227.15 L262.36,228.57 L262.63,230.13 L262.88,231.81 L263.12,233.60 L263.34,235.47 L263.52,237.40 L263.66,239.38 L263.76,241.38 L263.82,243.39 L263.82,245.36 L263.78,247.30 L263.69,249.17 L263.56,250.96 L263.38,252.64 L263.18,254.20 L262.94,255.61 L262.68,256.87 L262.40,257.97 L262.11,258.88 L261.80,259.59 L261.48,260.11 L261.14,260.43 L260.70,260.53 L260.70,260.53 L260.28,260.43 L259.98,260.11 L259.72,259.59 L259.49,258.88 L259.31,257.97 L259.15,256.87 L259.03,255.61 L258.94,254.20 L258.89,252.64 L258.86,250.96 L258.87,249.17 L258.89,247.30 L258.94,245.36 L259.01,243.39 L259.08,241.38 L259.16,239.38 L259.24,237.40 L259.34,235.47 L259.43,233.60 L259.54,231.81 L259.65,230.13 L259.76,228.57 L259.87,227.15 L259.98,225.89 L260.09,224.80 L260.20,223.89 L260.31,223.17 L260.42,222.66 L260.54,222.34 L260.70,222.24Z" fill="#000" fill-opacity="0.135" stroke="#222" stroke-width="0.3" stroke-opacity="0.0"/>
<path d="M260.61,223.55 L260.76,223.65 L260.90,223.95 L261.05,224.45 L261.21,225.14 L261.40,226.01 L261.60,227.05 L261.82,228.26 L262.04,229.62 L262.27,231.11 L262.49,232.72 L262.70,234.42 L262.89,236.22 L263.05,238.07 L263.17,239.96 L263.25,241.88 L263.30,243.80 L263.31,245.69 L263.27,247.54 L263.19,249.34 L263.08,251.04 L262.93,252.65 L262.75,254.14 L262.54,255.50 L262.32,256.71 L262.08,257.75 L261.82,258.62 L261.56,259.31 L261.28,259.81 L260.98,260.11 L260.61,260.21 L260.61,260.21 L260.24,260.11 L259.98,259.81 L259.76,259.31 L259.56,258.62 L259.40,257.75 L259.27,256.71 L259.16,255.50 L259.09,254.14 L259.04,252.65 L259.02,251.04 L259.02,249.34 L259.04,247.54 L259.09,245.69 L259.14,243.80 L259.20,241.88 L259.27,239.96 L259.35,238.07 L259.43,236.22 L259.51,234.42 L259.60,232.72 L259.70,231.11 L259.79,229.62 L259.89,228.26 L259.98,227.05 L260.08,226.01 L260.17,225.14 L260.27,224.45 L260.36,223.95 L260.47,223.65 L260.61,223.55Z" fill="#000" fill-opacity="0.156" stroke="#222" stroke-width="0.3" stroke-opacity="0.0"/>
<path d="M260.51,225.02 L260.64,225.11 L260.76,225.40 L260.88,225.87 L261.02,226.52 L261.18,227.35 L261.35,228.34 L261.53,229.49 L261.72,230.78 L261.91,232.20 L262.10,233.73 L262.28,235.35 L262.44,237.05 L262.57,238.81 L262.67,240.61 L262.74,242.43 L262.78,244.25 L262.79,246.06 L262.76,247.82 L262.69,249.52 L262.59,251.14 L262.47,252.67 L262.32,254.09 L262.14,255.38 L261.95,256.52 L261.75,257.52 L261.54,258.34 L261.31,259.00 L261.08,259.47 L260.83,259.75 L260.51,259.85 L260.51,259.85 L260.21,259.75 L259.98,259.47 L259.79,259.00 L259.63,258.34 L259.49,257.52 L259.38,256.52 L259.29,255.38 L259.23,254.09 L259.19,252.67 L259.17,251.14 L259.17,249.52 L259.19,247.82 L259.23,246.06 L259.28,244.25 L259.33,242.43 L259.39,240.61 L259.45,238.81 L259.52,237.05 L259.59,235.35 L259.66,233.73 L259.74,232.20 L259.82,230.78 L259.90,229.49 L259.99,228.34 L260.07,227.35 L260.15,226.52 L260.23,225.87 L260.31,225.40 L260.40,225.11 L260.51,225.02Z" fill="#000" fill-opacity="0.185" stroke="#222" stroke-width="0.3" stroke-opacity="0.0"/>
<path d="M260.42,226.69 L260.52,226.78 L260.61,227.05 L260.72,227.49 L260.83,228.11 L260.96,228.88 L261.10,229.82 L261.25,230.90 L261.40,232.11 L261.56,233.44 L261.71,234.88 L261.85,236.41 L261.98,238.01 L262.09,239.66 L262.18,241.35 L262.23,243.07 L262.27,244.78 L262.27,246.47 L262.25,248.13 L262.19,249.73 L262.11,251.25 L262.01,252.69 L261.89,254.02 L261.75,255.23 L261.59,256.31 L261.43,257.25 L261.25,258.02 L261.07,258.64 L260.88,259.08 L260.68,259.35 L260.42,259.44 L260.42,259.44 L260.17,259.35 L259.99,259.08 L259.83,258.64 L259.70,258.02 L259.59,257.25 L259.50,256.31 L259.42,255.23 L259.37,254.02 L259.34,252.69 L259.33,251.25 L259.33,249.73 L259.34,248.13 L259.37,246.47 L259.41,244.78 L259.45,243.07 L259.50,241.35 L259.55,239.66 L259.61,238.01 L259.66,236.41 L259.73,234.88 L259.79,233.44 L259.86,232.11 L259.92,230.90 L259.99,229.82 L260.05,228.88 L260.12,228.11 L260.18,227.49 L260.25,227.05 L260.32,226.78 L260.42,226.69Z" fill="#000" fill-opacity="0.226" stroke="#222" stroke-width="0.3" stroke-opacity="0.0"/>
<path d="M260.32,228.66 L260.40,228.74 L260.47,228.99 L260.55,229.40 L260.64,229.97 L260.74,230.69 L260.85,231.55 L260.96,232.55 L261.08,233.67 L261.20,234.90 L261.32,236.23 L261.43,237.65 L261.53,239.13 L261.61,240.66 L261.68,242.22 L261.72,243.81 L261.75,245.39 L261.75,246.96 L261.73,248.49 L261.69,249.97 L261.63,251.38 L261.55,252.71 L261.46,253.95 L261.35,255.07 L261.23,256.07 L261.10,256.93 L260.97,257.65 L260.83,258.22 L260.68,258.63 L260.52,258.88 L260.32,258.96 L260.32,258.96 L260.13,258.88 L259.99,258.63 L259.87,258.22 L259.77,257.65 L259.68,256.93 L259.61,256.07 L259.56,255.07 L259.52,253.95 L259.49,252.71 L259.48,251.38 L259.48,249.97 L259.49,248.49 L259.52,246.96 L259.54,245.39 L259.58,243.81 L259.61,242.22 L259.65,240.66 L259.70,239.13 L259.74,237.65 L259.79,236.23 L259.84,234.90 L259.89,233.67 L259.94,232.55 L259.99,231.55 L260.04,230.69 L260.09,229.97 L260.14,229.40 L260.19,228.99 L260.25,228.74 L260.32,228.66Z" fill="#000" fill-opacity="0.293" stroke="#222" stroke-width="0.3" stroke-opacity="0.0"/>
<path d="M260.23,231.08 L260.30,231.16 L260.36,231.38 L260.42,231.75 L260.50,232.26 L260.58,232.91 L260.68,233.69 L260.77,234.59 L260.87,235.60 L260.98,236.71 L261.08,237.90 L261.17,239.18 L261.26,240.51 L261.33,241.89 L261.38,243.30 L261.42,244.72 L261.44,246.15 L261.45,247.56 L261.43,248.94 L261.39,250.27 L261.34,251.54 L261.27,252.74 L261.19,253.85 L261.10,254.86 L261.00,255.76 L260.89,256.54 L260.78,257.19 L260.66,257.70 L260.53,258.07 L260.40,258.29 L260.23,258.37 L260.23,258.37 L260.06,258.29 L259.94,258.07 L259.84,257.70 L259.75,257.19 L259.68,256.54 L259.62,255.76 L259.57,254.86 L259.54,253.85 L259.52,252.74 L259.51,251.54 L259.51,250.27 L259.52,248.94 L259.54,247.56 L259.56,246.15 L259.59,244.72 L259.62,243.30 L259.66,241.89 L259.69,240.51 L259.73,239.18 L259.77,237.90 L259.81,236.71 L259.86,235.60 L259.90,234.59 L259.94,233.69 L259.99,232.91 L260.03,232.26 L260.07,231.75 L260.12,231.38 L260.16,231.16 L260.23,231.08Z" fill="#000" fill-opacity="0.414" stroke="#222" stroke-width="0.3" stroke-opacity="0.0"/>
<path d="M260.13,234.38 L260.20,234.45 L260.26,234.64 L260.33,234.95 L260.41,235.38 L260.49,235.93 L260.58,236.60 L260.68,237.36 L260.78,238.22 L260.88,239.16 L260.98,240.18 L261.08,241.26 L261.16,242.39 L261.23,243.56 L261.29,244.76 L261.33,245.97 L261.35,247.18 L261.35,248.38 L261.33,249.55 L261.30,250.68 L261.25,251.76 L261.18,252.78 L261.10,253.72 L261.01,254.58 L260.90,255.34 L260.80,256.01 L260.68,256.56 L260.56,256.99 L260.43,257.30 L260.30,257.49 L260.13,257.56 L260.13,257.56 L259.97,257.49 L259.85,257.30 L259.75,256.99 L259.66,256.56 L259.59,256.01 L259.53,255.34 L259.48,254.58 L259.44,253.72 L259.42,252.78 L259.41,251.76 L259.41,250.68 L259.42,249.55 L259.44,248.38 L259.47,247.18 L259.50,245.97 L259.53,244.76 L259.56,243.56 L259.60,242.39 L259.64,241.26 L259.68,240.18 L259.72,239.16 L259.76,238.22 L259.81,237.36 L259.85,236.60 L259.89,235.93 L259.93,235.38 L259.98,234.95 L260.02,234.64 L260.07,234.45 L260.13,234.38Z" fill="#000" fill-opacity="0.706" stroke="#222" stroke-width="0.3" stroke-opacity="0.0"/>
</g>
<g clip-path="url(#cR)">
<path d="M296.60,150.00 L297.23,150.21 L297.58,150.82 L297.87,151.85 L298.15,153.26 L298.41,155.06 L298.66,157.21 L298.91,159.70 L299.16,162.49 L299.39,165.56 L299.62,168.88 L299.85,172.40 L300.06,176.08 L300.26,179.90 L300.45,183.80 L300.64,187.75 L300.83,191.70 L301.01,195.60 L301.17,199.42 L301.30,203.10 L301.38,206.62 L301.40,209.94 L301.36,213.01 L301.23,215.80 L301.02,218.29 L300.72,220.44 L300.31,222.24 L299.78,223.65 L299.12,224.68 L298.25,225.29 L296.60,225.50 L296.60,225.50 L294.95,225.29 L294.08,224.68 L293.42,223.65 L292.89,222.24 L292.48,220.44 L292.18,218.29 L291.97,215.80 L291.84,213.01 L291.80,209.94 L291.82,206.62 L291.90,203.10 L292.03,199.42 L292.19,195.60 L292.37,191.70 L292.56,187.75 L292.75,183.80 L292.94,179.90 L293.14,176.08 L293.35,172.40 L293.58,168.88 L293.81,165.56 L294.04,162.49 L294.29,159.70 L294.54,157.21 L294.79,155.06 L295.05,153.26 L295.33,151.85 L295.62,150.82 L295.97,150.21 L296.60,150.00Z" fill="none" stroke="#555" stroke-width="0.42" stroke-opacity="0.75"/>
<path d="M296.24,154.32 L296.78,154.50 L297.08,155.04 L297.33,155.93 L297.57,157.17 L297.79,158.73 L298.01,160.61 L298.22,162.78 L298.43,165.22 L298.64,167.90 L298.84,170.79 L299.03,173.87 L299.21,177.09 L299.38,180.42 L299.55,183.83 L299.71,187.27 L299.88,190.72 L300.03,194.13 L300.17,197.46 L300.28,200.68 L300.35,203.75 L300.37,206.65 L300.33,209.33 L300.22,211.77 L300.04,213.94 L299.78,215.82 L299.42,217.38 L298.97,218.62 L298.40,219.51 L297.66,220.05 L296.24,220.23 L296.24,220.23 L294.82,220.05 L294.07,219.51 L293.50,218.62 L293.05,217.38 L292.70,215.82 L292.43,213.94 L292.25,211.77 L292.15,209.33 L292.11,206.65 L292.13,203.75 L292.19,200.68 L292.30,197.46 L292.44,194.13 L292.59,190.72 L292.76,187.27 L292.92,183.83 L293.09,180.42 L293.26,177.09 L293.45,173.87 L293.64,170.79 L293.83,167.90 L294.04,165.22 L294.25,162.78 L294.46,160.61 L294.68,158.73 L294.91,157.17 L295.14,155.93 L295.39,155.04 L295.69,154.50 L296.24,154.32Z" fill="none" stroke="#555" stroke-width="0.42" stroke-opacity="0.75"/>
<path d="M295.87,158.70 L296.33,158.86 L296.58,159.32 L296.79,160.08 L296.99,161.13 L297.17,162.47 L297.36,164.07 L297.54,165.92 L297.71,168.00 L297.88,170.28 L298.05,172.75 L298.21,175.37 L298.36,178.11 L298.51,180.95 L298.65,183.85 L298.78,186.79 L298.92,189.73 L299.05,192.63 L299.16,195.47 L299.26,198.21 L299.31,200.83 L299.33,203.30 L299.30,205.58 L299.21,207.66 L299.06,209.51 L298.84,211.11 L298.54,212.45 L298.16,213.50 L297.68,214.26 L297.06,214.72 L295.87,214.88 L295.87,214.88 L294.68,214.72 L294.06,214.26 L293.58,213.50 L293.20,212.45 L292.91,211.11 L292.69,209.51 L292.54,207.66 L292.45,205.58 L292.41,203.30 L292.43,200.83 L292.49,198.21 L292.58,195.47 L292.69,192.63 L292.82,189.73 L292.96,186.79 L293.10,183.85 L293.24,180.95 L293.38,178.11 L293.54,175.37 L293.69,172.75 L293.86,170.28 L294.03,168.00 L294.21,165.92 L294.39,164.07 L294.57,162.47 L294.76,161.13 L294.95,160.08 L295.17,159.32 L295.42,158.86 L295.87,158.70Z" fill="none" stroke="#555" stroke-width="0.42" stroke-opacity="0.75"/>
<path d="M295.51,163.18 L295.87,163.30 L296.08,163.68 L296.25,164.31 L296.41,165.17 L296.56,166.27 L296.70,167.59 L296.85,169.11 L296.99,170.83 L297.13,172.71 L297.26,174.74 L297.39,176.89 L297.51,179.15 L297.63,181.49 L297.74,183.88 L297.85,186.30 L297.96,188.71 L298.07,191.10 L298.16,193.44 L298.23,195.70 L298.28,197.86 L298.29,199.89 L298.27,201.77 L298.19,203.48 L298.07,205.00 L297.90,206.32 L297.66,207.42 L297.35,208.29 L296.97,208.91 L296.47,209.29 L295.51,209.42 L295.51,209.42 L294.55,209.29 L294.05,208.91 L293.66,208.29 L293.36,207.42 L293.12,206.32 L292.94,205.00 L292.82,203.48 L292.75,201.77 L292.72,199.89 L292.74,197.86 L292.78,195.70 L292.86,193.44 L292.95,191.10 L293.05,188.71 L293.16,186.30 L293.27,183.88 L293.39,181.49 L293.50,179.15 L293.63,176.89 L293.75,174.74 L293.89,172.71 L294.03,170.83 L294.17,169.11 L294.31,167.59 L294.46,166.27 L294.61,165.17 L294.77,164.31 L294.94,163.68 L295.14,163.30 L295.51,163.18Z" fill="#000" fill-opacity="0.134" stroke="#222" stroke-width="0.3" stroke-opacity="0.0"/>
<path d="M295.36,165.04 L295.69,165.16 L295.87,165.50 L296.02,166.07 L296.17,166.86 L296.30,167.86 L296.44,169.06 L296.57,170.45 L296.69,172.01 L296.82,173.72 L296.94,175.57 L297.05,177.53 L297.16,179.59 L297.27,181.71 L297.37,183.89 L297.47,186.09 L297.57,188.29 L297.66,190.47 L297.75,192.59 L297.81,194.65 L297.86,196.61 L297.87,198.46 L297.84,200.17 L297.78,201.73 L297.67,203.12 L297.51,204.32 L297.30,205.32 L297.02,206.11 L296.67,206.68 L296.22,207.02 L295.36,207.14 L295.36,207.14 L294.50,207.02 L294.04,206.68 L293.70,206.11 L293.42,205.32 L293.21,204.32 L293.05,203.12 L292.94,201.73 L292.87,200.17 L292.85,198.46 L292.86,196.61 L292.90,194.65 L292.97,192.59 L293.05,190.47 L293.15,188.29 L293.25,186.09 L293.34,183.89 L293.45,181.71 L293.55,179.59 L293.66,177.53 L293.78,175.57 L293.90,173.72 L294.02,172.01 L294.15,170.45 L294.28,169.06 L294.41,167.86 L294.55,166.86 L294.69,166.07 L294.85,165.50 L295.03,165.16 L295.36,165.04Z" fill="#000" fill-opacity="0.134" stroke="#222" stroke-width="0.3" stroke-opacity="0.0"/>
<path d="M295.21,166.93 L295.50,167.04 L295.66,167.35 L295.80,167.86 L295.93,168.57 L296.05,169.47 L296.17,170.55 L296.28,171.80 L296.40,173.20 L296.51,174.74 L296.62,176.41 L296.72,178.17 L296.82,180.03 L296.91,181.94 L297.00,183.90 L297.09,185.88 L297.18,187.86 L297.26,189.82 L297.34,191.74 L297.39,193.59 L297.43,195.36 L297.44,197.02 L297.42,198.56 L297.36,199.97 L297.27,201.21 L297.12,202.29 L296.93,203.19 L296.69,203.91 L296.38,204.42 L295.98,204.73 L295.21,204.83 L295.21,204.83 L294.44,204.73 L294.04,204.42 L293.73,203.91 L293.49,203.19 L293.30,202.29 L293.15,201.21 L293.05,199.97 L293.00,198.56 L292.98,197.02 L292.99,195.36 L293.02,193.59 L293.08,191.74 L293.16,189.82 L293.24,187.86 L293.33,185.88 L293.42,183.90 L293.51,181.94 L293.60,180.03 L293.70,178.17 L293.80,176.41 L293.91,174.74 L294.02,173.20 L294.13,171.80 L294.25,170.55 L294.37,169.47 L294.49,168.57 L294.62,167.86 L294.75,167.35 L294.92,167.04 L295.21,166.93Z" fill="#000" fill-opacity="0.147" stroke="#222" stroke-width="0.3" stroke-opacity="0.0"/>
<path d="M295.06,168.84 L295.32,168.94 L295.46,169.21 L295.58,169.67 L295.69,170.30 L295.80,171.10 L295.90,172.06 L296.00,173.17 L296.10,174.41 L296.20,175.78 L296.29,177.26 L296.38,178.83 L296.47,180.47 L296.55,182.17 L296.63,183.91 L296.71,185.67 L296.78,187.43 L296.86,189.17 L296.92,190.87 L296.97,192.52 L297.01,194.09 L297.02,195.56 L297.00,196.93 L296.95,198.18 L296.86,199.29 L296.74,200.25 L296.57,201.04 L296.36,201.68 L296.09,202.13 L295.73,202.41 L295.06,202.50 L295.06,202.50 L294.39,202.41 L294.03,202.13 L293.76,201.68 L293.55,201.04 L293.38,200.25 L293.26,199.29 L293.17,198.18 L293.12,196.93 L293.10,195.56 L293.11,194.09 L293.14,192.52 L293.20,190.87 L293.26,189.17 L293.33,187.43 L293.41,185.67 L293.49,183.91 L293.57,182.17 L293.65,180.47 L293.74,178.83 L293.83,177.26 L293.92,175.78 L294.02,174.41 L294.12,173.17 L294.22,172.06 L294.32,171.10 L294.43,170.30 L294.54,169.67 L294.66,169.21 L294.80,168.94 L295.06,168.84Z" fill="#000" fill-opacity="0.167" stroke="#222" stroke-width="0.3" stroke-opacity="0.0"/>
<path d="M294.91,170.78 L295.13,170.86 L295.25,171.10 L295.36,171.50 L295.45,172.05 L295.54,172.75 L295.63,173.59 L295.72,174.55 L295.80,175.64 L295.89,176.83 L295.97,178.12 L296.05,179.49 L296.12,180.92 L296.19,182.41 L296.26,183.92 L296.33,185.46 L296.39,186.99 L296.45,188.51 L296.51,189.99 L296.55,191.43 L296.58,192.80 L296.59,194.08 L296.57,195.28 L296.53,196.36 L296.46,197.33 L296.35,198.17 L296.21,198.86 L296.02,199.41 L295.79,199.81 L295.49,200.05 L294.91,200.13 L294.91,200.13 L294.33,200.05 L294.03,199.81 L293.80,199.41 L293.61,198.86 L293.47,198.17 L293.36,197.33 L293.29,196.36 L293.25,195.28 L293.23,194.08 L293.24,192.80 L293.27,191.43 L293.31,189.99 L293.37,188.51 L293.43,186.99 L293.49,185.46 L293.56,183.92 L293.63,182.41 L293.70,180.92 L293.77,179.49 L293.85,178.12 L293.93,176.83 L294.02,175.64 L294.10,174.55 L294.19,173.59 L294.28,172.75 L294.37,172.05 L294.46,171.50 L294.57,171.10 L294.69,170.86 L294.91,170.78Z" fill="#000" fill-opacity="0.195" stroke="#222" stroke-width="0.3" stroke-opacity="0.0"/>
<path d="M294.76,172.75 L294.94,172.82 L295.05,173.03 L295.13,173.37 L295.21,173.83 L295.29,174.43 L295.36,175.14 L295.44,175.96 L295.51,176.89 L295.58,177.90 L295.64,179.00 L295.71,180.16 L295.77,181.38 L295.83,182.64 L295.89,183.94 L295.94,185.24 L296.00,186.55 L296.05,187.84 L296.10,189.10 L296.14,190.32 L296.16,191.48 L296.17,192.58 L296.15,193.60 L296.12,194.52 L296.05,195.34 L295.96,196.05 L295.84,196.65 L295.69,197.12 L295.50,197.45 L295.24,197.66 L294.76,197.73 L294.76,197.73 L294.28,197.66 L294.02,197.45 L293.83,197.12 L293.68,196.65 L293.56,196.05 L293.47,195.34 L293.41,194.52 L293.37,193.60 L293.36,192.58 L293.36,191.48 L293.39,190.32 L293.42,189.10 L293.47,187.84 L293.52,186.55 L293.58,185.24 L293.63,183.94 L293.69,182.64 L293.75,181.38 L293.81,180.16 L293.88,179.00 L293.94,177.90 L294.01,176.89 L294.08,175.96 L294.16,175.14 L294.23,174.43 L294.31,173.83 L294.39,173.37 L294.47,173.03 L294.58,172.82 L294.76,172.75Z" fill="#000" fill-opacity="0.238" stroke="#222" stroke-width="0.3" stroke-opacity="0.0"/>
<path d="M294.61,174.76 L294.76,174.82 L294.84,174.99 L294.91,175.27 L294.97,175.65 L295.04,176.14 L295.10,176.72 L295.15,177.40 L295.21,178.16 L295.27,178.99 L295.32,179.89 L295.37,180.85 L295.42,181.85 L295.47,182.89 L295.52,183.95 L295.56,185.02 L295.61,186.09 L295.65,187.15 L295.69,188.19 L295.72,189.19 L295.73,190.15 L295.74,191.05 L295.73,191.88 L295.70,192.64 L295.65,193.31 L295.58,193.90 L295.48,194.39 L295.36,194.77 L295.20,195.05 L295.00,195.22 L294.61,195.27 L294.61,195.27 L294.22,195.22 L294.02,195.05 L293.86,194.77 L293.74,194.39 L293.64,193.90 L293.57,193.31 L293.52,192.64 L293.49,191.88 L293.48,191.05 L293.49,190.15 L293.51,189.19 L293.54,188.19 L293.57,187.15 L293.62,186.09 L293.66,185.02 L293.71,183.95 L293.75,182.89 L293.80,181.85 L293.85,180.85 L293.90,179.89 L293.95,178.99 L294.01,178.16 L294.07,177.40 L294.13,176.72 L294.19,176.14 L294.25,175.65 L294.31,175.27 L294.38,174.99 L294.46,174.82 L294.61,174.76Z" fill="#000" fill-opacity="0.307" stroke="#222" stroke-width="0.3" stroke-opacity="0.0"/>
<path d="M294.46,176.83 L294.57,176.87 L294.64,177.00 L294.69,177.22 L294.74,177.51 L294.78,177.89 L294.83,178.35 L294.87,178.87 L294.92,179.46 L294.96,180.11 L295.00,180.81 L295.04,181.55 L295.08,182.33 L295.11,183.14 L295.15,183.96 L295.18,184.79 L295.21,185.62 L295.25,186.45 L295.27,187.25 L295.30,188.03 L295.31,188.77 L295.31,189.47 L295.31,190.12 L295.28,190.71 L295.25,191.24 L295.19,191.69 L295.12,192.07 L295.03,192.37 L294.91,192.58 L294.75,192.71 L294.46,192.76 L294.46,192.76 L294.17,192.71 L294.01,192.58 L293.90,192.37 L293.80,192.07 L293.73,191.69 L293.68,191.24 L293.64,190.71 L293.62,190.12 L293.61,189.47 L293.61,188.77 L293.63,188.03 L293.65,187.25 L293.68,186.45 L293.71,185.62 L293.74,184.79 L293.78,183.96 L293.81,183.14 L293.85,182.33 L293.89,181.55 L293.92,180.81 L293.97,180.11 L294.01,179.46 L294.05,178.87 L294.10,178.35 L294.14,177.89 L294.19,177.51 L294.24,177.22 L294.29,177.00 L294.35,176.87 L294.46,176.83Z" fill="#000" fill-opacity="0.436" stroke="#222" stroke-width="0.3" stroke-opacity="0.0"/>
<path d="M294.31,178.96 L294.41,178.99 L294.47,179.08 L294.51,179.23 L294.55,179.44 L294.60,179.71 L294.64,180.03 L294.67,180.39 L294.71,180.81 L294.75,181.26 L294.79,181.76 L294.82,182.28 L294.85,182.83 L294.89,183.39 L294.92,183.97 L294.95,184.56 L294.98,185.14 L295.00,185.72 L295.03,186.29 L295.05,186.83 L295.06,187.36 L295.07,187.85 L295.06,188.30 L295.04,188.72 L295.01,189.09 L294.96,189.41 L294.89,189.67 L294.81,189.88 L294.71,190.03 L294.57,190.13 L294.31,190.16 L294.31,190.16 L294.05,190.13 L293.92,190.03 L293.81,189.88 L293.73,189.67 L293.67,189.41 L293.62,189.09 L293.59,188.72 L293.57,188.30 L293.56,187.85 L293.56,187.36 L293.57,186.83 L293.59,186.29 L293.62,185.72 L293.65,185.14 L293.68,184.56 L293.71,183.97 L293.74,183.39 L293.77,182.83 L293.80,182.28 L293.84,181.76 L293.87,181.26 L293.91,180.81 L293.95,180.39 L293.99,180.03 L294.03,179.71 L294.07,179.44 L294.11,179.23 L294.16,179.08 L294.21,178.99 L294.31,178.96Z" fill="#000" fill-opacity="0.765" stroke="#222" stroke-width="0.3" stroke-opacity="0.0"/>
<path d="M316.80,206.80 L317.56,206.91 L318.09,207.23 L318.56,207.77 L318.98,208.51 L319.36,209.45 L319.70,210.58 L320.02,211.89 L320.30,213.35 L320.55,214.96 L320.77,216.70 L320.95,218.55 L321.11,220.48 L321.23,222.48 L321.32,224.53 L321.40,226.60 L321.47,228.67 L321.51,230.72 L321.52,232.72 L321.49,234.65 L321.41,236.50 L321.28,238.24 L321.08,239.85 L320.83,241.31 L320.51,242.62 L320.12,243.75 L319.67,244.69 L319.14,245.43 L318.54,245.97 L317.83,246.29 L316.80,246.40 L316.80,246.40 L315.77,246.29 L315.06,245.97 L314.46,245.43 L313.93,244.69 L313.48,243.75 L313.09,242.62 L312.77,241.31 L312.52,239.85 L312.32,238.24 L312.19,236.50 L312.11,234.65 L312.08,232.72 L312.09,230.72 L312.13,228.67 L312.20,226.60 L312.28,224.53 L312.37,222.48 L312.49,220.48 L312.65,218.55 L312.83,216.70 L313.05,214.96 L313.30,213.35 L313.58,211.89 L313.90,210.58 L314.24,209.45 L314.62,208.51 L315.04,207.77 L315.51,207.23 L316.04,206.91 L316.80,206.80Z" fill="none" stroke="#555" stroke-width="0.42" stroke-opacity="0.75"/>
<path d="M316.73,208.10 L317.38,208.20 L317.84,208.51 L318.24,209.01 L318.60,209.71 L318.93,210.60 L319.23,211.66 L319.50,212.89 L319.74,214.27 L319.96,215.78 L320.14,217.42 L320.30,219.16 L320.43,220.98 L320.54,222.86 L320.62,224.79 L320.69,226.74 L320.74,228.69 L320.78,230.62 L320.79,232.50 L320.77,234.32 L320.70,236.06 L320.58,237.70 L320.41,239.21 L320.19,240.59 L319.92,241.82 L319.59,242.88 L319.20,243.77 L318.74,244.47 L318.23,244.97 L317.61,245.28 L316.73,245.38 L316.73,245.38 L315.85,245.28 L315.23,244.97 L314.72,244.47 L314.26,243.77 L313.87,242.88 L313.54,241.82 L313.27,240.59 L313.05,239.21 L312.88,237.70 L312.76,236.06 L312.69,234.32 L312.67,232.50 L312.68,230.62 L312.72,228.69 L312.77,226.74 L312.84,224.79 L312.92,222.86 L313.03,220.98 L313.16,219.16 L313.32,217.42 L313.50,215.78 L313.72,214.27 L313.96,212.89 L314.23,211.66 L314.53,210.60 L314.86,209.71 L315.22,209.01 L315.62,208.51 L316.08,208.20 L316.73,208.10Z" fill="none" stroke="#555" stroke-width="0.42" stroke-opacity="0.75"/>
<path d="M316.66,209.53 L317.21,209.63 L317.59,209.91 L317.93,210.38 L318.23,211.03 L318.50,211.86 L318.75,212.85 L318.98,213.99 L319.18,215.28 L319.36,216.69 L319.52,218.21 L319.65,219.83 L319.76,221.53 L319.85,223.29 L319.92,225.08 L319.97,226.90 L320.02,228.71 L320.05,230.51 L320.06,232.26 L320.04,233.96 L319.98,235.58 L319.88,237.10 L319.74,238.51 L319.56,239.80 L319.33,240.94 L319.05,241.93 L318.72,242.76 L318.35,243.41 L317.91,243.88 L317.40,244.16 L316.66,244.26 L316.66,244.26 L315.92,244.16 L315.41,243.88 L314.97,243.41 L314.60,242.76 L314.27,241.93 L313.99,240.94 L313.76,239.80 L313.58,238.51 L313.44,237.10 L313.34,235.58 L313.28,233.96 L313.26,232.26 L313.27,230.51 L313.30,228.71 L313.35,226.90 L313.40,225.08 L313.47,223.29 L313.56,221.53 L313.67,219.83 L313.80,218.21 L313.96,216.69 L314.14,215.28 L314.34,213.99 L314.57,212.85 L314.82,211.86 L315.09,211.03 L315.39,210.38 L315.73,209.91 L316.11,209.63 L316.66,209.53Z" fill="#000" fill-opacity="0.106" stroke="#222" stroke-width="0.3" stroke-opacity="0.0"/>
<path d="M316.62,210.43 L317.11,210.52 L317.45,210.79 L317.74,211.24 L318.01,211.86 L318.26,212.65 L318.48,213.59 L318.68,214.68 L318.86,215.91 L319.02,217.26 L319.16,218.71 L319.28,220.26 L319.38,221.87 L319.45,223.55 L319.51,225.26 L319.56,226.99 L319.61,228.72 L319.64,230.44 L319.64,232.11 L319.62,233.73 L319.57,235.27 L319.49,236.73 L319.36,238.08 L319.20,239.30 L318.99,240.39 L318.75,241.34 L318.45,242.12 L318.12,242.74 L317.73,243.19 L317.28,243.46 L316.62,243.56 L316.62,243.56 L315.96,243.46 L315.51,243.19 L315.12,242.74 L314.79,242.12 L314.49,241.34 L314.25,240.39 L314.04,239.30 L313.88,238.08 L313.75,236.73 L313.67,235.27 L313.62,233.73 L313.60,232.11 L313.60,230.44 L313.63,228.72 L313.68,226.99 L313.73,225.26 L313.79,223.55 L313.86,221.87 L313.96,220.26 L314.08,218.71 L314.22,217.26 L314.38,215.91 L314.56,214.68 L314.76,213.59 L314.98,212.65 L315.23,211.86 L315.50,211.24 L315.79,210.79 L316.13,210.52 L316.62,210.43Z" fill="#000" fill-opacity="0.118" stroke="#222" stroke-width="0.3" stroke-opacity="0.0"/>
<path d="M316.58,211.40 L317.01,211.48 L317.30,211.74 L317.56,212.16 L317.80,212.75 L318.01,213.50 L318.21,214.39 L318.38,215.43 L318.54,216.59 L318.68,217.87 L318.80,219.25 L318.91,220.71 L318.99,222.24 L319.06,223.83 L319.11,225.46 L319.16,227.10 L319.19,228.74 L319.22,230.36 L319.23,231.95 L319.21,233.48 L319.16,234.95 L319.09,236.33 L318.98,237.60 L318.84,238.77 L318.66,239.80 L318.44,240.69 L318.19,241.44 L317.89,242.03 L317.55,242.46 L317.16,242.71 L316.58,242.80 L316.58,242.80 L316.00,242.71 L315.61,242.46 L315.27,242.03 L314.97,241.44 L314.72,240.69 L314.50,239.80 L314.32,238.77 L314.18,237.60 L314.07,236.33 L314.00,234.95 L313.95,233.48 L313.93,231.95 L313.94,230.36 L313.97,228.74 L314.00,227.10 L314.05,225.46 L314.10,223.83 L314.17,222.24 L314.25,220.71 L314.36,219.25 L314.48,217.87 L314.62,216.59 L314.78,215.43 L314.95,214.39 L315.15,213.50 L315.36,212.75 L315.60,212.16 L315.86,211.74 L316.15,211.48 L316.58,211.40Z" fill="#000" fill-opacity="0.134" stroke="#222" stroke-width="0.3" stroke-opacity="0.0"/>
<path d="M316.54,212.45 L316.91,212.53 L317.16,212.77 L317.38,213.17 L317.58,213.72 L317.77,214.43 L317.93,215.27 L318.09,216.24 L318.22,217.33 L318.34,218.53 L318.45,219.83 L318.53,221.21 L318.61,222.65 L318.67,224.14 L318.71,225.67 L318.75,227.21 L318.78,228.75 L318.80,230.28 L318.81,231.77 L318.79,233.22 L318.75,234.59 L318.69,235.89 L318.60,237.09 L318.47,238.18 L318.32,239.15 L318.13,240.00 L317.92,240.70 L317.66,241.25 L317.37,241.65 L317.03,241.89 L316.54,241.97 L316.54,241.97 L316.05,241.89 L315.71,241.65 L315.42,241.25 L315.16,240.70 L314.95,240.00 L314.76,239.15 L314.61,238.18 L314.48,237.09 L314.39,235.89 L314.33,234.59 L314.29,233.22 L314.27,231.77 L314.28,230.28 L314.30,228.75 L314.33,227.21 L314.37,225.67 L314.41,224.14 L314.47,222.65 L314.55,221.21 L314.63,219.83 L314.74,218.53 L314.86,217.33 L314.99,216.24 L315.15,215.27 L315.31,214.43 L315.50,213.72 L315.70,213.17 L315.92,212.77 L316.17,212.53 L316.54,212.45Z" fill="#000" fill-opacity="0.154" stroke="#222" stroke-width="0.3" stroke-opacity="0.0"/>
<path d="M316.50,213.61 L316.80,213.69 L317.02,213.91 L317.20,214.28 L317.37,214.80 L317.52,215.45 L317.66,216.23 L317.79,217.14 L317.90,218.15 L318.00,219.27 L318.09,220.47 L318.16,221.75 L318.22,223.10 L318.27,224.48 L318.31,225.90 L318.34,227.34 L318.37,228.77 L318.39,230.19 L318.39,231.58 L318.38,232.92 L318.35,234.20 L318.29,235.40 L318.21,236.52 L318.11,237.54 L317.98,238.44 L317.83,239.22 L317.65,239.87 L317.44,240.39 L317.20,240.76 L316.91,240.99 L316.50,241.06 L316.50,241.06 L316.09,240.99 L315.80,240.76 L315.56,240.39 L315.35,239.87 L315.17,239.22 L315.02,238.44 L314.89,237.54 L314.79,236.52 L314.71,235.40 L314.65,234.20 L314.62,232.92 L314.61,231.58 L314.61,230.19 L314.63,228.77 L314.66,227.34 L314.69,225.90 L314.73,224.48 L314.78,223.10 L314.84,221.75 L314.91,220.47 L315.00,219.27 L315.10,218.15 L315.21,217.14 L315.34,216.23 L315.48,215.45 L315.63,214.80 L315.80,214.28 L315.98,213.91 L316.20,213.69 L316.50,213.61Z" fill="#000" fill-opacity="0.183" stroke="#222" stroke-width="0.3" stroke-opacity="0.0"/>
<path d="M316.46,214.93 L316.70,214.99 L316.87,215.20 L317.02,215.54 L317.16,216.01 L317.28,216.61 L317.39,217.32 L317.49,218.15 L317.58,219.08 L317.66,220.10 L317.73,221.20 L317.79,222.37 L317.84,223.60 L317.88,224.87 L317.91,226.17 L317.93,227.48 L317.95,228.79 L317.97,230.09 L317.97,231.36 L317.96,232.58 L317.94,233.75 L317.89,234.86 L317.83,235.88 L317.75,236.81 L317.65,237.63 L317.52,238.35 L317.38,238.95 L317.21,239.42 L317.02,239.76 L316.79,239.96 L316.46,240.03 L316.46,240.03 L316.13,239.96 L315.90,239.76 L315.71,239.42 L315.54,238.95 L315.40,238.35 L315.27,237.63 L315.17,236.81 L315.09,235.88 L315.03,234.86 L314.98,233.75 L314.96,232.58 L314.95,231.36 L314.95,230.09 L314.97,228.79 L314.99,227.48 L315.01,226.17 L315.04,224.87 L315.08,223.60 L315.13,222.37 L315.19,221.20 L315.26,220.10 L315.34,219.08 L315.43,218.15 L315.53,217.32 L315.64,216.61 L315.76,216.01 L315.90,215.54 L316.05,215.20 L316.22,214.99 L316.46,214.93Z" fill="#000" fill-opacity="0.224" stroke="#222" stroke-width="0.3" stroke-opacity="0.0"/>
<path d="M316.42,216.46 L316.60,216.52 L316.73,216.70 L316.84,217.00 L316.94,217.42 L317.03,217.95 L317.12,218.59 L317.19,219.33 L317.26,220.16 L317.32,221.07 L317.37,222.05 L317.42,223.09 L317.45,224.19 L317.48,225.32 L317.51,226.47 L317.52,227.64 L317.54,228.81 L317.55,229.97 L317.55,231.10 L317.55,232.19 L317.53,233.24 L317.49,234.22 L317.45,235.13 L317.39,235.96 L317.31,236.70 L317.22,237.33 L317.11,237.86 L316.98,238.28 L316.84,238.59 L316.67,238.77 L316.42,238.83 L316.42,238.83 L316.17,238.77 L316.00,238.59 L315.86,238.28 L315.73,237.86 L315.62,237.33 L315.53,236.70 L315.45,235.96 L315.39,235.13 L315.35,234.22 L315.31,233.24 L315.29,232.19 L315.29,231.10 L315.29,229.97 L315.30,228.81 L315.32,227.64 L315.33,226.47 L315.36,225.32 L315.39,224.19 L315.42,223.09 L315.47,222.05 L315.52,221.07 L315.58,220.16 L315.65,219.33 L315.72,218.59 L315.81,217.95 L315.90,217.42 L316.00,217.00 L316.11,216.70 L316.24,216.52 L316.42,216.46Z" fill="#000" fill-opacity="0.288" stroke="#222" stroke-width="0.3" stroke-opacity="0.0"/>
<path d="M316.38,218.33 L316.51,218.39 L316.61,218.54 L316.69,218.80 L316.76,219.16 L316.82,219.61 L316.89,220.15 L316.94,220.78 L316.99,221.48 L317.03,222.26 L317.07,223.09 L317.10,223.98 L317.13,224.91 L317.15,225.87 L317.17,226.85 L317.18,227.85 L317.19,228.84 L317.20,229.82 L317.20,230.79 L317.20,231.72 L317.18,232.60 L317.16,233.44 L317.13,234.21 L317.08,234.92 L317.02,235.54 L316.96,236.09 L316.88,236.54 L316.79,236.89 L316.68,237.15 L316.56,237.31 L316.38,237.36 L316.38,237.36 L316.20,237.31 L316.08,237.15 L315.97,236.89 L315.88,236.54 L315.80,236.09 L315.74,235.54 L315.68,234.92 L315.63,234.21 L315.60,233.44 L315.58,232.60 L315.56,231.72 L315.56,230.79 L315.56,229.82 L315.57,228.84 L315.58,227.85 L315.59,226.85 L315.61,225.87 L315.63,224.91 L315.66,223.98 L315.69,223.09 L315.73,222.26 L315.77,221.48 L315.82,220.78 L315.87,220.15 L315.94,219.61 L316.00,219.16 L316.07,218.80 L316.15,218.54 L316.25,218.39 L316.38,218.33Z" fill="#000" fill-opacity="0.404" stroke="#222" stroke-width="0.3" stroke-opacity="0.0"/>
<path d="M316.34,220.92 L316.47,220.96 L316.57,221.07 L316.65,221.27 L316.72,221.54 L316.78,221.88 L316.85,222.29 L316.90,222.77 L316.95,223.30 L316.99,223.89 L317.03,224.52 L317.06,225.19 L317.09,225.90 L317.11,226.63 L317.13,227.37 L317.14,228.13 L317.15,228.88 L317.16,229.63 L317.16,230.35 L317.16,231.06 L317.14,231.73 L317.12,232.36 L317.09,232.95 L317.04,233.48 L316.98,233.96 L316.92,234.37 L316.84,234.71 L316.75,234.98 L316.64,235.18 L316.52,235.30 L316.34,235.34 L316.34,235.34 L316.16,235.30 L316.04,235.18 L315.93,234.98 L315.84,234.71 L315.76,234.37 L315.70,233.96 L315.64,233.48 L315.59,232.95 L315.56,232.36 L315.54,231.73 L315.52,231.06 L315.52,230.35 L315.52,229.63 L315.53,228.88 L315.54,228.13 L315.55,227.37 L315.57,226.63 L315.59,225.90 L315.62,225.19 L315.65,224.52 L315.69,223.89 L315.73,223.30 L315.78,222.77 L315.83,222.29 L315.90,221.88 L315.96,221.54 L316.03,221.27 L316.11,221.07 L316.21,220.96 L316.34,220.92Z" fill="#000" fill-opacity="0.679" stroke="#222" stroke-width="0.3" stroke-opacity="0.0"/>
<path d="M338.90,223.30 L339.31,223.40 L339.61,223.71 L339.88,224.21 L340.13,224.91 L340.38,225.80 L340.62,226.86 L340.86,228.09 L341.09,229.47 L341.32,230.99 L341.54,232.62 L341.74,234.36 L341.94,236.19 L342.12,238.07 L342.28,240.00 L342.43,241.95 L342.58,243.90 L342.70,245.83 L342.80,247.71 L342.85,249.54 L342.85,251.28 L342.80,252.91 L342.69,254.43 L342.51,255.81 L342.26,257.04 L341.94,258.10 L341.54,258.99 L341.07,259.69 L340.52,260.19 L339.86,260.50 L338.90,260.60 L338.90,260.60 L337.94,260.50 L337.28,260.19 L336.73,259.69 L336.26,258.99 L335.86,258.10 L335.54,257.04 L335.29,255.81 L335.11,254.43 L335.00,252.91 L334.95,251.28 L334.95,249.54 L335.00,247.71 L335.10,245.83 L335.22,243.90 L335.37,241.95 L335.52,240.00 L335.68,238.07 L335.86,236.19 L336.06,234.36 L336.26,232.62 L336.48,230.99 L336.71,229.47 L336.94,228.09 L337.18,226.86 L337.42,225.80 L337.67,224.91 L337.92,224.21 L338.19,223.71 L338.49,223.40 L338.90,223.30Z" fill="none" stroke="#555" stroke-width="0.42" stroke-opacity="0.75"/>
<path d="M338.84,225.22 L339.20,225.31 L339.46,225.60 L339.69,226.07 L339.91,226.73 L340.13,227.56 L340.34,228.55 L340.55,229.70 L340.75,230.99 L340.95,232.41 L341.14,233.94 L341.33,235.57 L341.50,237.27 L341.65,239.04 L341.80,240.84 L341.93,242.66 L342.05,244.49 L342.16,246.29 L342.25,248.05 L342.29,249.76 L342.30,251.39 L342.25,252.92 L342.15,254.34 L342.00,255.63 L341.78,256.78 L341.50,257.77 L341.15,258.60 L340.74,259.26 L340.25,259.73 L339.68,260.01 L338.84,260.11 L338.84,260.11 L338.00,260.01 L337.42,259.73 L336.94,259.26 L336.52,258.60 L336.18,257.77 L335.90,256.78 L335.68,255.63 L335.52,254.34 L335.42,252.92 L335.38,251.39 L335.38,249.76 L335.43,248.05 L335.51,246.29 L335.62,244.49 L335.75,242.66 L335.88,240.84 L336.02,239.04 L336.18,237.27 L336.35,235.57 L336.53,233.94 L336.72,232.41 L336.92,230.99 L337.13,229.70 L337.34,228.55 L337.55,227.56 L337.76,226.73 L337.98,226.07 L338.22,225.60 L338.48,225.31 L338.84,225.22Z" fill="none" stroke="#555" stroke-width="0.42" stroke-opacity="0.75"/>
<path d="M338.77,227.28 L339.09,227.37 L339.31,227.63 L339.51,228.07 L339.70,228.68 L339.88,229.44 L340.06,230.36 L340.24,231.43 L340.42,232.62 L340.59,233.94 L340.75,235.35 L340.91,236.86 L341.05,238.44 L341.19,240.07 L341.31,241.74 L341.42,243.43 L341.53,245.12 L341.63,246.79 L341.70,248.42 L341.74,250.00 L341.74,251.51 L341.70,252.92 L341.62,254.24 L341.48,255.43 L341.29,256.50 L341.05,257.42 L340.76,258.19 L340.40,258.79 L339.99,259.23 L339.50,259.49 L338.77,259.58 L338.77,259.58 L338.05,259.49 L337.56,259.23 L337.15,258.79 L336.79,258.19 L336.50,257.42 L336.26,256.50 L336.07,255.43 L335.93,254.24 L335.85,252.92 L335.81,251.51 L335.81,250.00 L335.85,248.42 L335.92,246.79 L336.02,245.12 L336.13,243.43 L336.24,241.74 L336.36,240.07 L336.50,238.44 L336.64,236.86 L336.80,235.35 L336.96,233.94 L337.13,232.62 L337.31,231.43 L337.49,230.36 L337.67,229.44 L337.85,228.68 L338.04,228.07 L338.24,227.63 L338.46,227.37 L338.77,227.28Z" fill="#000" fill-opacity="0.107" stroke="#222" stroke-width="0.3" stroke-opacity="0.0"/>
<path d="M338.73,228.76 L339.01,228.84 L339.21,229.09 L339.38,229.50 L339.55,230.07 L339.72,230.80 L339.88,231.66 L340.04,232.67 L340.19,233.79 L340.34,235.03 L340.49,236.37 L340.63,237.79 L340.76,239.28 L340.88,240.82 L340.99,242.39 L341.09,243.98 L341.18,245.57 L341.27,247.15 L341.33,248.68 L341.36,250.17 L341.37,251.59 L341.33,252.93 L341.26,254.17 L341.14,255.29 L340.97,256.30 L340.76,257.16 L340.49,257.89 L340.18,258.46 L339.81,258.87 L339.37,259.12 L338.73,259.20 L338.73,259.20 L338.09,259.12 L337.65,258.87 L337.29,258.46 L336.97,257.89 L336.71,257.16 L336.49,256.30 L336.33,255.29 L336.21,254.17 L336.13,252.93 L336.10,251.59 L336.10,250.17 L336.14,248.68 L336.20,247.15 L336.28,245.57 L336.38,243.98 L336.48,242.39 L336.59,240.82 L336.71,239.28 L336.84,237.79 L336.98,236.37 L337.12,235.03 L337.27,233.79 L337.43,232.67 L337.59,231.66 L337.75,230.80 L337.91,230.07 L338.08,229.50 L338.26,229.09 L338.46,228.84 L338.73,228.76Z" fill="#000" fill-opacity="0.119" stroke="#222" stroke-width="0.3" stroke-opacity="0.0"/>
<path d="M338.69,230.33 L338.93,230.41 L339.10,230.64 L339.26,231.03 L339.41,231.56 L339.55,232.24 L339.69,233.05 L339.83,233.99 L339.97,235.04 L340.10,236.20 L340.23,237.45 L340.35,238.78 L340.46,240.17 L340.57,241.61 L340.66,243.08 L340.75,244.57 L340.83,246.05 L340.91,247.53 L340.96,248.96 L340.99,250.36 L340.99,251.68 L340.96,252.93 L340.90,254.09 L340.79,255.14 L340.65,256.08 L340.46,256.89 L340.23,257.57 L339.96,258.10 L339.63,258.49 L339.25,258.72 L338.69,258.80 L338.69,258.80 L338.13,258.72 L337.75,258.49 L337.43,258.10 L337.15,257.57 L336.92,256.89 L336.73,256.08 L336.59,255.14 L336.48,254.09 L336.42,252.93 L336.39,251.68 L336.39,250.36 L336.42,248.96 L336.48,247.53 L336.55,246.05 L336.63,244.57 L336.72,243.08 L336.82,241.61 L336.92,240.17 L337.03,238.78 L337.16,237.45 L337.28,236.20 L337.42,235.04 L337.55,233.99 L337.69,233.05 L337.83,232.24 L337.98,231.56 L338.12,231.03 L338.28,230.64 L338.45,230.41 L338.69,230.33Z" fill="#000" fill-opacity="0.136" stroke="#222" stroke-width="0.3" stroke-opacity="0.0"/>
<path d="M338.65,232.03 L338.86,232.10 L339.00,232.31 L339.14,232.67 L339.26,233.16 L339.39,233.79 L339.51,234.54 L339.62,235.41 L339.74,236.38 L339.85,237.45 L339.96,238.61 L340.07,239.84 L340.16,241.13 L340.25,242.46 L340.34,243.82 L340.41,245.20 L340.48,246.57 L340.55,247.93 L340.59,249.27 L340.62,250.55 L340.62,251.78 L340.60,252.94 L340.54,254.01 L340.45,254.98 L340.33,255.85 L340.16,256.60 L339.97,257.23 L339.73,257.72 L339.46,258.08 L339.13,258.30 L338.65,258.37 L338.65,258.37 L338.17,258.30 L337.84,258.08 L337.57,257.72 L337.33,257.23 L337.13,256.60 L336.97,255.85 L336.85,254.98 L336.76,254.01 L336.70,252.94 L336.68,251.78 L336.68,250.55 L336.71,249.27 L336.75,247.93 L336.82,246.57 L336.89,245.20 L336.96,243.82 L337.04,242.46 L337.13,241.13 L337.23,239.84 L337.33,238.61 L337.44,237.45 L337.56,236.38 L337.67,235.41 L337.79,234.54 L337.91,233.79 L338.04,233.16 L338.16,232.67 L338.30,232.31 L338.44,232.10 L338.65,232.03Z" fill="#000" fill-opacity="0.157" stroke="#222" stroke-width="0.3" stroke-opacity="0.0"/>
<path d="M338.61,233.87 L338.78,233.93 L338.90,234.13 L339.01,234.46 L339.12,234.91 L339.22,235.48 L339.32,236.16 L339.42,236.95 L339.52,237.84 L339.61,238.82 L339.70,239.87 L339.79,240.99 L339.87,242.17 L339.94,243.38 L340.01,244.63 L340.07,245.88 L340.13,247.14 L340.18,248.38 L340.22,249.59 L340.25,250.77 L340.25,251.89 L340.23,252.94 L340.18,253.92 L340.11,254.81 L340.00,255.60 L339.87,256.29 L339.70,256.86 L339.51,257.31 L339.28,257.63 L339.01,257.83 L338.61,257.90 L338.61,257.90 L338.21,257.83 L337.94,257.63 L337.71,257.31 L337.51,256.86 L337.35,256.29 L337.21,255.60 L337.11,254.81 L337.03,253.92 L336.99,252.94 L336.97,251.89 L336.97,250.77 L336.99,249.59 L337.03,248.38 L337.08,247.14 L337.14,245.88 L337.20,244.63 L337.27,243.38 L337.35,242.17 L337.43,240.99 L337.51,239.87 L337.60,238.82 L337.70,237.84 L337.80,236.95 L337.89,236.16 L338.00,235.48 L338.10,234.91 L338.20,234.46 L338.31,234.13 L338.44,233.93 L338.61,233.87Z" fill="#000" fill-opacity="0.186" stroke="#222" stroke-width="0.3" stroke-opacity="0.0"/>
<path d="M338.57,235.91 L338.70,235.97 L338.80,236.14 L338.89,236.43 L338.97,236.83 L339.05,237.34 L339.13,237.96 L339.21,238.66 L339.29,239.46 L339.37,240.33 L339.44,241.27 L339.51,242.27 L339.57,243.32 L339.63,244.41 L339.69,245.52 L339.74,246.64 L339.78,247.76 L339.82,248.87 L339.86,249.96 L339.87,251.01 L339.88,252.01 L339.86,252.95 L339.82,253.82 L339.76,254.62 L339.68,255.32 L339.57,255.94 L339.44,256.45 L339.29,256.85 L339.10,257.14 L338.88,257.32 L338.57,257.37 L338.57,257.37 L338.25,257.32 L338.03,257.14 L337.85,256.85 L337.69,256.45 L337.56,255.94 L337.45,255.32 L337.37,254.62 L337.31,253.82 L337.27,252.95 L337.26,252.01 L337.26,251.01 L337.28,249.96 L337.31,248.87 L337.35,247.76 L337.40,246.64 L337.45,245.52 L337.50,244.41 L337.56,243.32 L337.62,242.27 L337.69,241.27 L337.76,240.33 L337.84,239.46 L337.92,238.66 L338.00,237.96 L338.08,237.34 L338.16,236.83 L338.24,236.43 L338.33,236.14 L338.43,235.97 L338.57,235.91Z" fill="#000" fill-opacity="0.229" stroke="#222" stroke-width="0.3" stroke-opacity="0.0"/>
<path d="M338.52,238.22 L338.63,238.28 L338.70,238.43 L338.77,238.68 L338.83,239.03 L338.89,239.47 L338.95,240.00 L339.01,240.61 L339.07,241.29 L339.12,242.05 L339.18,242.86 L339.23,243.73 L339.28,244.64 L339.32,245.57 L339.36,246.53 L339.40,247.50 L339.43,248.47 L339.46,249.43 L339.49,250.37 L339.50,251.28 L339.50,252.14 L339.49,252.96 L339.46,253.71 L339.42,254.40 L339.36,255.01 L339.28,255.54 L339.18,255.98 L339.06,256.33 L338.92,256.58 L338.76,256.73 L338.52,256.78 L338.52,256.78 L338.29,256.73 L338.12,256.58 L337.99,256.33 L337.87,255.98 L337.77,255.54 L337.69,255.01 L337.63,254.40 L337.59,253.71 L337.56,252.96 L337.54,252.14 L337.55,251.28 L337.56,250.37 L337.58,249.43 L337.61,248.47 L337.65,247.50 L337.69,246.53 L337.73,245.57 L337.77,244.64 L337.82,243.73 L337.87,242.86 L337.93,242.05 L337.98,241.29 L338.04,240.61 L338.10,240.00 L338.16,239.47 L338.22,239.03 L338.28,238.68 L338.35,238.43 L338.42,238.28 L338.52,238.22Z" fill="#000" fill-opacity="0.296" stroke="#222" stroke-width="0.3" stroke-opacity="0.0"/>
<path d="M338.48,240.98 L338.56,241.02 L338.61,241.15 L338.66,241.35 L338.71,241.63 L338.76,241.99 L338.80,242.42 L338.85,242.92 L338.89,243.48 L338.93,244.09 L338.97,244.76 L339.01,245.46 L339.05,246.20 L339.08,246.96 L339.11,247.74 L339.14,248.53 L339.17,249.32 L339.19,250.10 L339.21,250.86 L339.22,251.60 L339.22,252.30 L339.21,252.96 L339.19,253.58 L339.15,254.14 L339.11,254.63 L339.05,255.06 L338.97,255.42 L338.89,255.71 L338.78,255.91 L338.66,256.03 L338.48,256.08 L338.48,256.08 L338.30,256.03 L338.18,255.91 L338.08,255.71 L337.99,255.42 L337.92,255.06 L337.86,254.63 L337.81,254.14 L337.78,253.58 L337.76,252.96 L337.75,252.30 L337.75,251.60 L337.76,250.86 L337.77,250.10 L337.80,249.32 L337.82,248.53 L337.85,247.74 L337.88,246.96 L337.92,246.20 L337.95,245.46 L337.99,244.76 L338.03,244.09 L338.07,243.48 L338.12,242.92 L338.16,242.42 L338.21,241.99 L338.25,241.63 L338.30,241.35 L338.35,241.15 L338.40,241.02 L338.48,240.98Z" fill="#000" fill-opacity="0.421" stroke="#222" stroke-width="0.3" stroke-opacity="0.0"/>
<path d="M338.44,244.60 L338.52,244.63 L338.57,244.71 L338.62,244.86 L338.67,245.06 L338.71,245.31 L338.76,245.61 L338.80,245.95 L338.85,246.34 L338.89,246.77 L338.93,247.24 L338.97,247.73 L339.01,248.24 L339.04,248.78 L339.07,249.32 L339.10,249.87 L339.12,250.43 L339.15,250.97 L339.16,251.50 L339.17,252.02 L339.18,252.51 L339.17,252.98 L339.15,253.40 L339.11,253.79 L339.07,254.14 L339.01,254.44 L338.93,254.69 L338.84,254.89 L338.74,255.03 L338.62,255.12 L338.44,255.15 L338.44,255.15 L338.26,255.12 L338.14,255.03 L338.04,254.89 L337.95,254.69 L337.87,254.44 L337.81,254.14 L337.77,253.79 L337.73,253.40 L337.71,252.98 L337.70,252.51 L337.71,252.02 L337.72,251.50 L337.73,250.97 L337.76,250.43 L337.78,249.87 L337.81,249.32 L337.84,248.78 L337.87,248.24 L337.91,247.73 L337.95,247.24 L337.99,246.77 L338.03,246.34 L338.08,245.95 L338.12,245.61 L338.17,245.31 L338.21,245.06 L338.26,244.86 L338.31,244.71 L338.36,244.63 L338.44,244.60Z" fill="#000" fill-opacity="0.727" stroke="#222" stroke-width="0.3" stroke-opacity="0.0"/>
<path d="M360.40,234.40 L360.78,234.48 L361.04,234.71 L361.28,235.10 L361.51,235.64 L361.74,236.33 L361.96,237.15 L362.17,238.10 L362.39,239.16 L362.59,240.34 L362.79,241.60 L362.98,242.94 L363.16,244.35 L363.32,245.81 L363.47,247.29 L363.60,248.80 L363.73,250.31 L363.85,251.79 L363.93,253.25 L363.98,254.66 L363.99,256.00 L363.94,257.26 L363.84,258.44 L363.67,259.50 L363.45,260.45 L363.16,261.27 L362.80,261.96 L362.37,262.50 L361.87,262.89 L361.27,263.12 L360.40,263.20 L360.40,263.20 L359.53,263.12 L358.93,262.89 L358.43,262.50 L358.00,261.96 L357.64,261.27 L357.35,260.45 L357.13,259.50 L356.96,258.44 L356.86,257.26 L356.81,256.00 L356.82,254.66 L356.87,253.25 L356.95,251.79 L357.07,250.31 L357.20,248.80 L357.33,247.29 L357.48,245.81 L357.64,244.35 L357.82,242.94 L358.01,241.60 L358.21,240.34 L358.41,239.16 L358.63,238.10 L358.84,237.15 L359.06,236.33 L359.29,235.64 L359.52,235.10 L359.76,234.71 L360.02,234.48 L360.40,234.40Z" fill="none" stroke="#555" stroke-width="0.42" stroke-opacity="0.75"/>
<path d="M360.35,235.92 L360.68,236.00 L360.91,236.22 L361.12,236.58 L361.33,237.09 L361.52,237.73 L361.71,238.50 L361.90,239.38 L362.09,240.38 L362.27,241.48 L362.44,242.66 L362.61,243.92 L362.76,245.23 L362.90,246.59 L363.03,247.99 L363.15,249.39 L363.27,250.80 L363.37,252.19 L363.44,253.56 L363.48,254.87 L363.49,256.13 L363.45,257.31 L363.36,258.41 L363.21,259.40 L363.02,260.29 L362.76,261.06 L362.45,261.70 L362.07,262.20 L361.64,262.57 L361.11,262.79 L360.35,262.86 L360.35,262.86 L359.59,262.79 L359.06,262.57 L358.63,262.20 L358.25,261.70 L357.94,261.06 L357.68,260.29 L357.49,259.40 L357.34,258.41 L357.25,257.31 L357.21,256.13 L357.22,254.87 L357.26,253.56 L357.33,252.19 L357.43,250.80 L357.55,249.39 L357.67,247.99 L357.80,246.59 L357.94,245.23 L358.09,243.92 L358.26,242.66 L358.43,241.48 L358.61,240.38 L358.80,239.38 L358.99,238.50 L359.18,237.73 L359.37,237.09 L359.58,236.58 L359.79,236.22 L360.02,236.00 L360.35,235.92Z" fill="none" stroke="#555" stroke-width="0.42" stroke-opacity="0.75"/>
<path d="M360.30,237.56 L360.58,237.63 L360.78,237.83 L360.96,238.17 L361.14,238.64 L361.30,239.23 L361.47,239.94 L361.63,240.76 L361.79,241.69 L361.94,242.70 L362.09,243.80 L362.23,244.96 L362.37,246.18 L362.49,247.44 L362.60,248.73 L362.70,250.03 L362.80,251.34 L362.89,252.63 L362.95,253.89 L362.99,255.10 L362.99,256.27 L362.96,257.36 L362.88,258.38 L362.76,259.30 L362.59,260.12 L362.37,260.83 L362.10,261.43 L361.78,261.89 L361.40,262.23 L360.95,262.44 L360.30,262.50 L360.30,262.50 L359.65,262.44 L359.20,262.23 L358.82,261.89 L358.50,261.43 L358.23,260.83 L358.01,260.12 L357.84,259.30 L357.72,258.38 L357.64,257.36 L357.61,256.27 L357.61,255.10 L357.65,253.89 L357.71,252.63 L357.80,251.34 L357.90,250.03 L358.00,248.73 L358.11,247.44 L358.23,246.18 L358.37,244.96 L358.51,243.80 L358.66,242.70 L358.81,241.69 L358.97,240.76 L359.13,239.94 L359.30,239.23 L359.46,238.64 L359.64,238.17 L359.82,237.83 L360.02,237.63 L360.30,237.56Z" fill="#000" fill-opacity="0.120" stroke="#222" stroke-width="0.3" stroke-opacity="0.0"/>
<path d="M360.26,238.91 L360.51,238.97 L360.68,239.16 L360.84,239.48 L360.99,239.92 L361.14,240.47 L361.28,241.13 L361.42,241.90 L361.56,242.76 L361.70,243.71 L361.83,244.73 L361.95,245.82 L362.06,246.96 L362.17,248.14 L362.27,249.34 L362.36,250.56 L362.44,251.78 L362.52,252.98 L362.57,254.16 L362.61,255.30 L362.61,256.38 L362.58,257.40 L362.51,258.35 L362.40,259.21 L362.26,259.98 L362.06,260.65 L361.83,261.20 L361.55,261.64 L361.22,261.95 L360.83,262.14 L360.26,262.21 L360.26,262.21 L359.69,262.14 L359.30,261.95 L358.97,261.64 L358.69,261.20 L358.46,260.65 L358.27,259.98 L358.12,259.21 L358.01,258.35 L357.95,257.40 L357.91,256.38 L357.92,255.30 L357.95,254.16 L358.01,252.98 L358.08,251.78 L358.17,250.56 L358.26,249.34 L358.35,248.14 L358.46,246.96 L358.57,245.82 L358.70,244.73 L358.83,243.71 L358.96,242.76 L359.10,241.90 L359.24,241.13 L359.39,240.47 L359.53,239.92 L359.68,239.48 L359.84,239.16 L360.02,238.97 L360.26,238.91Z" fill="#000" fill-opacity="0.136" stroke="#222" stroke-width="0.3" stroke-opacity="0.0"/>
<path d="M360.22,240.36 L360.43,240.42 L360.58,240.60 L360.72,240.89 L360.85,241.29 L360.97,241.80 L361.09,242.42 L361.21,243.13 L361.33,243.92 L361.45,244.80 L361.56,245.74 L361.66,246.75 L361.76,247.80 L361.85,248.89 L361.94,250.00 L362.01,251.12 L362.09,252.25 L362.15,253.36 L362.20,254.45 L362.22,255.50 L362.23,256.51 L362.20,257.45 L362.14,258.33 L362.05,259.12 L361.93,259.83 L361.76,260.44 L361.56,260.96 L361.32,261.36 L361.04,261.65 L360.71,261.83 L360.22,261.89 L360.22,261.89 L359.74,261.83 L359.40,261.65 L359.12,261.36 L358.88,260.96 L358.68,260.44 L358.52,259.83 L358.39,259.12 L358.30,258.33 L358.25,257.45 L358.22,256.51 L358.22,255.50 L358.25,254.45 L358.30,253.36 L358.36,252.25 L358.43,251.12 L358.51,250.00 L358.59,248.89 L358.68,247.80 L358.78,246.75 L358.89,245.74 L359.00,244.80 L359.11,243.92 L359.23,243.13 L359.35,242.42 L359.48,241.80 L359.60,241.29 L359.73,240.89 L359.86,240.60 L360.01,240.42 L360.22,240.36Z" fill="#000" fill-opacity="0.158" stroke="#222" stroke-width="0.3" stroke-opacity="0.0"/>
<path d="M360.19,241.94 L360.36,242.00 L360.48,242.16 L360.59,242.42 L360.70,242.79 L360.80,243.26 L360.91,243.82 L361.01,244.46 L361.10,245.19 L361.20,245.98 L361.29,246.84 L361.38,247.76 L361.46,248.71 L361.54,249.70 L361.60,250.72 L361.67,251.74 L361.73,252.76 L361.78,253.78 L361.82,254.77 L361.84,255.73 L361.85,256.64 L361.82,257.50 L361.78,258.30 L361.70,259.02 L361.60,259.67 L361.46,260.23 L361.30,260.69 L361.10,261.06 L360.87,261.32 L360.59,261.48 L360.19,261.54 L360.19,261.54 L359.78,261.48 L359.51,261.32 L359.27,261.06 L359.08,260.69 L358.91,260.23 L358.77,259.67 L358.67,259.02 L358.59,258.30 L358.55,257.50 L358.52,256.64 L358.53,255.73 L358.55,254.77 L358.59,253.78 L358.64,252.76 L358.70,251.74 L358.77,250.72 L358.83,249.70 L358.91,248.71 L358.99,247.76 L359.08,246.84 L359.17,245.98 L359.27,245.19 L359.36,244.46 L359.46,243.82 L359.57,243.26 L359.67,242.79 L359.78,242.42 L359.89,242.16 L360.01,242.00 L360.19,241.94Z" fill="#000" fill-opacity="0.188" stroke="#222" stroke-width="0.3" stroke-opacity="0.0"/>
<path d="M360.15,243.70 L360.28,243.75 L360.38,243.89 L360.47,244.13 L360.56,244.45 L360.64,244.87 L360.72,245.37 L360.80,245.94 L360.88,246.59 L360.95,247.30 L361.02,248.06 L361.09,248.88 L361.16,249.73 L361.22,250.61 L361.27,251.51 L361.32,252.43 L361.37,253.34 L361.41,254.24 L361.44,255.12 L361.46,255.97 L361.46,256.79 L361.45,257.55 L361.41,258.26 L361.35,258.91 L361.27,259.48 L361.16,259.98 L361.03,260.40 L360.87,260.72 L360.69,260.96 L360.47,261.10 L360.15,261.15 L360.15,261.15 L359.83,261.10 L359.61,260.96 L359.42,260.72 L359.27,260.40 L359.14,259.98 L359.03,259.48 L358.94,258.91 L358.88,258.26 L358.85,257.55 L358.83,256.79 L358.83,255.97 L358.85,255.12 L358.88,254.24 L358.92,253.34 L358.97,252.43 L359.02,251.51 L359.08,250.61 L359.14,249.73 L359.20,248.88 L359.27,248.06 L359.34,247.30 L359.42,246.59 L359.50,245.94 L359.58,245.37 L359.66,244.87 L359.74,244.45 L359.82,244.13 L359.91,243.89 L360.01,243.75 L360.15,243.70Z" fill="#000" fill-opacity="0.231" stroke="#222" stroke-width="0.3" stroke-opacity="0.0"/>
<path d="M360.11,245.70 L360.21,245.75 L360.28,245.87 L360.35,246.07 L360.41,246.35 L360.47,246.71 L360.53,247.14 L360.59,247.63 L360.65,248.19 L360.70,248.80 L360.76,249.46 L360.81,250.16 L360.86,250.89 L360.90,251.65 L360.94,252.42 L360.98,253.21 L361.01,253.99 L361.04,254.77 L361.07,255.53 L361.08,256.26 L361.08,256.96 L361.07,257.62 L361.04,258.23 L361.00,258.78 L360.94,259.28 L360.86,259.70 L360.76,260.06 L360.64,260.34 L360.51,260.55 L360.35,260.67 L360.11,260.71 L360.11,260.71 L359.87,260.67 L359.71,260.55 L359.57,260.34 L359.46,260.06 L359.36,259.70 L359.28,259.28 L359.22,258.78 L359.18,258.23 L359.15,257.62 L359.14,256.96 L359.14,256.26 L359.15,255.53 L359.17,254.77 L359.20,253.99 L359.24,253.21 L359.28,252.42 L359.32,251.65 L359.36,250.89 L359.41,250.16 L359.46,249.46 L359.51,248.80 L359.57,248.19 L359.63,247.63 L359.69,247.14 L359.75,246.71 L359.81,246.35 L359.87,246.07 L359.93,245.87 L360.01,245.75 L360.11,245.70Z" fill="#000" fill-opacity="0.300" stroke="#222" stroke-width="0.3" stroke-opacity="0.0"/>
<path d="M360.07,248.11 L360.15,248.14 L360.20,248.24 L360.25,248.40 L360.30,248.63 L360.34,248.92 L360.39,249.26 L360.43,249.66 L360.48,250.10 L360.52,250.60 L360.56,251.13 L360.60,251.69 L360.64,252.28 L360.67,252.89 L360.70,253.51 L360.73,254.14 L360.75,254.77 L360.78,255.40 L360.80,256.01 L360.81,256.60 L360.81,257.16 L360.80,257.69 L360.78,258.18 L360.74,258.63 L360.70,259.03 L360.64,259.37 L360.56,259.66 L360.47,259.88 L360.37,260.05 L360.25,260.15 L360.07,260.18 L360.07,260.18 L359.89,260.15 L359.77,260.05 L359.67,259.88 L359.58,259.66 L359.50,259.37 L359.45,259.03 L359.40,258.63 L359.37,258.18 L359.34,257.69 L359.33,257.16 L359.34,256.60 L359.35,256.01 L359.36,255.40 L359.39,254.77 L359.41,254.14 L359.44,253.51 L359.47,252.89 L359.50,252.28 L359.54,251.69 L359.58,251.13 L359.62,250.60 L359.66,250.10 L359.71,249.66 L359.75,249.26 L359.80,248.92 L359.84,248.63 L359.89,248.40 L359.94,248.24 L359.99,248.14 L360.07,248.11Z" fill="#000" fill-opacity="0.429" stroke="#222" stroke-width="0.3" stroke-opacity="0.0"/>
<path d="M360.03,251.32 L360.11,251.35 L360.16,251.41 L360.21,251.52 L360.26,251.68 L360.31,251.87 L360.35,252.10 L360.40,252.37 L360.44,252.67 L360.48,253.00 L360.52,253.36 L360.56,253.74 L360.60,254.14 L360.63,254.55 L360.66,254.97 L360.69,255.40 L360.72,255.82 L360.74,256.24 L360.76,256.66 L360.77,257.05 L360.77,257.43 L360.76,257.79 L360.74,258.12 L360.70,258.42 L360.66,258.69 L360.60,258.93 L360.52,259.12 L360.44,259.27 L360.33,259.38 L360.21,259.45 L360.03,259.47 L360.03,259.47 L359.85,259.45 L359.73,259.38 L359.63,259.27 L359.54,259.12 L359.47,258.93 L359.41,258.69 L359.36,258.42 L359.33,258.12 L359.31,257.79 L359.30,257.43 L359.30,257.05 L359.31,256.66 L359.32,256.24 L359.35,255.82 L359.37,255.40 L359.40,254.97 L359.43,254.55 L359.47,254.14 L359.50,253.74 L359.54,253.36 L359.58,253.00 L359.62,252.67 L359.67,252.37 L359.71,252.10 L359.76,251.87 L359.80,251.68 L359.85,251.52 L359.90,251.41 L359.95,251.35 L360.03,251.32Z" fill="#000" fill-opacity="0.750" stroke="#222" stroke-width="0.3" stroke-opacity="0.0"/>
</g>
<rect x="177.5" y="184" width="97.89999999999998" height="99" fill="none" stroke="#999" stroke-width="0.9"/>
<rect x="277.6" y="184" width="98.79999999999995" height="99" fill="none" stroke="#999" stroke-width="0.9"/>
<rect x="184.2" y="184" width="20.80000000000001" height="52.7" fill="none" stroke="#aaa" stroke-width="0.6"/>
<rect x="206.2" y="184" width="20.80000000000001" height="52.7" fill="none" stroke="#aaa" stroke-width="0.6"/>
<rect x="228.6" y="184" width="21.0" height="52.7" fill="none" stroke="#aaa" stroke-width="0.6"/>
<rect x="252.4" y="184" width="20.799999999999983" height="52.7" fill="none" stroke="#aaa" stroke-width="0.6"/>
<rect x="284.4" y="184" width="20.200000000000045" height="52.7" fill="none" stroke="#aaa" stroke-width="0.6"/>
<rect x="306.5" y="184" width="20.100000000000023" height="52.7" fill="none" stroke="#aaa" stroke-width="0.6"/>
<rect x="328.9" y="184" width="20.80000000000001" height="52.7" fill="none" stroke="#aaa" stroke-width="0.6"/>
<rect x="351.3" y="184" width="20.30000000000001" height="52.7" fill="none" stroke="#aaa" stroke-width="0.6"/>
<line x1="176.6" y1="184" x2="176.6" y2="283" stroke="#888" stroke-width="0.8" />
<text x="171.5" y="199.8" font-size="6.9" text-anchor="end" font-weight="normal" fill="#222"  stroke="#222" stroke-width="0.18">10<tspan font-size="5" dy="-2.7">5</tspan></text>
<line x1="174.5" y1="197.4" x2="177" y2="197.4" stroke="#222" stroke-width="0.9" />
<text x="171.5" y="221.4" font-size="6.9" text-anchor="end" font-weight="normal" fill="#222"  stroke="#222" stroke-width="0.18">10<tspan font-size="5" dy="-2.7">4</tspan></text>
<line x1="174.5" y1="219.0" x2="177" y2="219.0" stroke="#222" stroke-width="0.9" />
<text x="171.5" y="247.4" font-size="6.9" text-anchor="end" font-weight="normal" fill="#222"  stroke="#222" stroke-width="0.18">10<tspan font-size="5" dy="-2.7">3</tspan></text>
<line x1="174.5" y1="245.0" x2="177" y2="245.0" stroke="#222" stroke-width="0.9" />
<text x="171.5" y="263.4" font-size="6.9" text-anchor="end" font-weight="normal" fill="#222"  stroke="#222" stroke-width="0.18">0</text>
<line x1="174.5" y1="261" x2="177" y2="261" stroke="#222" stroke-width="0.9" />
<text x="171.5" y="280.79999999999995" font-size="6.9" text-anchor="end" font-weight="normal" fill="#222"  stroke="#222" stroke-width="0.18">10<tspan font-size="5" dy="-2.7">3</tspan></text>
<line x1="174.5" y1="278.4" x2="177" y2="278.4" stroke="#222" stroke-width="0.9" />
<line x1="175.6" y1="212.497752093658" x2="177" y2="212.497752093658" stroke="#555" stroke-width="0.6" />
<line x1="175.6" y1="208.6941808980553" x2="177" y2="208.6941808980553" stroke="#555" stroke-width="0.6" />
<line x1="175.6" y1="205.99550418731602" x2="177" y2="205.99550418731602" stroke="#555" stroke-width="0.6" />
<line x1="175.6" y1="203.90224790634198" x2="177" y2="203.90224790634198" stroke="#555" stroke-width="0.6" />
<line x1="175.6" y1="202.19193299171332" x2="177" y2="202.19193299171332" stroke="#555" stroke-width="0.6" />
<line x1="175.6" y1="200.74588233569204" x2="177" y2="200.74588233569204" stroke="#555" stroke-width="0.6" />
<line x1="175.6" y1="199.49325628097404" x2="177" y2="199.49325628097404" stroke="#555" stroke-width="0.6" />
<line x1="175.6" y1="198.3883617961106" x2="177" y2="198.3883617961106" stroke="#555" stroke-width="0.6" />
<line x1="175.6" y1="237.1732201127365" x2="177" y2="237.1732201127365" stroke="#555" stroke-width="0.6" />
<line x1="175.6" y1="232.59484737728877" x2="177" y2="232.59484737728877" stroke="#555" stroke-width="0.6" />
<line x1="175.6" y1="229.34644022547297" x2="177" y2="229.34644022547297" stroke="#555" stroke-width="0.6" />
<line x1="175.6" y1="226.8267798872635" x2="177" y2="226.8267798872635" stroke="#555" stroke-width="0.6" />
<line x1="175.6" y1="224.76806749002526" x2="177" y2="224.76806749002526" stroke="#555" stroke-width="0.6" />
<line x1="175.6" y1="223.02745095962933" x2="177" y2="223.02745095962933" stroke="#555" stroke-width="0.6" />
<line x1="175.6" y1="221.51966033820946" x2="177" y2="221.51966033820946" stroke="#555" stroke-width="0.6" />
<line x1="175.6" y1="220.18969475457754" x2="177" y2="220.18969475457754" stroke="#555" stroke-width="0.6" />
<line x1="175.8" y1="260.5" x2="175.8" y2="264" stroke="#000" stroke-width="1.6" />
<text transform="translate(154.8,233.3) rotate(-90)" font-size="8.6" text-anchor="middle" textLength="15" lengthAdjust="spacingAndGlyphs" fill="#111" stroke="#111" stroke-width="0.25">CFSE</text>
<text x="195.4" y="178.7" font-size="6.6" text-anchor="middle" font-weight="normal" fill="#222"  stroke="#222" stroke-width="0.18">100</text>
<text x="217.7" y="178.7" font-size="6.6" text-anchor="middle" font-weight="normal" fill="#222"  stroke="#222" stroke-width="0.18">97</text>
<text x="241.3" y="178.7" font-size="6.6" text-anchor="middle" font-weight="normal" fill="#222"  stroke="#222" stroke-width="0.18">46</text>
<text x="264.2" y="178.7" font-size="6.6" text-anchor="middle" font-weight="normal" fill="#222"  stroke="#222" stroke-width="0.18">34</text>
<text x="295.4" y="178.7" font-size="6.6" text-anchor="middle" font-weight="normal" fill="#222"  stroke="#222" stroke-width="0.18">100</text>
<text x="318.5" y="178.7" font-size="6.6" text-anchor="middle" font-weight="normal" fill="#222"  stroke="#222" stroke-width="0.18">96</text>
<text x="340.4" y="178.7" font-size="6.6" text-anchor="middle" font-weight="normal" fill="#222"  stroke="#222" stroke-width="0.18">21</text>
<text x="362.4" y="178.7" font-size="6.6" text-anchor="middle" font-weight="normal" fill="#222"  stroke="#222" stroke-width="0.18">9</text>
<text x="194.6" y="293" font-size="7" text-anchor="middle" font-weight="normal" fill="#222"  stroke="#222" stroke-width="0.18">4</text>
<text x="217.7" y="293" font-size="7" text-anchor="middle" font-weight="normal" fill="#222"  stroke="#222" stroke-width="0.18">5</text>
<text x="239.7" y="293" font-size="7" text-anchor="middle" font-weight="normal" fill="#222"  stroke="#222" stroke-width="0.18">6</text>
<text x="263.9" y="293" font-size="7" text-anchor="middle" font-weight="normal" fill="#222"  stroke="#222" stroke-width="0.18">7</text>
<text x="296.1" y="293" font-size="7" text-anchor="middle" font-weight="normal" fill="#222"  stroke="#222" stroke-width="0.18">4</text>
<text x="319" y="293" font-size="7" text-anchor="middle" font-weight="normal" fill="#222"  stroke="#222" stroke-width="0.18">5</text>
<text x="340.4" y="293" font-size="7" text-anchor="middle" font-weight="normal" fill="#222"  stroke="#222" stroke-width="0.18">6</text>
<text x="362.4" y="293" font-size="7" text-anchor="middle" font-weight="normal" fill="#222"  stroke="#222" stroke-width="0.18">7</text>
<text x="229.4" y="304.6" font-size="9.2" text-anchor="middle" font-weight="bold" fill="#000" textLength="9.8" lengthAdjust="spacingAndGlyphs">Day</text>
<text x="331.2" y="304.6" font-size="9.2" text-anchor="middle" font-weight="bold" fill="#000" textLength="9.8" lengthAdjust="spacingAndGlyphs">Day</text>
<text x="181.2" y="279.2" font-size="6.6" text-anchor="start" font-weight="normal" fill="#222"  stroke="#222" stroke-width="0.18">- calcitriol</text>
<text x="283.2" y="279.2" font-size="6.6" text-anchor="start" font-weight="normal" fill="#222"  stroke="#222" stroke-width="0.18">+ calcitriol</text>
<text x="393.2" y="180.6" font-size="11.7" text-anchor="start" font-weight="bold" fill="#000" stroke="#000" stroke-width="0.35">F</text>
<line x1="421.9" y1="196.3" x2="421.9" y2="285.6" stroke="#111" stroke-width="1.5" />
<line x1="421.29999999999995" y1="282.6" x2="511.5" y2="282.6" stroke="#111" stroke-width="1.5" />
<line x1="418.9" y1="282.6" x2="421.9" y2="282.6" stroke="#111" stroke-width="1" />
<text x="415.5" y="285.0" font-size="6.8" text-anchor="end" font-weight="normal" fill="#222"  stroke="#222" stroke-width="0.18">0</text>
<line x1="418.9" y1="251.00000000000003" x2="421.9" y2="251.00000000000003" stroke="#111" stroke-width="1" />
<text x="415.5" y="253.40000000000003" font-size="6.8" text-anchor="end" font-weight="normal" fill="#222"  stroke="#222" stroke-width="0.18">1</text>
<line x1="418.9" y1="219.40000000000003" x2="421.9" y2="219.40000000000003" stroke="#111" stroke-width="1" />
<text x="415.5" y="221.80000000000004" font-size="6.8" text-anchor="end" font-weight="normal" fill="#222"  stroke="#222" stroke-width="0.18">2</text>
<line x1="438.5" y1="282.6" x2="438.5" y2="285.6" stroke="#111" stroke-width="1" />
<line x1="455.6" y1="282.6" x2="455.6" y2="285.6" stroke="#111" stroke-width="1" />
<line x1="472.7" y1="282.6" x2="472.7" y2="285.6" stroke="#111" stroke-width="1" />
<line x1="489.8" y1="282.6" x2="489.8" y2="285.6" stroke="#111" stroke-width="1" />
<line x1="506.9" y1="282.6" x2="506.9" y2="285.6" stroke="#111" stroke-width="1" />
<text x="431.0" y="294.5" font-size="6.8" text-anchor="middle" font-weight="normal" fill="#222"  stroke="#222" stroke-width="0.18">1</text>
<text x="447.8" y="294.5" font-size="6.8" text-anchor="middle" font-weight="normal" fill="#222"  stroke="#222" stroke-width="0.18">2</text>
<text x="464.7" y="294.5" font-size="6.8" text-anchor="middle" font-weight="normal" fill="#222"  stroke="#222" stroke-width="0.18">3</text>
<text x="481.5" y="294.5" font-size="6.8" text-anchor="middle" font-weight="normal" fill="#222"  stroke="#222" stroke-width="0.18">4</text>
<text x="498.8" y="294.5" font-size="6.8" text-anchor="middle" font-weight="normal" fill="#222"  stroke="#222" stroke-width="0.18">5</text>
<text x="466.5" y="306.9" font-size="9.2" text-anchor="middle" font-weight="bold" fill="#000" textLength="9.8" lengthAdjust="spacingAndGlyphs">Day</text>
<text transform="translate(404.2,242.2) rotate(-90)" font-size="8" stroke="#000" stroke-width="0.25" text-anchor="middle" textLength="46" lengthAdjust="spacingAndGlyphs">Normalized EdU<tspan font-size="5" dy="-2.5">+</tspan></text>
<line x1="446.9" y1="241.52" x2="446.9" y2="246.89200000000002" stroke="#111" stroke-width="1.1" />
<line x1="444.65" y1="241.52" x2="449.15" y2="241.52" stroke="#111" stroke-width="1.1" />
<line x1="444.65" y1="246.89200000000002" x2="449.15" y2="246.89200000000002" stroke="#111" stroke-width="1.1" />
<line x1="481.3" y1="233.62" x2="481.3" y2="239.94000000000003" stroke="#111" stroke-width="1.1" />
<line x1="479.05" y1="233.62" x2="483.55" y2="233.62" stroke="#111" stroke-width="1.1" />
<line x1="479.05" y1="239.94000000000003" x2="483.55" y2="239.94000000000003" stroke="#111" stroke-width="1.1" />
<line x1="498.6" y1="228.56400000000002" x2="498.6" y2="230.46000000000004" stroke="#111" stroke-width="1.1" />
<line x1="496.35" y1="228.56400000000002" x2="500.85" y2="228.56400000000002" stroke="#111" stroke-width="1.1" />
<line x1="496.35" y1="230.46000000000004" x2="500.85" y2="230.46000000000004" stroke="#111" stroke-width="1.1" />
<line x1="446.9" y1="247.84000000000003" x2="446.9" y2="254.16000000000003" stroke="#111" stroke-width="1.1" />
<line x1="444.65" y1="247.84000000000003" x2="449.15" y2="247.84000000000003" stroke="#111" stroke-width="1.1" />
<line x1="444.65" y1="254.16000000000003" x2="449.15" y2="254.16000000000003" stroke="#111" stroke-width="1.1" />
<line x1="481.3" y1="244.68" x2="481.3" y2="257.004" stroke="#111" stroke-width="1.1" />
<line x1="479.05" y1="244.68" x2="483.55" y2="244.68" stroke="#111" stroke-width="1.1" />
<line x1="479.05" y1="257.004" x2="483.55" y2="257.004" stroke="#111" stroke-width="1.1" />
<line x1="498.6" y1="247.84000000000003" x2="498.6" y2="254.16000000000003" stroke="#111" stroke-width="1.1" />
<line x1="496.35" y1="247.84000000000003" x2="500.85" y2="247.84000000000003" stroke="#111" stroke-width="1.1" />
<line x1="496.35" y1="254.16000000000003" x2="500.85" y2="254.16000000000003" stroke="#111" stroke-width="1.1" />
<polyline points="429.6,251.0 446.9,251.0 464.1,251.0 481.3,251.0 498.6,251.0" fill="none" stroke="#b0143a" stroke-width="1.7"/>
<polyline points="429.6,251.0 446.9,244.7 464.1,245.3 481.3,236.8 498.6,229.5" fill="none" stroke="#243d70" stroke-width="1.7"/>
<circle cx="429.6" cy="251.0" r="1.9" fill="#b0143a"/>
<circle cx="446.9" cy="251.0" r="1.9" fill="#b0143a"/>
<circle cx="464.1" cy="251.0" r="1.9" fill="#b0143a"/>
<circle cx="481.3" cy="251.0" r="1.9" fill="#b0143a"/>
<circle cx="498.6" cy="251.0" r="1.9" fill="#b0143a"/>
<rect x="427.7" y="249.1" width="3.8" height="3.8" fill="#243d70"/>
<rect x="445.0" y="242.8" width="3.8" height="3.8" fill="#243d70"/>
<rect x="462.2" y="243.4" width="3.8" height="3.8" fill="#243d70"/>
<rect x="479.4" y="234.9" width="3.8" height="3.8" fill="#243d70"/>
<rect x="496.7" y="227.6" width="3.8" height="3.8" fill="#243d70"/>
<text x="464.1" y="242.6" font-size="6" text-anchor="middle" font-weight="normal" fill="#111"  stroke="#111" stroke-width="0.18">*</text>
<text x="481.3" y="234.4" font-size="6" text-anchor="middle" font-weight="normal" fill="#111"  stroke="#111" stroke-width="0.18">*</text>
<text x="498.6" y="227.1" font-size="5.5" text-anchor="middle" font-weight="normal" fill="#111"  stroke="#111" stroke-width="0.18">***</text>
<line x1="425.9" y1="204.3" x2="442.9" y2="204.3" stroke="#5e0c22" stroke-width="1.4" />
<circle cx="434.4" cy="204.3" r="2.1" fill="#b0143a"/>
<text x="446" y="206.4" font-size="6.8" text-anchor="start" font-weight="normal" fill="#222"  stroke="#222" stroke-width="0.18">- calcitriol</text>
<line x1="425.9" y1="213.7" x2="442.9" y2="213.7" stroke="#1f3560" stroke-width="1.4" />
<rect x="432.2" y="211.6" width="4.4" height="4.1" fill="#243d70"/>
<text x="446" y="216.0" font-size="6.8" text-anchor="start" font-weight="normal" fill="#222"  stroke="#222" stroke-width="0.18">+ calcitriol</text>
<line x1="518.5" y1="0" x2="518.5" y2="317" stroke="#555"/>
<line x1="0" y1="315.5" x2="520" y2="315.5" stroke="#555"/>
<line x1="519.5" y1="0" x2="519.5" y2="317" stroke="#000"/>
<line x1="0" y1="316.5" x2="520" y2="316.5" stroke="#000"/>
<line x1="0.5" y1="0" x2="0.5" y2="317" stroke="#000"/>
<line x1="0" y1="0.5" x2="520" y2="0.5" stroke="#000"/>
</svg>
</body></html>
